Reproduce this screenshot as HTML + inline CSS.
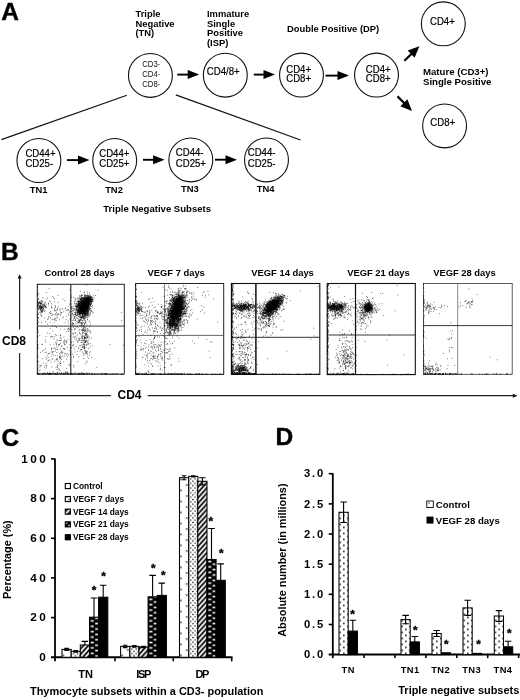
<!DOCTYPE html><html><head><meta charset="utf-8"><title>Figure</title><style>
html,body{margin:0;padding:0;background:#fff}svg{display:block}
text{font-family:"Liberation Sans", Arial, Helvetica, sans-serif;fill:#000}.b{font-weight:bold}.t{font-size:9.4px;font-weight:bold}.c{font-size:10.4px;fill:#000;stroke:#000;stroke-width:.2px}.c2{font-size:8.4px;fill:#111}
.pl{font-size:24.5px;font-weight:bold;stroke:#000;stroke-width:.4px}.ax{font-size:10.7px;font-weight:bold;letter-spacing:2.2px}.lg{font-size:8.4px;font-weight:bold}
</style></head><body>
<svg width="520" height="700" viewBox="0 0 520 700">
<rect width="520" height="700" fill="#fff"/>
<defs>
</defs>
<text x="1.3" y="19.6" class="pl">A</text>
<text x="135.5" y="17" class="t">Triple</text>
<text x="135.5" y="27" class="t">Negative</text>
<text x="135.5" y="36.3" class="t">(TN)</text>
<text x="207" y="17" class="t">Immature</text>
<text x="207" y="27" class="t">Single</text>
<text x="207" y="36.3" class="t">Positive</text>
<text x="207" y="46.3" class="t">(ISP)</text>
<text x="287" y="32" class="t">Double Positive (DP)</text>
<text x="423" y="75" class="t" style="font-size:9.65px">Mature (CD3+)</text>
<text x="423" y="84.6" class="t" style="font-size:9.65px">Single Positive</text>
<circle cx="150.4" cy="75.4" r="21.95" fill="#fff" stroke="#111" stroke-width="1.1"/>
<circle cx="225.3" cy="75.2" r="21.95" fill="#fff" stroke="#111" stroke-width="1.1"/>
<circle cx="301.5" cy="75.1" r="21.95" fill="#fff" stroke="#111" stroke-width="1.1"/>
<circle cx="376.5" cy="75.1" r="21.95" fill="#fff" stroke="#111" stroke-width="1.1"/>
<circle cx="443.3" cy="23.8" r="21.95" fill="#fff" stroke="#111" stroke-width="1.1"/>
<circle cx="444.6" cy="125.9" r="21.95" fill="#fff" stroke="#111" stroke-width="1.1"/>
<circle cx="38.9" cy="160.5" r="21.95" fill="#fff" stroke="#111" stroke-width="1.1"/>
<circle cx="114.7" cy="160.5" r="21.95" fill="#fff" stroke="#111" stroke-width="1.1"/>
<circle cx="190.8" cy="159.9" r="21.95" fill="#fff" stroke="#111" stroke-width="1.1"/>
<circle cx="266.5" cy="159.9" r="21.95" fill="#fff" stroke="#111" stroke-width="1.1"/>
<text class="c2" transform="translate(142.2 67.3) scale(0.925 1)">CD3-</text>
<text class="c2" transform="translate(142.2 77) scale(0.925 1)">CD4-</text>
<text class="c2" transform="translate(142.2 86.7) scale(0.925 1)">CD8-</text>
<text class="c" transform="translate(206.8 75.3) scale(0.925 1)">CD4/8+</text>
<text class="c" transform="translate(286.2 72.6) scale(0.925 1)">CD4+</text>
<text class="c" transform="translate(286.2 82.4) scale(0.925 1)">CD8+</text>
<text class="c" transform="translate(365.8 72.6) scale(0.925 1)">CD4+</text>
<text class="c" transform="translate(365.8 82.4) scale(0.925 1)">CD8+</text>
<text class="c" transform="translate(430 24.9) scale(0.925 1)">CD4+</text>
<text class="c" transform="translate(430.3 125.9) scale(0.925 1)">CD8+</text>
<text class="c" transform="translate(25.4 156.6) scale(0.925 1)">CD44+</text>
<text class="c" transform="translate(25.4 167.2) scale(0.925 1)">CD25-</text>
<text class="c" transform="translate(99.2 156.6) scale(0.925 1)">CD44+</text>
<text class="c" transform="translate(99.2 167.2) scale(0.925 1)">CD25+</text>
<text class="c" transform="translate(175.8 156.4) scale(0.925 1)">CD44-</text>
<text class="c" transform="translate(175.8 166.7) scale(0.925 1)">CD25+</text>
<text class="c" transform="translate(247.7 156.4) scale(0.925 1)">CD44-</text>
<text class="c" transform="translate(247.7 166.7) scale(0.925 1)">CD25-</text>
<line x1="177.3" y1="74.6" x2="188.7" y2="74.6" stroke="#000" stroke-width="1.9"/>
<polygon points="199.2,74.6 187.7,79.1 187.7,70.1" fill="#000"/>
<line x1="253.8" y1="74.6" x2="264.5" y2="74.6" stroke="#000" stroke-width="1.9"/>
<polygon points="275.0,74.6 263.5,79.1 263.5,70.1" fill="#000"/>
<line x1="325.5" y1="75.6" x2="338.5" y2="75.6" stroke="#000" stroke-width="1.9"/>
<polygon points="349.0,75.6 337.5,80.1 337.5,71.1" fill="#000"/>
<line x1="404.4" y1="60.7" x2="411.9" y2="53.5" stroke="#000" stroke-width="2.2"/>
<polygon points="419.4,46.2 414.6,57.8 407.7,50.6" fill="#000"/>
<line x1="397.5" y1="96.4" x2="404.6" y2="103.5" stroke="#000" stroke-width="2.2"/>
<polygon points="412.0,110.9 400.3,106.3 407.4,99.2" fill="#000"/>
<line x1="66.9" y1="160.1" x2="79.0" y2="160.1" stroke="#000" stroke-width="1.9"/>
<polygon points="89.5,160.1 78.0,164.6 78.0,155.6" fill="#000"/>
<line x1="143.0" y1="159.8" x2="154.1" y2="159.8" stroke="#000" stroke-width="1.9"/>
<polygon points="164.6,159.8 153.1,164.3 153.1,155.3" fill="#000"/>
<line x1="215.0" y1="159.7" x2="226.5" y2="159.7" stroke="#000" stroke-width="1.9"/>
<polygon points="237.0,159.7 225.5,164.2 225.5,155.2" fill="#000"/>
<line x1="1.4" y1="139.6" x2="126.9" y2="95.2" stroke="#111" stroke-width="1.2"/>
<line x1="175.8" y1="94.9" x2="300.5" y2="140" stroke="#111" stroke-width="1.2"/>
<text x="38.7" y="193" class="t" text-anchor="middle">TN1</text>
<text x="114" y="193" class="t" text-anchor="middle">TN2</text>
<text x="189.8" y="192.1" class="t" text-anchor="middle">TN3</text>
<text x="265.7" y="192.1" class="t" text-anchor="middle">TN4</text>
<text x="103.3" y="211.8" class="t" style="font-size:9.55px">Triple Negative Subsets</text>
<text x="1.1" y="259.8" class="pl">B</text>
<text x="44.5" y="276.3" class="t">Control 28 days</text>
<text x="147.5" y="276.3" class="t">VEGF 7 days</text>
<text x="251.3" y="276.3" class="t">VEGF 14 days</text>
<text x="347.2" y="276.3" class="t">VEGF 21 days</text>
<text x="433.2" y="276.3" class="t">VEGF 28 days</text>
<text x="2" y="344.7" class="b" font-size="12px">CD8</text>
<text x="117.5" y="398.9" class="b" font-size="12px">CD4</text>
<path d="M19.6 278V329.5M19.6 353V395.7H110.8M147.7 395.7H514" fill="none" stroke="#222" stroke-width="1.2"/>
<polygon points="19.6,274.3 17.6,278.4 21.6,278.4" fill="#111"/><polygon points="517.5,395.7 512.8,393.7 512.8,397.7" fill="#111"/>
<rect x="37.3" y="284.3" width="87.0" height="89.9" fill="#fff" stroke="#222" stroke-width="1.0"/>
<line x1="70.8" y1="284.3" x2="70.8" y2="374.2" stroke="#222" stroke-width="1.1"/>
<line x1="37.3" y1="326.1" x2="124.3" y2="326.1" stroke="#222" stroke-width="0.9"/>
<path d="M82.1 308.8h.8M82.7 305.4h.8M80.7 305.5h.8M85.9 309.0h.8M85.8 308.3h.8M84.1 307.7h.8M78.0 309.7h.8M84.2 309.1h.8M79.5 298.9h.8M80.9 304.5h.8M84.0 306.7h.8M84.9 304.4h.8M83.7 308.6h.8M80.2 313.7h.8M83.9 312.0h.8M81.8 303.5h.8M82.2 306.2h.8M84.7 308.1h.8M82.5 302.6h.8M80.9 311.7h.8M80.7 307.5h.8M85.2 300.8h.8M82.4 312.2h.8M77.7 304.6h.8M83.3 303.4h.8M84.5 306.7h.8M78.5 309.6h.8M84.4 311.0h.8M86.9 308.9h.8M84.2 301.5h.8M85.2 304.5h.8M82.6 301.4h.8M80.8 304.2h.8M87.9 298.9h.8M78.9 307.2h.8M86.7 309.8h.8M79.4 295.5h.8M84.6 303.9h.8M79.4 310.4h.8M86.1 307.9h.8M83.5 308.7h.8M87.1 310.0h.8M84.2 309.3h.8M78.0 311.5h.8M85.4 309.4h.8M78.0 303.3h.8M86.6 299.6h.8M82.0 311.0h.8M78.5 312.9h.8M84.7 306.4h.8M83.6 309.6h.8M82.7 311.6h.8M81.5 304.8h.8M86.0 307.3h.8M80.1 310.4h.8M87.4 305.6h.8M79.4 305.7h.8M82.9 305.5h.8M87.6 303.1h.8M87.4 302.1h.8M80.5 309.1h.8M85.7 310.8h.8M84.0 307.5h.8M83.2 309.3h.8M82.4 307.9h.8M84.7 307.0h.8M84.9 309.5h.8M88.5 309.0h.8M82.2 305.1h.8M82.5 310.6h.8M81.9 308.3h.8M89.8 296.9h.8M79.8 307.3h.8M84.1 308.0h.8M81.5 309.3h.8M84.2 304.8h.8M89.6 309.3h.8M81.6 306.2h.8M82.5 306.4h.8M75.9 303.6h.8M86.6 302.4h.8M82.3 310.7h.8M84.5 313.4h.8M78.6 304.6h.8M81.8 309.2h.8M87.8 296.1h.8M87.0 301.2h.8M85.9 300.9h.8M82.8 311.8h.8M82.6 307.5h.8M85.2 307.7h.8M81.9 313.1h.8M86.2 306.0h.8M91.4 303.2h.8M85.8 306.1h.8M83.0 309.8h.8M83.3 309.5h.8M79.8 299.9h.8M85.4 303.1h.8M81.2 300.3h.8M86.1 310.4h.8M87.8 303.5h.8M83.8 302.1h.8M84.2 313.7h.8M79.7 312.9h.8M85.9 306.5h.8M76.8 311.8h.8M83.2 304.3h.8M83.9 308.7h.8M87.9 303.2h.8M85.3 313.5h.8M87.2 306.7h.8M80.4 310.7h.8M83.3 307.4h.8M87.2 306.3h.8M77.0 304.2h.8M77.5 309.4h.8M84.4 304.4h.8M82.6 310.3h.8M82.5 312.3h.8M82.3 311.1h.8M86.2 314.1h.8M80.7 310.2h.8M78.6 301.5h.8M77.0 310.4h.8M79.7 306.2h.8M82.6 306.6h.8M81.3 307.5h.8M88.0 307.7h.8M83.9 311.2h.8M83.3 301.5h.8M80.9 311.0h.8M78.9 303.6h.8M85.4 310.5h.8M82.6 310.1h.8M84.3 302.0h.8M79.2 303.5h.8M86.0 304.8h.8M81.1 303.2h.8M78.9 305.7h.8M79.6 307.8h.8M76.4 307.2h.8M82.5 298.5h.8M85.3 306.0h.8M77.5 302.2h.8M84.2 305.0h.8M84.8 310.2h.8M84.7 308.4h.8M86.4 310.1h.8M85.7 298.3h.8M84.8 312.6h.8M82.6 304.7h.8M89.6 300.3h.8M82.9 317.1h.8M80.1 309.3h.8M88.4 307.1h.8M84.1 310.8h.8M80.6 306.1h.8M83.4 310.4h.8M83.1 306.0h.8M80.5 304.9h.8M85.5 307.6h.8M81.3 302.9h.8M89.8 312.6h.8M86.5 296.3h.8M84.5 309.1h.8M87.5 309.3h.8M82.6 308.9h.8M77.1 310.3h.8M84.4 304.0h.8M85.6 314.9h.8M79.6 303.4h.8M83.8 307.7h.8M82.6 302.6h.8M88.3 312.0h.8M80.6 300.7h.8M87.2 311.6h.8M87.6 310.9h.8M80.5 307.5h.8M77.6 302.8h.8M82.6 308.9h.8M81.2 306.0h.8M84.1 308.6h.8M84.7 307.9h.8M81.7 309.9h.8M83.8 303.4h.8M81.4 306.5h.8M82.7 307.4h.8M83.0 307.5h.8M83.5 301.5h.8M83.6 311.4h.8M84.4 306.2h.8M84.9 303.0h.8M77.8 306.3h.8M80.1 309.5h.8M81.7 295.4h.8M79.2 312.9h.8M82.9 301.0h.8M80.7 308.6h.8M84.4 307.7h.8M86.8 310.4h.8M82.7 309.3h.8M87.1 311.5h.8M86.6 302.7h.8M82.2 309.8h.8M81.6 311.1h.8M84.2 310.8h.8M80.9 317.3h.8M86.7 306.4h.8M81.7 317.6h.8M81.6 310.3h.8M85.8 307.2h.8M79.8 307.1h.8M83.4 311.6h.8M85.3 307.2h.8M85.1 309.4h.8M83.6 307.1h.8M82.0 309.5h.8M80.6 303.7h.8M84.0 300.7h.8M83.2 298.3h.8M80.9 308.9h.8M84.7 306.8h.8M83.3 300.8h.8M87.8 309.7h.8M86.7 303.6h.8M83.7 299.2h.8M84.7 311.0h.8M77.9 305.8h.8M86.0 299.7h.8M78.7 301.6h.8M82.2 300.7h.8M83.0 307.8h.8M84.4 310.0h.8M86.5 312.3h.8M79.8 304.2h.8M80.8 301.9h.8M82.9 306.8h.8M85.5 300.4h.8M79.7 306.2h.8M82.7 305.4h.8M83.4 303.6h.8M84.8 308.6h.8M83.3 304.0h.8M84.3 295.4h.8M80.4 306.5h.8M78.8 307.0h.8M84.4 301.1h.8M82.6 305.4h.8M84.0 309.5h.8M83.5 303.2h.8M82.7 306.5h.8M84.9 308.3h.8M81.9 300.9h.8M82.5 303.6h.8M80.1 305.9h.8M81.7 307.0h.8M84.8 305.3h.8M89.7 306.4h.8M86.1 307.8h.8M87.7 297.4h.8M80.9 307.5h.8M83.3 316.8h.8M83.2 312.2h.8M84.6 311.1h.8M84.6 306.4h.8M85.2 302.5h.8M87.0 303.1h.8M82.5 315.7h.8M82.5 306.8h.8M86.3 307.4h.8M80.7 307.5h.8M84.3 310.0h.8M79.9 313.8h.8M87.7 307.6h.8M84.1 305.1h.8M87.5 304.5h.8M85.3 305.1h.8M80.7 309.5h.8M86.8 307.3h.8M80.7 309.9h.8M82.8 308.1h.8M86.6 312.1h.8M80.2 316.1h.8M82.6 310.1h.8M81.3 306.3h.8M77.1 313.5h.8M87.6 302.3h.8M80.0 299.4h.8M86.6 305.4h.8M83.1 305.5h.8M83.4 302.2h.8M84.1 300.8h.8M82.7 308.1h.8M84.5 306.0h.8M80.5 307.1h.8M80.8 313.1h.8M85.3 306.6h.8M82.2 303.7h.8M80.7 304.9h.8M83.6 309.1h.8M83.4 315.8h.8M81.1 306.6h.8M92.0 300.2h.8M81.5 307.3h.8M83.3 308.6h.8M82.2 308.2h.8M82.8 310.0h.8M78.4 302.3h.8M83.7 302.5h.8M79.8 309.0h.8M80.9 309.2h.8M85.0 308.4h.8M84.6 306.6h.8M79.2 306.1h.8M84.7 304.8h.8M82.4 309.9h.8M80.3 309.1h.8M88.6 305.3h.8M83.6 306.2h.8M87.2 308.8h.8M86.0 304.3h.8M83.1 306.8h.8M77.3 312.0h.8M86.7 299.9h.8M85.2 306.6h.8M84.1 308.5h.8M79.1 305.3h.8M87.6 305.0h.8M81.1 300.7h.8M79.5 307.7h.8M87.5 309.3h.8M82.4 316.2h.8M82.1 303.8h.8M84.2 309.3h.8M81.0 301.5h.8M83.8 307.9h.8M79.6 305.4h.8M81.3 308.5h.8M82.8 306.4h.8M81.5 311.0h.8M87.2 305.9h.8M85.9 304.0h.8M82.8 309.9h.8M87.5 305.8h.8M82.8 307.6h.8M78.9 306.2h.8M81.0 308.1h.8M81.2 298.1h.8M83.0 307.9h.8M81.0 310.3h.8M82.7 304.2h.8M85.4 300.5h.8M81.2 306.4h.8M85.6 306.5h.8M84.4 304.2h.8M82.9 313.8h.8M79.7 316.3h.8M81.3 306.6h.8M82.9 311.1h.8M81.0 297.6h.8M84.3 310.4h.8M83.2 318.0h.8M83.5 307.9h.8M85.4 308.7h.8M88.5 302.4h.8M84.2 292.3h.8M85.6 305.6h.8M84.3 316.1h.8M83.2 305.7h.8M82.2 303.1h.8M81.0 309.2h.8M83.2 307.1h.8M82.0 310.5h.8M84.6 306.4h.8M85.0 306.4h.8M79.0 312.4h.8M85.0 303.0h.8M85.9 308.7h.8M77.8 312.8h.8M83.5 310.6h.8M83.7 306.3h.8M78.2 310.2h.8M83.4 305.6h.8M84.0 307.3h.8M85.2 305.5h.8M84.3 297.9h.8M81.5 309.4h.8M87.0 305.8h.8M81.8 313.3h.8M81.7 309.7h.8M87.7 307.7h.8M86.9 304.4h.8M83.7 306.6h.8M82.7 311.5h.8M90.1 305.0h.8M81.2 308.6h.8M79.9 308.4h.8M84.9 305.9h.8M85.5 300.6h.8M86.2 300.7h.8M81.5 304.2h.8M81.5 310.2h.8M83.6 305.2h.8M83.6 313.6h.8M82.9 308.3h.8M86.4 308.4h.8M78.0 316.6h.8M90.5 299.5h.8M82.7 308.5h.8M85.4 310.0h.8M83.0 302.3h.8M82.7 311.1h.8M80.7 302.1h.8M84.2 298.7h.8M82.7 304.9h.8M84.8 304.1h.8M80.9 304.8h.8M83.4 304.0h.8M82.7 309.9h.8M85.3 314.4h.8M81.2 304.7h.8M75.0 313.6h.8M81.1 306.4h.8M85.4 301.4h.8M84.4 306.9h.8M77.9 307.2h.8M87.6 299.5h.8M85.2 308.0h.8M84.1 308.8h.8M86.9 306.4h.8M85.8 305.5h.8M85.6 303.7h.8M81.7 313.9h.8M84.4 306.3h.8M80.4 303.0h.8M83.0 310.8h.8M84.0 309.2h.8M82.1 312.4h.8M82.4 304.4h.8M85.5 307.4h.8M82.7 304.3h.8M82.0 309.3h.8M84.8 301.9h.8M84.2 307.7h.8M79.8 309.6h.8M82.5 305.3h.8M84.5 312.6h.8M80.9 308.3h.8M79.2 316.0h.8M81.0 311.6h.8M80.8 309.9h.8M90.8 297.2h.8M81.6 308.7h.8M83.3 304.0h.8M89.0 308.0h.8M78.0 309.7h.8M77.6 310.9h.8M81.4 307.2h.8M86.5 307.8h.8M80.3 299.2h.8M85.9 310.4h.8M80.3 310.0h.8M84.1 309.7h.8M77.0 304.6h.8M85.1 310.2h.8M87.1 297.0h.8M83.3 308.9h.8M90.8 303.9h.8M82.2 306.8h.8M85.8 305.3h.8M86.8 304.0h.8M84.2 304.7h.8M84.0 304.0h.8M78.0 310.7h.8M84.3 304.6h.8M83.0 311.0h.8M80.5 305.9h.8M84.3 309.2h.8M83.5 297.9h.8M86.3 308.7h.8M83.3 305.6h.8M84.1 305.1h.8M80.7 303.3h.8M81.8 304.0h.8M79.5 309.0h.8M79.1 309.0h.8M80.1 307.8h.8M86.8 308.2h.8M81.0 306.7h.8M84.6 299.7h.8M81.3 307.2h.8M81.8 306.9h.8M84.7 310.3h.8M85.2 309.6h.8M82.3 306.6h.8M82.5 305.4h.8M83.7 299.6h.8M82.2 306.6h.8M80.4 306.3h.8M84.6 306.3h.8M90.5 296.8h.8M83.7 299.1h.8M84.1 318.2h.8M76.1 306.3h.8M84.7 305.8h.8M86.0 297.7h.8M85.2 308.7h.8M83.5 304.4h.8M85.2 305.1h.8M84.0 304.8h.8M76.9 305.7h.8M83.2 310.0h.8M80.7 306.3h.8M84.7 307.7h.8M85.3 315.6h.8M81.8 298.4h.8M84.5 313.5h.8M85.1 310.6h.8M81.8 303.6h.8M86.1 303.4h.8M78.7 301.9h.8M88.8 315.8h.8M81.7 303.5h.8M84.2 303.8h.8M86.8 307.0h.8M79.3 311.8h.8M81.3 307.5h.8M83.3 305.5h.8M84.4 304.1h.8M79.4 296.9h.8M80.1 303.1h.8M83.0 307.0h.8M84.6 307.5h.8M81.3 303.5h.8M77.3 305.2h.8M84.1 309.2h.8M82.9 306.0h.8M85.7 307.3h.8M84.8 309.5h.8M82.9 312.3h.8M81.7 305.1h.8M81.4 303.2h.8M86.3 314.8h.8M82.8 309.2h.8M85.8 310.6h.8M87.2 302.1h.8M81.0 308.4h.8M87.0 307.8h.8M80.9 305.0h.8M81.8 303.0h.8M87.6 304.8h.8M81.8 315.8h.8M86.2 308.7h.8M81.1 308.2h.8M87.2 310.1h.8M86.5 307.7h.8M84.7 306.2h.8M83.5 312.4h.8M79.2 305.9h.8M84.1 304.5h.8M81.8 309.9h.8M88.2 310.3h.8M85.0 300.5h.8M88.4 307.9h.8M83.7 302.1h.8M83.6 302.2h.8M83.0 308.8h.8M83.0 308.0h.8M79.8 312.4h.8M82.4 299.0h.8M83.1 303.5h.8M80.5 304.9h.8M84.6 302.0h.8M81.8 312.7h.8M85.1 306.5h.8M83.5 306.4h.8M82.5 309.8h.8M84.4 296.8h.8M83.6 303.1h.8M85.3 304.5h.8M82.1 315.9h.8M80.9 301.7h.8M80.7 296.3h.8M77.7 307.5h.8M82.5 298.8h.8M78.6 308.7h.8M81.2 305.0h.8M83.2 312.6h.8M87.8 311.9h.8M83.4 307.6h.8M87.2 313.5h.8M82.0 308.6h.8M83.9 307.1h.8M82.5 301.1h.8M82.6 300.2h.8M86.2 309.5h.8M78.9 312.1h.8M86.8 299.2h.8M87.7 310.9h.8M89.6 302.6h.8M84.3 308.8h.8M83.6 307.6h.8M87.0 301.0h.8M80.5 300.5h.8M81.9 304.1h.8M83.9 308.1h.8M83.6 304.0h.8M81.3 310.6h.8M85.2 307.5h.8M81.2 313.1h.8M81.0 309.2h.8M86.5 306.2h.8M86.1 302.5h.8M85.8 308.1h.8M78.3 308.9h.8M79.8 311.7h.8M81.3 305.8h.8M84.1 305.5h.8M84.2 304.6h.8M85.0 307.1h.8M85.4 295.5h.8M86.3 307.4h.8M78.1 306.5h.8M83.7 311.4h.8M79.1 312.8h.8M81.2 316.7h.8M82.3 309.6h.8M82.8 302.0h.8M85.6 311.0h.8M86.8 311.0h.8M82.6 299.7h.8M81.7 303.7h.8M80.5 308.9h.8M84.2 305.8h.8M83.7 306.3h.8M83.2 310.0h.8M86.2 304.4h.8M78.0 312.1h.8M82.7 311.4h.8M78.8 304.7h.8M84.1 300.8h.8M81.2 309.6h.8M85.1 313.9h.8M81.6 300.6h.8M84.0 310.9h.8M84.5 301.5h.8M84.8 310.4h.8M84.9 305.0h.8M83.4 310.2h.8M82.7 298.9h.8M83.7 308.9h.8M82.6 310.5h.8M81.5 306.2h.8M81.9 309.0h.8M87.7 306.4h.8M87.8 314.0h.8M84.9 309.6h.8M88.1 306.8h.8M83.5 302.3h.8M83.6 312.6h.8M84.3 308.8h.8M82.4 307.4h.8M78.5 310.6h.8M82.7 302.0h.8M81.5 303.1h.8M84.8 311.6h.8M78.8 310.1h.8M85.9 304.8h.8M79.5 303.1h.8M81.1 308.0h.8M83.4 298.2h.8M84.7 300.5h.8M86.4 302.2h.8M81.7 303.0h.8M80.8 312.0h.8M85.1 309.7h.8M85.0 300.5h.8M82.0 304.3h.8M80.1 308.5h.8M81.5 303.5h.8M81.5 297.8h.8M83.9 312.6h.8M84.2 302.8h.8M75.5 306.4h.8M86.3 308.5h.8M84.7 313.3h.8M86.5 305.4h.8M85.5 310.5h.8M79.1 304.5h.8M79.2 305.8h.8M85.4 302.6h.8M76.6 311.3h.8M83.2 313.1h.8M78.8 310.7h.8M87.6 316.0h.8M82.3 307.8h.8M82.0 310.9h.8M85.9 307.6h.8M78.9 309.3h.8M81.4 309.2h.8M82.8 313.7h.8M86.5 305.4h.8M83.0 314.3h.8M81.3 308.4h.8M85.6 312.5h.8M85.4 301.5h.8M79.5 307.3h.8M82.6 317.5h.8M80.0 311.2h.8M86.3 300.2h.8M80.7 307.1h.8M81.8 306.0h.8M84.9 303.6h.8M84.8 304.4h.8M81.3 308.8h.8M81.3 307.8h.8M87.5 307.6h.8M82.2 309.8h.8M81.4 311.1h.8M79.2 308.8h.8M82.2 303.3h.8M88.5 304.0h.8M87.6 310.3h.8M87.7 303.4h.8M85.5 313.4h.8M82.9 306.2h.8M89.8 308.6h.8M82.3 304.0h.8M84.1 308.4h.8M82.5 314.0h.8M81.9 308.6h.8M87.8 303.2h.8M84.8 314.8h.8M80.0 301.7h.8M81.4 298.7h.8M85.5 299.3h.8M83.6 313.0h.8M78.8 304.8h.8M77.3 309.2h.8M81.2 305.4h.8M82.9 309.1h.8M82.1 306.7h.8M81.5 307.0h.8M79.8 306.6h.8M78.1 304.0h.8M88.4 307.9h.8M79.5 307.3h.8M81.4 299.5h.8M80.6 309.6h.8M84.2 306.6h.8M81.2 301.9h.8M86.7 308.4h.8M81.8 297.6h.8M77.8 316.5h.8M80.0 306.0h.8M83.8 306.2h.8M83.2 301.0h.8M79.1 313.4h.8M80.5 310.0h.8M78.6 305.0h.8M83.2 311.2h.8M79.6 308.8h.8M84.6 303.9h.8M85.0 303.3h.8M80.9 306.4h.8M75.7 305.2h.8M81.2 300.3h.8M81.4 309.8h.8M81.2 311.9h.8M80.7 300.9h.8M87.1 309.1h.8M86.2 303.8h.8M85.2 308.2h.8M84.9 307.2h.8M86.8 304.6h.8M81.4 300.3h.8M86.8 304.2h.8M80.8 302.5h.8M82.7 301.3h.8M82.7 304.1h.8M82.2 302.6h.8M83.5 304.9h.8M83.3 307.9h.8M85.4 297.9h.8M82.1 303.3h.8M86.2 300.6h.8M81.3 305.3h.8M81.5 310.8h.8M81.3 310.6h.8M80.2 298.7h.8M86.2 309.1h.8M84.4 307.5h.8M85.2 302.0h.8M86.1 305.0h.8M85.8 307.6h.8M78.4 300.6h.8M86.3 306.7h.8M81.9 307.6h.8M82.3 304.4h.8M83.3 307.4h.8M87.3 307.6h.8M87.2 315.1h.8M87.2 311.9h.8M83.4 307.4h.8M83.2 303.7h.8M83.3 304.1h.8M87.3 309.7h.8M83.1 298.7h.8M83.2 305.0h.8M80.8 301.6h.8M76.5 308.2h.8M81.3 317.5h.8M83.1 306.2h.8M87.0 308.0h.8M83.8 305.3h.8M80.5 312.8h.8M84.8 314.3h.8M82.1 306.8h.8M80.1 310.4h.8M78.9 308.6h.8M85.2 313.1h.8M79.8 310.9h.8M81.6 303.4h.8M78.7 311.0h.8M88.0 305.0h.8M81.2 305.1h.8M89.4 312.0h.8M82.7 299.1h.8M80.5 311.4h.8M88.4 306.5h.8M81.5 304.4h.8M77.3 309.8h.8M79.4 310.8h.8M79.2 300.8h.8M84.4 303.7h.8M85.3 307.2h.8M79.5 308.9h.8M86.6 299.2h.8M87.8 309.6h.8M86.4 299.4h.8M81.3 305.0h.8M87.0 301.2h.8M81.9 298.0h.8M82.2 308.1h.8M78.8 303.6h.8M83.5 313.6h.8M85.1 305.8h.8M80.4 302.4h.8M81.2 307.1h.8M81.9 313.7h.8M84.6 302.5h.8M86.8 311.4h.8M83.8 303.8h.8M78.6 301.8h.8M86.1 303.8h.8M79.3 307.1h.8M83.4 309.4h.8M84.0 312.9h.8M80.2 310.5h.8M79.9 309.3h.8M83.4 307.9h.8M85.8 307.1h.8M85.6 310.9h.8M83.8 304.5h.8M81.3 304.3h.8M82.6 306.6h.8M91.0 310.7h.8M85.8 303.5h.8M81.3 305.2h.8M84.3 302.6h.8M87.9 305.1h.8M87.6 297.6h.8M82.9 308.0h.8M83.3 309.4h.8M83.8 307.6h.8M78.3 303.0h.8M76.2 308.4h.8M84.1 306.1h.8M81.2 304.0h.8M87.1 314.8h.8M82.1 312.1h.8M79.9 298.1h.8M82.3 303.0h.8M81.4 307.3h.8M91.9 305.3h.8M83.1 308.0h.8M82.4 310.7h.8M88.8 302.4h.8M83.7 305.8h.8M85.0 300.6h.8M79.7 296.4h.8M84.4 307.8h.8M84.8 297.0h.8M82.5 303.5h.8M79.8 302.4h.8M84.7 309.4h.8M82.7 308.9h.8M81.4 306.8h.8M82.9 309.1h.8M83.0 306.2h.8M83.1 304.1h.8M89.0 309.9h.8M82.8 316.5h.8M88.0 300.9h.8M84.5 310.6h.8M87.5 313.1h.8M86.0 302.2h.8M80.5 307.6h.8M85.1 302.8h.8M82.3 305.0h.8M83.1 308.2h.8M83.1 301.5h.8M85.5 313.9h.8M82.2 311.0h.8M83.9 309.7h.8M84.9 303.8h.8M84.1 311.2h.8M79.4 314.6h.8M87.7 315.2h.8M88.1 310.7h.8M82.5 304.2h.8M80.8 306.9h.8M82.6 309.6h.8M76.1 315.6h.8M89.4 307.6h.8M84.7 309.1h.8M84.0 306.0h.8M83.3 303.3h.8M83.6 306.8h.8M84.5 303.4h.8M83.2 307.0h.8M85.4 302.6h.8M83.6 311.1h.8M85.0 305.5h.8M81.9 305.6h.8M84.1 313.6h.8M83.1 304.1h.8M84.0 307.8h.8M81.0 303.4h.8M82.4 309.5h.8M80.4 302.1h.8M85.3 301.9h.8M83.2 308.3h.8M83.4 302.5h.8M83.1 305.4h.8M84.6 303.5h.8M87.2 300.3h.8M82.6 306.8h.8M86.1 304.7h.8M85.0 304.7h.8M84.1 314.3h.8M81.7 308.5h.8M79.9 310.5h.8M86.4 307.5h.8M79.7 308.0h.8M85.6 311.8h.8M86.5 299.5h.8M80.3 312.4h.8M79.0 311.0h.8M87.8 310.8h.8M86.4 305.9h.8M79.8 305.9h.8M82.6 306.5h.8M85.1 306.5h.8M83.4 308.6h.8M81.9 314.5h.8M84.3 307.3h.8M82.9 304.1h.8M86.7 308.0h.8M80.5 304.0h.8M83.0 304.9h.8M86.8 302.4h.8M84.4 307.6h.8M79.8 306.5h.8M82.5 308.8h.8M81.7 307.9h.8M79.2 301.6h.8M84.6 311.5h.8M83.4 304.3h.8M87.4 298.6h.8M80.5 309.3h.8M85.6 302.8h.8M77.0 312.0h.8M84.1 303.1h.8M82.7 310.6h.8M75.2 310.3h.8M86.5 298.5h.8M86.4 299.7h.8M86.0 308.9h.8M89.7 305.2h.8M82.5 311.2h.8M81.8 303.6h.8M82.1 306.3h.8M79.8 308.4h.8M84.6 307.3h.8M88.0 306.2h.8M87.1 305.1h.8M86.4 299.1h.8M83.8 306.2h.8M87.1 298.6h.8M87.6 298.5h.8M83.4 297.0h.8M86.9 298.7h.8M85.4 299.2h.8M89.6 300.6h.8M85.1 303.3h.8M88.8 303.6h.8M90.5 300.8h.8M86.2 303.0h.8M86.5 299.7h.8M88.1 301.7h.8M86.0 302.6h.8M86.5 302.1h.8M89.3 303.1h.8M90.4 298.4h.8M85.3 297.8h.8M87.1 304.5h.8M84.6 300.1h.8M86.5 297.9h.8M86.3 301.9h.8M86.9 303.5h.8M84.5 301.7h.8M89.6 301.5h.8M89.2 299.6h.8M85.6 298.5h.8M83.3 306.8h.8M84.9 304.0h.8M87.7 301.4h.8M90.0 299.3h.8M89.2 302.3h.8M83.6 300.5h.8M88.4 302.1h.8M91.5 301.0h.8M88.0 302.8h.8M84.4 302.5h.8M85.7 296.0h.8M89.9 298.4h.8M89.0 296.5h.8M88.9 297.9h.8M89.9 297.1h.8M88.9 300.3h.8M87.8 300.4h.8M89.2 297.5h.8M81.9 298.2h.8M86.0 298.5h.8M90.6 296.1h.8M86.5 298.3h.8M84.9 300.3h.8M88.1 298.4h.8M84.6 301.5h.8M85.5 301.3h.8M90.5 296.4h.8M85.2 299.5h.8M87.6 302.7h.8M88.3 303.7h.8M87.0 299.6h.8M89.7 300.2h.8M91.5 297.7h.8M89.2 300.7h.8M82.3 301.0h.8M88.3 300.8h.8M85.7 298.4h.8M91.8 299.9h.8M80.8 295.2h.8M85.1 299.1h.8M87.7 297.9h.8M84.7 302.2h.8M82.4 303.8h.8M87.5 297.4h.8M88.8 302.6h.8M84.5 301.3h.8M84.5 296.6h.8M90.3 300.9h.8M84.2 300.5h.8M89.6 301.3h.8M84.0 298.0h.8M87.7 302.7h.8M92.0 301.6h.8M86.6 300.0h.8M91.2 299.4h.8M93.3 295.1h.8M90.0 299.6h.8M87.9 302.6h.8M85.1 299.2h.8M87.5 302.1h.8M86.5 297.3h.8M80.8 304.8h.8M87.4 299.8h.8M83.4 301.3h.8M85.0 303.4h.8M89.5 301.3h.8M90.3 298.5h.8M87.5 298.8h.8M84.8 299.4h.8M85.8 303.8h.8M80.9 295.8h.8M86.0 298.5h.8M88.1 301.9h.8M88.1 299.4h.8M88.3 301.8h.8M83.8 298.1h.8M85.8 296.4h.8M87.9 300.8h.8M88.7 298.5h.8M88.1 298.1h.8M87.7 302.5h.8M90.2 305.2h.8M86.3 298.7h.8M85.2 300.4h.8M91.3 304.0h.8M84.0 295.4h.8M84.2 300.5h.8M87.3 301.2h.8M92.4 300.2h.8M83.7 304.4h.8M89.1 299.0h.8M84.7 295.0h.8M82.1 298.4h.8M86.7 302.9h.8M88.0 298.7h.8M84.0 304.4h.8M83.5 299.3h.8M87.0 302.0h.8M86.2 301.3h.8M89.6 300.9h.8M86.8 299.6h.8M85.7 299.1h.8M86.7 300.7h.8M89.2 304.9h.8M86.0 301.5h.8M87.5 302.6h.8M87.4 301.2h.8M87.4 298.2h.8M88.2 304.4h.8M88.6 302.2h.8M88.6 299.7h.8M83.0 300.4h.8M88.6 299.4h.8M84.2 302.7h.8M81.8 303.0h.8M86.6 306.8h.8M86.0 299.8h.8M86.3 300.4h.8M87.9 298.5h.8M90.8 299.6h.8M85.9 301.4h.8M86.9 299.0h.8M88.8 300.0h.8M84.9 299.1h.8M85.4 304.4h.8M84.2 301.8h.8M86.2 298.9h.8M86.6 300.8h.8M87.7 305.5h.8M84.8 303.1h.8M89.0 303.4h.8M85.0 301.9h.8M87.0 301.2h.8M86.3 301.8h.8M88.9 304.3h.8M86.1 302.7h.8M91.8 299.6h.8M92.2 298.7h.8M88.2 302.4h.8M90.6 302.6h.8M87.3 298.1h.8M84.1 301.2h.8M87.8 298.6h.8M89.6 299.2h.8M87.1 299.0h.8M89.8 305.5h.8M88.8 296.6h.8M88.1 300.9h.8M87.8 302.2h.8M86.0 302.4h.8M89.2 301.8h.8M87.2 299.0h.8M90.2 298.5h.8M88.0 298.6h.8M83.9 300.6h.8M87.5 300.6h.8M91.0 297.7h.8M87.2 301.1h.8M90.5 298.7h.8M89.0 301.7h.8M89.4 304.5h.8M86.6 306.2h.8M88.0 299.5h.8M87.8 297.9h.8M89.4 296.0h.8M87.0 301.4h.8M90.1 300.6h.8M91.3 300.2h.8M89.2 295.9h.8M86.7 297.9h.8M90.3 303.1h.8M84.7 300.7h.8M88.9 300.4h.8M88.0 299.8h.8M88.2 295.9h.8M86.1 303.4h.8M91.0 301.2h.8M86.2 299.3h.8M89.2 302.1h.8M86.0 300.8h.8M86.6 301.5h.8M88.2 296.7h.8M87.0 302.3h.8M85.3 299.2h.8M89.9 300.4h.8M84.2 304.6h.8M88.4 303.7h.8M84.0 303.4h.8M84.5 297.8h.8M87.9 304.3h.8M86.3 298.1h.8M89.9 296.2h.8M88.4 302.4h.8M86.1 301.3h.8M89.0 301.9h.8M87.2 304.5h.8M86.4 300.4h.8M85.5 302.4h.8M86.3 301.2h.8M87.8 300.8h.8M91.4 301.9h.8M89.8 303.7h.8M90.6 301.3h.8M88.8 303.1h.8M86.0 300.6h.8M87.4 300.3h.8M91.1 300.0h.8M85.7 295.0h.8M87.3 298.6h.8M87.1 301.8h.8M91.1 302.8h.8M89.3 299.2h.8M87.5 304.2h.8M92.4 297.2h.8M88.0 305.0h.8M90.8 297.8h.8M86.4 301.6h.8M89.3 299.0h.8M84.8 301.9h.8M83.4 302.6h.8M87.3 301.2h.8M85.3 297.9h.8M90.5 297.7h.8M93.4 299.1h.8M85.0 299.5h.8M87.9 302.6h.8M87.0 299.7h.8M87.7 299.0h.8M81.2 300.4h.8M88.0 301.1h.8M86.0 300.5h.8M87.6 300.3h.8M91.6 297.5h.8M89.2 298.3h.8M85.5 303.7h.8M85.4 299.3h.8M85.4 302.2h.8M87.2 295.7h.8M89.0 300.1h.8M85.9 302.7h.8M86.1 298.8h.8M87.5 301.6h.8M85.5 302.4h.8M92.8 301.6h.8M93.6 297.3h.8M90.9 301.0h.8M88.2 299.8h.8M87.5 297.0h.8M85.5 303.1h.8M90.4 300.7h.8M87.2 298.4h.8M83.3 303.6h.8M88.9 301.4h.8M87.6 297.7h.8M89.6 303.5h.8M84.6 301.9h.8M84.6 301.0h.8M86.0 298.7h.8M88.2 301.9h.8M90.6 299.5h.8M89.6 305.0h.8M87.1 301.6h.8M86.1 299.5h.8M84.7 299.5h.8M86.7 303.8h.8M88.8 303.2h.8M87.1 299.7h.8M86.7 300.7h.8M82.8 300.5h.8M84.8 297.9h.8M88.1 299.3h.8M91.2 301.8h.8M89.8 304.6h.8M86.2 301.0h.8M90.7 300.9h.8M88.3 299.3h.8M88.1 299.7h.8M86.8 302.9h.8M90.4 302.1h.8M87.2 302.6h.8M88.0 297.8h.8M90.9 299.3h.8M90.5 299.1h.8M92.5 299.7h.8M87.9 304.7h.8M84.1 303.1h.8M87.6 295.7h.8M88.5 302.8h.8M89.6 294.5h.8M87.8 299.7h.8M87.1 299.5h.8M84.4 297.6h.8M89.9 305.7h.8M87.5 298.5h.8M87.4 303.3h.8M90.3 298.5h.8M87.8 301.0h.8M89.5 304.5h.8M87.5 303.8h.8M85.3 303.7h.8M86.3 301.0h.8M90.4 299.2h.8M87.8 295.8h.8M88.0 300.5h.8M86.4 301.4h.8M83.1 298.5h.8M88.0 300.0h.8M87.6 305.2h.8M87.6 297.9h.8M86.2 300.2h.8M89.7 299.0h.8M90.7 299.0h.8M88.9 302.2h.8M86.5 305.9h.8M87.2 299.9h.8M87.8 302.9h.8M84.5 299.9h.8M85.4 301.3h.8M90.5 301.8h.8M87.2 300.8h.8M80.6 299.6h.8M88.6 301.4h.8M87.5 298.5h.8M86.0 303.1h.8M79.4 317.1h.8M70.1 303.7h.8M82.9 309.2h.8M74.6 303.4h.8M89.1 302.3h.8M78.3 301.3h.8M78.2 312.4h.8M86.9 297.2h.8M89.2 306.8h.8M76.8 318.6h.8M82.8 301.3h.8M79.5 303.9h.8M77.3 306.0h.8M85.3 312.0h.8M71.6 324.7h.8M76.8 308.8h.8M80.8 313.7h.8M79.5 311.5h.8M91.4 311.6h.8M76.1 310.0h.8M78.3 306.0h.8M82.1 311.2h.8M79.2 313.9h.8M82.3 300.8h.8M86.2 307.6h.8M88.1 306.2h.8M83.9 311.5h.8M70.8 297.3h.8M74.6 316.5h.8M71.6 312.8h.8M86.1 313.1h.8M85.4 306.6h.8M81.3 310.4h.8M82.7 313.7h.8M81.5 304.5h.8M78.4 311.0h.8M75.3 299.7h.8M80.3 305.2h.8M83.6 292.5h.8M80.3 307.1h.8M87.7 297.6h.8M79.6 311.6h.8M82.4 316.8h.8M87.9 303.6h.8M85.0 307.6h.8M75.9 317.6h.8M79.7 303.2h.8M80.7 303.4h.8M85.9 312.3h.8M87.7 312.9h.8M77.4 314.8h.8M79.1 305.5h.8M80.8 309.1h.8M88.0 306.4h.8M83.3 309.2h.8M77.0 301.1h.8M80.1 311.3h.8M82.5 312.2h.8M82.4 306.3h.8M84.9 303.3h.8M75.7 305.7h.8M75.5 304.5h.8M78.8 304.9h.8M82.4 304.0h.8M81.7 298.1h.8M83.4 303.7h.8M87.0 292.0h.8M77.5 309.7h.8M70.5 304.4h.8M81.9 309.7h.8M74.2 309.0h.8M83.5 303.2h.8M85.2 309.4h.8M82.2 306.3h.8M84.1 310.1h.8M86.4 312.9h.8M79.0 307.0h.8M86.4 307.6h.8M82.8 312.6h.8M83.7 294.5h.8M82.0 310.4h.8M83.2 304.5h.8M87.5 309.3h.8M79.5 304.0h.8M84.7 302.6h.8M74.4 320.4h.8M86.5 316.8h.8M87.3 314.0h.8M72.1 314.7h.8M86.9 313.2h.8M70.8 314.8h.8M88.7 307.3h.8M81.2 313.9h.8M79.8 315.7h.8M81.1 313.3h.8M83.9 300.0h.8M72.9 327.6h.8M81.3 317.4h.8M84.9 320.7h.8M85.0 305.9h.8M84.1 297.2h.8M79.6 314.4h.8M71.1 308.1h.8M83.9 318.0h.8M78.0 304.1h.8M74.0 300.9h.8M81.5 322.3h.8M74.4 316.4h.8M84.3 306.4h.8M95.2 295.5h.8M81.0 310.3h.8M89.5 322.2h.8M92.2 312.0h.8M84.6 318.4h.8M83.6 311.7h.8M81.2 306.3h.8M73.3 319.9h.8M82.1 295.7h.8M82.9 309.0h.8M80.2 320.4h.8M81.4 307.3h.8M78.1 308.1h.8M79.3 309.8h.8M75.1 320.1h.8M84.7 314.9h.8M84.0 314.8h.8M83.0 318.4h.8M84.7 318.3h.8M79.2 308.5h.8M76.9 314.2h.8M86.1 306.9h.8M81.1 325.8h.8M88.9 303.3h.8M80.4 312.8h.8M80.9 311.4h.8M86.8 312.2h.8M75.5 312.4h.8M81.0 309.6h.8M80.6 299.9h.8M76.1 305.6h.8M79.9 291.1h.8M88.5 302.9h.8M77.5 311.6h.8M68.4 315.0h.8M77.1 312.4h.8M78.9 310.4h.8M82.1 309.1h.8M74.7 298.1h.8M79.6 317.7h.8M78.3 311.8h.8M81.8 312.2h.8M88.2 300.7h.8M83.1 308.2h.8M81.2 303.4h.8M79.1 301.8h.8M73.2 323.5h.8M89.7 310.7h.8M86.4 303.7h.8M70.6 295.0h.8M80.5 318.1h.8M82.7 302.7h.8M81.7 302.6h.8M75.2 306.2h.8M80.7 303.6h.8M78.5 302.4h.8M81.0 317.9h.8M77.8 322.7h.8M73.5 309.1h.8M76.3 306.9h.8M81.4 312.6h.8M87.7 306.6h.8M75.9 306.6h.8M83.9 304.9h.8M83.7 320.3h.8M74.4 309.9h.8M88.9 298.1h.8M82.9 307.8h.8M73.1 315.8h.8M83.2 306.2h.8M82.9 313.4h.8M84.5 313.3h.8M85.0 302.1h.8M79.4 309.4h.8M65.7 319.6h.8M81.1 302.1h.8M72.6 308.8h.8M82.5 305.4h.8M80.7 303.1h.8M78.1 307.7h.8M77.7 312.6h.8M80.8 309.7h.8M81.9 317.3h.8M84.2 311.0h.8M81.8 303.8h.8M79.1 312.9h.8M83.2 306.8h.8M77.2 298.2h.8M81.8 315.7h.8M85.1 300.8h.8M80.3 310.2h.8M76.8 310.3h.8M81.7 303.6h.8M74.6 312.8h.8M84.4 303.8h.8M75.6 313.5h.8M84.8 307.7h.8M89.6 308.7h.8M75.2 314.8h.8M80.3 311.0h.8M83.0 302.8h.8M76.2 306.6h.8M89.6 304.1h.8M87.8 311.7h.8M76.0 309.6h.8M85.4 304.0h.8M71.0 309.2h.8M75.8 310.7h.8M72.7 306.3h.8M79.6 299.0h.8M80.2 309.8h.8M80.4 301.1h.8M84.8 298.4h.8M83.5 312.6h.8M88.5 316.1h.8M83.0 311.0h.8M83.4 300.8h.8M87.9 313.7h.8M81.7 301.6h.8M88.0 313.7h.8M75.1 312.0h.8M90.7 310.7h.8M84.0 306.8h.8M77.3 315.0h.8M80.0 313.8h.8M79.2 313.2h.8M86.8 303.5h.8M76.6 307.5h.8M85.2 311.5h.8M89.2 301.7h.8M84.7 305.6h.8M81.7 311.1h.8M77.3 306.7h.8M75.7 309.5h.8M78.2 305.1h.8M83.5 305.2h.8M87.9 306.2h.8M85.3 311.6h.8M77.0 306.7h.8M78.1 306.0h.8M78.0 320.0h.8M77.6 318.3h.8M85.4 301.4h.8M69.8 311.0h.8M71.2 311.5h.8M86.0 312.4h.8M80.9 307.2h.8M83.2 307.4h.8M79.5 306.2h.8M87.9 306.3h.8M84.8 302.3h.8M79.9 299.8h.8M79.8 313.0h.8M83.7 306.3h.8M84.9 307.4h.8M83.0 311.0h.8M87.3 294.2h.8M74.5 312.5h.8M78.3 322.7h.8M81.2 305.4h.8M88.0 313.9h.8M90.0 314.0h.8M79.7 313.3h.8M78.4 305.5h.8M79.2 307.1h.8M85.9 306.8h.8M83.7 306.2h.8M89.2 292.9h.8M80.4 309.8h.8M75.2 314.2h.8M81.0 317.1h.8M85.4 313.9h.8M82.2 302.2h.8M81.1 306.0h.8M83.4 306.4h.8M87.7 307.2h.8M79.3 314.5h.8M83.1 301.5h.8M83.8 308.2h.8M71.6 308.2h.8M77.5 303.4h.8M83.5 311.3h.8M77.5 322.1h.8M84.4 305.6h.8M82.9 308.5h.8M73.1 297.2h.8M72.4 320.4h.8M81.1 307.1h.8M77.7 314.5h.8M79.6 319.5h.8M83.3 319.9h.8M80.6 311.2h.8M79.8 307.5h.8M74.1 303.8h.8M77.9 304.1h.8M87.0 311.8h.8M86.3 315.4h.8M84.7 316.1h.8M77.7 313.3h.8M80.7 305.4h.8M84.6 323.4h.8M74.8 318.7h.8M86.6 304.6h.8M82.4 311.5h.8M83.8 307.2h.8M75.5 308.0h.8M84.7 314.6h.8M83.3 316.4h.8M77.0 307.8h.8M82.0 315.5h.8M81.7 312.3h.8M79.6 322.0h.8M71.3 306.8h.8M93.0 312.8h.8M72.8 308.1h.8M75.7 303.5h.8M80.5 319.7h.8M83.0 313.5h.8M86.2 311.2h.8M77.7 307.6h.8M83.5 307.6h.8M78.9 306.2h.8M75.8 301.3h.8M81.6 306.7h.8M80.0 317.6h.8M83.1 309.1h.8M77.4 301.3h.8M84.5 304.0h.8M85.0 302.8h.8M82.3 308.7h.8M86.8 307.5h.8M79.5 310.2h.8M79.8 319.4h.8M81.1 305.5h.8M79.5 311.6h.8M81.8 313.5h.8M72.0 322.9h.8M90.3 310.6h.8M75.7 308.8h.8M86.3 295.7h.8M83.5 300.0h.8M82.0 317.9h.8M88.3 300.8h.8M87.0 315.9h.8M79.3 311.7h.8M89.2 308.4h.8M82.2 305.6h.8M89.7 296.9h.8M89.5 304.4h.8M88.0 299.9h.8M77.9 304.4h.8M87.5 299.9h.8M85.2 305.7h.8M87.8 308.3h.8M84.1 308.4h.8M90.5 308.5h.8M79.0 321.1h.8M81.1 313.3h.8M77.9 309.5h.8M70.8 307.5h.8M80.4 299.2h.8M73.5 314.6h.8M85.5 300.1h.8M91.0 306.5h.8M79.6 310.2h.8M78.2 298.0h.8M76.6 315.5h.8M88.1 300.2h.8M87.2 310.4h.8M83.9 309.8h.8M84.8 303.3h.8M78.2 303.8h.8M79.1 312.4h.8M73.9 317.6h.8M79.3 304.8h.8M84.4 312.3h.8M81.3 302.1h.8M78.9 298.2h.8M85.6 316.7h.8M89.8 313.8h.8M82.2 314.0h.8M86.4 308.3h.8M80.6 322.5h.8M75.4 298.8h.8M76.1 312.7h.8M87.6 308.1h.8M84.8 309.3h.8M83.7 306.0h.8M81.5 308.9h.8M84.2 323.8h.8M72.4 310.5h.8M80.4 314.9h.8M85.6 314.8h.8M86.6 303.9h.8M71.5 317.6h.8M88.5 304.3h.8M86.9 314.3h.8M68.9 312.2h.8M75.5 315.2h.8M79.3 303.8h.8M74.6 306.2h.8M87.2 305.9h.8M70.2 320.4h.8M89.5 315.0h.8M80.6 301.1h.8M73.2 310.9h.8M89.1 303.7h.8M81.9 307.3h.8M79.8 311.8h.8M92.3 307.1h.8M84.3 316.5h.8M80.4 307.8h.8M73.9 314.3h.8M79.9 304.5h.8M83.0 303.8h.8M77.0 306.2h.8M88.9 309.2h.8M85.9 300.5h.8M70.1 318.3h.8M81.6 299.2h.8M80.3 312.6h.8M74.5 301.9h.8M84.0 303.6h.8M84.2 315.7h.8M84.2 306.8h.8M82.2 305.1h.8M80.6 310.8h.8M79.0 314.7h.8M82.2 314.4h.8M84.9 308.2h.8M78.1 314.7h.8M83.9 312.7h.8M77.0 312.1h.8M85.6 308.6h.8M81.9 323.0h.8M72.0 310.9h.8M77.8 299.5h.8M39.3 308.1h.8M40.0 303.1h.8M39.9 304.1h.8M37.6 306.0h.8M38.4 304.8h.8M40.0 305.6h.8M41.6 303.1h.8M39.7 308.7h.8M43.1 308.1h.8M40.0 302.0h.8M41.7 308.2h.8M37.0 303.1h.8M40.3 303.5h.8M44.2 304.7h.8M38.4 309.0h.8M40.8 303.9h.8M42.1 312.1h.8M37.0 300.9h.8M41.6 308.5h.8M42.5 307.7h.8M38.1 303.1h.8M39.1 312.2h.8M41.2 300.9h.8M42.3 310.1h.8M40.0 303.0h.8M44.7 302.7h.8M39.7 300.9h.8M42.9 309.9h.8M38.8 302.5h.8M39.7 307.6h.8M39.6 308.6h.8M40.1 307.8h.8M40.8 303.8h.8M39.6 305.4h.8M41.2 304.2h.8M43.8 306.6h.8M41.3 308.3h.8M42.7 307.7h.8M45.0 307.9h.8M41.4 307.9h.8M38.1 304.5h.8M38.1 309.9h.8M40.9 311.7h.8M41.3 312.0h.8M41.2 303.0h.8M44.7 307.5h.8M43.2 307.1h.8M39.0 307.0h.8M37.5 305.0h.8M40.7 312.5h.8M45.0 306.4h.8M42.3 305.9h.8M41.0 306.4h.8M38.4 306.7h.8M39.1 303.3h.8M38.9 308.1h.8M38.0 307.9h.8M41.5 311.1h.8M36.9 306.2h.8M41.3 310.9h.8M40.6 308.7h.8M44.5 305.7h.8M45.9 304.3h.8M39.1 301.8h.8M41.7 307.3h.8M45.5 307.0h.8M39.2 302.3h.8M39.7 309.3h.8M41.9 310.1h.8M42.3 306.4h.8M41.6 307.0h.8M40.9 303.4h.8M41.0 307.4h.8M42.7 310.8h.8M44.1 303.7h.8M40.8 307.5h.8M40.4 308.7h.8M46.0 307.4h.8M38.2 299.5h.8M42.9 306.1h.8M39.6 303.6h.8M41.9 301.2h.8M40.2 306.9h.8M40.7 310.4h.8M39.6 306.8h.8M42.3 301.9h.8M39.1 306.7h.8M42.6 304.1h.8M42.1 307.6h.8M40.5 308.7h.8M42.2 304.9h.8M42.9 308.9h.8M41.2 307.9h.8M37.0 302.9h.8M38.9 306.9h.8M39.8 305.5h.8M37.1 307.1h.8M37.8 302.3h.8M40.2 310.8h.8M38.8 303.3h.8M43.8 311.6h.8M39.1 305.9h.8M40.5 315.3h.8M40.3 309.5h.8M41.1 301.1h.8M41.1 306.8h.8M44.9 305.7h.8M40.8 306.7h.8M40.3 313.4h.8M40.7 310.9h.8M43.5 304.7h.8M41.8 305.4h.8M40.2 307.0h.8M40.0 305.1h.8M44.2 305.7h.8M41.9 311.5h.8M41.6 309.6h.8M43.8 309.8h.8M44.7 302.2h.8M45.4 306.6h.8M40.7 307.0h.8M37.7 305.8h.8M39.6 306.7h.8M54.5 310.2h.8M62.5 299.2h.8M50.2 313.1h.8M51.0 307.6h.8M50.7 313.7h.8M65.8 310.5h.8M52.2 314.8h.8M52.4 296.5h.8M57.0 309.0h.8M49.5 317.0h.8M55.0 307.5h.8M54.7 311.1h.8M58.5 313.8h.8M50.3 301.9h.8M44.8 310.9h.8M44.3 318.0h.8M42.7 297.7h.8M52.9 297.8h.8M69.2 304.1h.8M54.1 310.0h.8M47.2 297.9h.8M37.9 318.9h.8M63.8 329.3h.8M41.4 316.5h.8M54.5 318.8h.8M50.0 317.8h.8M62.7 316.9h.8M67.6 310.6h.8M68.5 306.4h.8M69.6 290.0h.8M54.7 305.6h.8M54.6 320.2h.8M61.1 312.8h.8M69.9 300.2h.8M47.3 324.1h.8M57.6 295.4h.8M57.7 302.5h.8M67.9 321.2h.8M49.7 322.3h.8M47.1 319.4h.8M59.8 311.0h.8M41.8 309.8h.8M37.9 321.7h.8M45.9 292.5h.8M59.9 315.0h.8M50.0 328.9h.8M61.6 312.5h.8M48.8 288.4h.8M58.9 319.7h.8M49.3 300.7h.8M54.2 298.6h.8M54.7 318.2h.8M68.2 314.1h.8M56.4 318.0h.8M67.2 309.4h.8M43.5 305.7h.8M43.3 304.9h.8M53.5 314.7h.8M56.0 312.6h.8M51.4 315.4h.8M62.6 318.1h.8M68.1 309.7h.8M52.3 325.6h.8M56.4 315.3h.8M51.6 319.8h.8M51.0 303.9h.8M54.1 308.5h.8M62.1 309.0h.8M55.7 310.3h.8M57.7 307.0h.8M64.5 300.6h.8M51.1 306.3h.8M60.4 312.3h.8M59.0 309.4h.8M48.1 303.0h.8M51.6 307.7h.8M57.1 314.8h.8M63.4 311.1h.8M47.9 303.5h.8M55.2 314.9h.8M72.1 313.5h.8M70.4 327.0h.8M45.2 321.7h.8M64.8 322.8h.8M54.5 319.6h.8M50.3 311.4h.8M54.8 326.3h.8M52.7 319.6h.8M55.2 306.3h.8M56.8 317.3h.8M48.2 317.1h.8M48.2 305.0h.8M56.6 310.1h.8M45.8 299.0h.8M54.8 313.9h.8M50.5 313.5h.8M40.9 315.1h.8M58.3 314.2h.8M49.1 312.6h.8M55.8 320.6h.8M57.1 314.0h.8M48.1 318.9h.8M65.2 308.1h.8M60.3 314.5h.8M54.2 301.7h.8M70.4 297.1h.8M57.3 309.0h.8M64.9 308.6h.8M83.9 342.7h.8M85.2 330.3h.8M85.8 340.3h.8M86.8 330.4h.8M83.7 331.7h.8M81.3 338.8h.8M85.0 351.6h.8M82.8 340.3h.8M87.2 334.7h.8M84.0 337.5h.8M81.7 325.2h.8M87.1 337.9h.8M83.6 322.4h.8M84.2 348.9h.8M80.4 326.2h.8M87.1 351.7h.8M88.4 329.9h.8M85.6 327.8h.8M85.4 332.0h.8M84.4 350.7h.8M84.8 333.4h.8M84.0 338.9h.8M82.3 338.3h.8M85.6 353.1h.8M77.6 323.0h.8M80.1 345.6h.8M91.1 338.1h.8M84.2 348.5h.8M76.5 334.0h.8M74.5 337.7h.8M82.3 330.7h.8M84.8 329.6h.8M87.1 336.0h.8M84.9 363.7h.8M82.5 346.1h.8M81.3 349.6h.8M86.7 337.5h.8M86.8 353.6h.8M87.9 336.0h.8M83.6 348.1h.8M79.4 329.4h.8M85.2 342.2h.8M89.3 355.2h.8M84.8 340.8h.8M79.9 334.0h.8M84.6 333.5h.8M84.0 342.6h.8M81.0 329.8h.8M78.5 348.5h.8M80.7 317.5h.8M86.1 333.7h.8M86.7 332.0h.8M90.1 343.8h.8M84.2 337.3h.8M83.2 344.8h.8M89.7 331.4h.8M80.6 342.5h.8M87.0 319.8h.8M81.7 325.2h.8M85.5 341.5h.8M81.6 323.8h.8M85.8 313.7h.8M85.7 334.3h.8M89.5 346.8h.8M82.1 333.0h.8M83.0 328.1h.8M84.0 346.5h.8M79.3 333.5h.8M88.2 344.1h.8M81.4 327.3h.8M81.3 318.6h.8M87.2 336.8h.8M81.7 320.5h.8M82.7 330.5h.8M88.9 331.0h.8M84.1 347.6h.8M85.8 334.0h.8M77.4 351.2h.8M85.6 331.3h.8M83.5 325.7h.8M81.1 319.9h.8M85.3 341.6h.8M84.3 344.4h.8M85.4 337.3h.8M81.2 342.4h.8M87.3 342.8h.8M87.5 330.9h.8M80.9 349.5h.8M82.1 338.6h.8M83.2 336.2h.8M83.0 330.2h.8M78.5 356.6h.8M84.4 315.2h.8M81.1 323.8h.8M81.6 308.5h.8M85.5 353.7h.8M83.1 344.0h.8M85.6 322.6h.8M87.4 317.8h.8M82.1 332.1h.8M87.5 337.3h.8M83.4 327.3h.8M84.1 336.5h.8M85.9 351.0h.8M86.0 336.2h.8M83.4 353.3h.8M84.4 335.8h.8M89.1 352.9h.8M85.5 334.8h.8M81.9 347.5h.8M82.5 346.3h.8M81.5 337.1h.8M85.0 337.6h.8M84.5 340.1h.8M80.5 324.1h.8M83.4 355.4h.8M83.4 326.0h.8M81.9 336.4h.8M87.3 329.9h.8M85.4 338.0h.8M82.8 325.8h.8M83.4 328.2h.8M85.4 317.1h.8M87.1 344.2h.8M85.5 352.1h.8M85.6 317.6h.8M84.0 340.8h.8M81.8 323.9h.8M85.1 341.5h.8M82.6 333.4h.8M82.3 329.9h.8M83.6 347.5h.8M79.1 332.3h.8M88.5 339.4h.8M84.3 345.0h.8M80.9 323.0h.8M78.9 320.4h.8M84.5 345.1h.8M82.6 328.7h.8M85.0 342.6h.8M84.6 315.6h.8M82.2 308.8h.8M84.5 326.9h.8M81.9 352.1h.8M87.7 341.2h.8M84.6 337.9h.8M82.1 335.5h.8M89.4 326.6h.8M81.9 337.7h.8M86.4 344.9h.8M81.0 334.6h.8M83.0 322.8h.8M84.0 330.9h.8M86.5 340.6h.8M81.5 336.9h.8M82.8 329.2h.8M82.4 347.4h.8M82.6 317.7h.8M81.5 344.6h.8M90.1 324.7h.8M82.8 332.5h.8M79.7 340.3h.8M83.7 339.0h.8M90.3 333.2h.8M86.1 344.9h.8M81.9 329.7h.8M88.3 343.7h.8M84.2 324.3h.8M86.4 341.6h.8M90.2 351.8h.8M86.1 338.9h.8M84.0 330.1h.8M84.7 338.6h.8M85.7 347.6h.8M84.7 330.2h.8M86.2 352.6h.8M81.4 340.5h.8M85.4 341.7h.8M85.3 335.0h.8M83.5 354.0h.8M88.9 321.0h.8M76.4 340.7h.8M81.8 330.5h.8M79.2 339.8h.8M83.6 330.2h.8M86.4 362.0h.8M88.1 348.6h.8M82.6 343.0h.8M83.7 348.4h.8M85.5 335.6h.8M85.4 328.3h.8M86.1 352.1h.8M82.7 341.9h.8M78.9 346.0h.8M86.4 325.1h.8M88.9 337.2h.8M78.8 321.4h.8M86.3 333.1h.8M87.0 319.4h.8M83.5 346.4h.8M74.3 329.0h.8M75.9 327.0h.8M79.2 338.0h.8M71.6 329.5h.8M84.0 318.4h.8M78.0 338.5h.8M82.7 307.7h.8M76.4 315.0h.8M79.1 320.8h.8M74.9 320.1h.8M79.0 322.3h.8M73.2 323.7h.8M79.6 320.0h.8M83.0 315.3h.8M79.6 322.7h.8M85.2 321.3h.8M74.4 317.2h.8M87.2 328.6h.8M72.3 323.0h.8M72.9 333.9h.8M79.6 313.1h.8M78.6 330.3h.8M77.6 327.8h.8M77.1 326.2h.8M78.6 320.9h.8M79.3 326.0h.8M77.4 321.0h.8M72.7 326.4h.8M81.6 310.9h.8M75.0 332.9h.8M82.0 320.8h.8M84.2 319.2h.8M73.8 336.3h.8M75.5 323.7h.8M69.6 319.1h.8M71.9 324.2h.8M68.7 331.2h.8M75.9 321.5h.8M74.5 329.3h.8M85.1 322.6h.8M85.4 334.4h.8M84.1 326.7h.8M70.4 328.9h.8M75.6 326.1h.8M68.4 323.4h.8M67.8 339.3h.8M52.7 371.5h.8M66.3 342.4h.8M90.1 331.7h.8M51.7 351.9h.8M70.0 319.9h.8M57.5 361.1h.8M46.3 365.3h.8M57.0 366.3h.8M49.9 344.8h.8M69.8 354.5h.8M65.6 342.9h.8M72.4 345.2h.8M73.7 325.1h.8M39.5 366.8h.8M59.7 352.8h.8M45.4 342.1h.8M84.0 338.6h.8M44.9 340.0h.8M58.1 345.6h.8M59.8 329.1h.8M48.1 353.7h.8M55.4 360.0h.8M49.5 353.6h.8M57.0 349.6h.8M67.0 353.6h.8M68.0 328.3h.8M56.4 359.9h.8M56.5 347.0h.8M56.1 327.5h.8M55.7 367.3h.8M68.4 328.3h.8M67.2 329.4h.8M47.1 372.9h.8M63.6 349.1h.8M70.2 348.8h.8M61.7 353.6h.8M72.5 333.4h.8M60.4 363.3h.8M60.7 308.7h.8M45.4 365.4h.8M56.7 358.5h.8M59.2 362.9h.8M59.6 340.6h.8M59.6 358.8h.8M62.6 356.2h.8M50.6 362.0h.8M57.6 364.8h.8M42.1 344.3h.8M55.2 349.2h.8M59.1 344.5h.8M59.9 355.0h.8M70.1 315.9h.8M51.8 354.1h.8M52.0 352.4h.8M63.6 337.0h.8M60.2 349.0h.8M75.4 336.8h.8M47.6 361.1h.8M70.0 347.0h.8M53.0 351.7h.8M53.6 339.0h.8M73.8 318.6h.8M60.2 361.6h.8M76.8 335.8h.8M56.4 335.4h.8M38.9 371.1h.8M55.5 342.7h.8M59.3 356.4h.8M77.5 341.4h.8M66.0 354.9h.8M51.3 347.8h.8M40.8 365.4h.8M49.3 360.1h.8M73.6 346.8h.8M53.4 348.5h.8M47.7 357.6h.8M66.5 341.1h.8M51.3 356.7h.8M40.0 366.1h.8M56.2 344.8h.8M44.2 367.1h.8M58.6 369.2h.8M64.7 353.4h.8M68.7 364.2h.8M60.2 358.7h.8M64.2 356.0h.8M69.1 329.4h.8M83.2 340.8h.8M49.5 333.6h.8M67.1 372.0h.8M54.7 351.2h.8M72.5 325.0h.8M56.4 352.5h.8M76.3 339.0h.8M54.0 322.4h.8M62.5 352.2h.8M60.8 352.4h.8M66.3 331.6h.8M61.5 356.4h.8M57.2 367.7h.8M65.9 316.3h.8M51.6 351.8h.8M56.1 359.1h.8M86.8 354.7h.8M63.0 341.9h.8M59.2 357.4h.8M45.6 363.2h.8M66.1 359.6h.8M61.2 346.6h.8M44.8 352.5h.8M56.6 340.3h.8M73.4 341.9h.8M51.6 359.0h.8M78.2 347.8h.8M72.5 345.6h.8M60.4 357.5h.8M46.2 359.0h.8M73.2 356.9h.8M69.7 336.2h.8M73.1 357.0h.8M46.8 355.2h.8M54.3 336.3h.8M80.4 349.7h.8M59.4 340.4h.8M53.2 355.0h.8M77.2 342.4h.8M74.7 328.8h.8M72.1 354.2h.8M46.2 366.9h.8M51.5 366.9h.8M54.5 347.9h.8M64.4 348.8h.8M75.9 346.3h.8M59.5 370.7h.8M52.4 331.0h.8M57.4 340.0h.8M64.5 349.2h.8M64.0 344.5h.8M57.1 355.8h.8M70.7 342.7h.8M64.4 340.0h.8M68.1 331.3h.8M63.4 361.8h.8M63.9 341.0h.8M61.4 340.0h.8M39.5 365.2h.8M91.8 345.9h.8M48.7 353.2h.8M74.5 332.3h.8M43.5 350.2h.8M37.6 361.0h.8M56.5 349.4h.8M64.0 342.9h.8M61.4 345.7h.8M70.1 353.2h.8M63.6 343.2h.8M60.5 338.5h.8M49.5 373.2h.8M67.2 356.9h.8M66.4 368.6h.8M63.1 348.6h.8M51.2 349.3h.8M68.0 328.9h.8M39.6 369.9h.8M59.1 357.0h.8M64.9 344.8h.8M57.3 365.3h.8M55.3 355.4h.8M70.9 347.5h.8M66.3 341.3h.8M67.2 347.4h.8M73.5 344.4h.8M74.7 352.0h.8M60.1 335.7h.8M70.6 341.5h.8M65.8 372.4h.8M73.0 333.9h.8M64.8 340.8h.8M45.0 349.1h.8M79.7 350.9h.8M58.6 369.0h.8M55.7 342.4h.8M59.7 356.9h.8M51.0 348.7h.8M54.0 361.6h.8M52.5 337.3h.8M58.9 344.3h.8M69.6 344.6h.8M84.6 350.6h.8M60.4 365.8h.8M68.8 350.8h.8M56.2 343.9h.8M64.7 353.8h.8M61.3 359.3h.8M59.9 335.1h.8M73.9 348.9h.8M37.9 367.9h.8M60.3 335.3h.8M74.5 339.1h.8M47.9 360.2h.8M61.2 351.1h.8M85.0 302.8h.8M81.0 294.9h.8M109.7 344.4h.8M96.4 367.6h.8M123.2 345.3h.8M98.9 284.5h.8M41.2 322.6h.8M121.2 312.4h.8M86.4 285.1h.8M73.1 365.4h.8M88.2 358.4h.8M38.0 302.5h.8M52.5 359.1h.8M45.7 368.1h.8M60.2 363.5h.8M81.8 313.4h.8M121.0 320.7h.8M97.6 290.3h.8M82.3 373.4h.8M42.9 363.0h.8M51.7 336.5h.8M56.8 359.3h.8M89.1 373.9h.8M91.2 357.5h.8M72.6 337.1h.8M76.6 354.4h.8M56.5 369.8h.8M50.9 336.3h.8M45.6 336.6h.8M69.1 365.4h.8M45.7 352.2h.8M68.3 354.8h.8M59.5 354.0h.8M37.7 332.6h.8M60.0 340.5h.8M78.3 340.7h.8M82.0 340.7h.8M42.0 351.1h.8M58.1 344.8h.8M78.8 339.8h.8M73.5 366.9h.8M61.7 352.2h.8M87.4 356.7h.8M46.8 333.1h.8M41.4 344.7h.8M41.8 358.7h.8M60.1 343.6h.8M64.9 371.4h.8M50.3 336.8h.8M53.6 344.3h.8M86.7 361.2h.8M60.4 337.3h.8M39.4 335.4h.8M83.3 358.6h.8M45.5 357.6h.8M40.1 352.4h.8M55.2 334.5h.8M77.5 361.7h.8M37.2 344.5h.8M36.9 323.3h.8M37.0 365.4h.8M37.1 284.6h.8M37.0 302.1h.8M37.4 292.2h.8M37.5 314.4h.8M38.4 308.2h.8M37.1 320.3h.8M37.2 346.2h.8M37.2 290.6h.8M37.0 333.1h.8M38.0 293.3h.8M37.0 329.5h.8M37.2 344.5h.8M36.9 328.9h.8M37.0 368.3h.8M37.3 357.5h.8M37.2 327.8h.8M36.9 295.7h.8M37.2 336.3h.8M37.6 372.1h.8M37.7 356.3h.8M37.1 294.4h.8M37.0 336.7h.8M37.0 349.3h.8M37.3 317.3h.8M37.5 348.3h.8M37.1 323.7h.8M38.3 284.6h.8M37.6 362.0h.8M37.3 341.5h.8M37.5 348.7h.8M37.7 294.7h.8M37.4 284.6h.8M37.4 288.1h.8M37.5 373.9h.8M37.7 312.9h.8M37.6 362.1h.8M37.4 337.2h.8M37.6 369.5h.8M37.0 335.2h.8M37.1 327.7h.8M37.5 314.6h.8M37.3 337.2h.8M37.3 304.3h.8M37.0 329.6h.8M37.5 321.9h.8M37.1 332.1h.8M37.2 309.1h.8M37.0 354.5h.8M37.7 330.8h.8M36.9 330.2h.8M38.0 318.0h.8M37.0 348.0h.8M37.4 357.9h.8M37.7 303.4h.8M37.0 324.9h.8M37.2 316.6h.8M37.2 352.1h.8M36.9 305.3h.8M37.2 354.8h.8M37.3 341.4h.8M37.5 346.6h.8M36.9 316.7h.8M37.1 287.2h.8M37.5 344.6h.8M37.0 371.2h.8M37.0 314.6h.8M37.2 294.1h.8M37.1 328.1h.8M37.7 317.5h.8M37.0 348.3h.8M37.5 364.8h.8M37.5 323.8h.8M37.7 322.2h.8M37.4 300.8h.8M38.1 298.5h.8M37.1 361.0h.8M38.0 314.1h.8M83.5 373.6h.8M47.4 373.7h.8M79.2 374.0h.8M86.3 373.9h.8M60.9 373.4h.8M50.9 373.6h.8M38.0 373.7h.8M37.5 373.8h.8M57.2 374.2h.8M74.1 373.6h.8M71.1 374.1h.8M73.8 374.1h.8M70.3 374.1h.8M83.7 373.7h.8M86.6 374.1h.8M68.3 373.3h.8M54.5 373.6h.8M72.1 374.1h.8M69.8 373.8h.8M48.5 374.2h.8M53.9 373.6h.8M86.3 373.9h.8M43.2 373.7h.8M83.8 374.2h.8M50.2 373.6h.8M39.0 373.8h.8M80.5 374.0h.8M79.4 373.7h.8M63.1 374.0h.8M57.7 374.2h.8M49.4 373.3h.8M83.0 373.3h.8M66.9 373.2h.8M42.6 373.4h.8M51.1 374.2h.8M91.2 373.4h.8M41.9 373.7h.8M37.0 374.1h.8M42.0 373.6h.8M60.6 373.8h.8M64.7 373.9h.8M65.1 373.1h.8M90.6 373.8h.8M63.9 373.5h.8M57.2 373.9h.8M84.9 373.8h.8M56.5 373.7h.8M67.7 373.4h.8M52.4 372.7h.8M57.1 373.3h.8M43.2 373.7h.8M54.8 373.5h.8M54.9 373.8h.8M59.7 373.7h.8M89.2 373.7h.8M45.8 373.7h.8M73.1 373.8h.8M59.1 373.5h.8M49.6 374.0h.8M82.4 373.5h.8M57.4 374.2h.8M48.9 374.0h.8M89.4 373.8h.8M64.1 373.2h.8M62.7 374.1h.8M72.2 373.8h.8M74.9 374.1h.8M44.3 373.2h.8M70.4 373.8h.8M54.1 373.5h.8M67.0 373.7h.8M70.6 373.6h.8M44.3 373.8h.8M66.8 373.2h.8M70.6 374.0h.8M49.1 373.3h.8M61.1 373.8h.8M78.1 373.4h.8M56.8 372.4h.8M81.9 373.6h.8M72.6 373.4h.8M38.7 373.6h.8M88.0 373.1h.8M51.5 374.0h.8M83.2 373.6h.8M65.4 373.0h.8M37.8 373.6h.8M82.3 373.7h.8M74.6 372.8h.8M48.0 373.9h.8M86.1 374.1h.8M55.3 374.1h.8M40.5 373.3h.8M43.5 373.8h.8M45.6 374.1h.8M87.2 373.7h.8M86.4 372.7h.8M61.0 372.7h.8M80.4 373.9h.8M81.2 372.6h.8M76.9 374.2h.8M87.5 373.9h.8M67.1 373.1h.8M44.7 373.3h.8M75.2 373.0h.8M61.8 373.9h.8M47.7 373.7h.8M77.6 374.0h.8M82.4 374.2h.8M58.6 373.1h.8M49.2 373.8h.8M57.0 372.5h.8M64.8 374.0h.8M78.1 374.2h.8M77.7 373.7h.8M48.4 373.7h.8M55.9 374.1h.8M59.1 373.2h.8M65.6 373.3h.8M62.7 372.9h.8M64.6 374.1h.8M76.4 373.7h.8M56.2 374.1h.8M52.0 373.9h.8M71.7 373.5h.8M68.6 374.1h.8M48.8 374.2h.8M80.6 374.2h.8M50.8 373.8h.8M69.8 373.4h.8M71.1 373.3h.8M52.9 373.3h.8M84.1 374.0h.8M81.5 373.2h.8M60.8 373.4h.8M47.2 372.7h.8M42.4 373.5h.8M45.1 373.8h.8M49.0 373.7h.8M45.0 373.7h.8M46.9 373.8h.8M62.9 374.0h.8M66.3 373.4h.8M82.7 373.9h.8M37.8 373.8h.8M39.0 374.0h.8M78.9 373.4h.8M48.8 373.8h.8M79.6 373.8h.8M49.4 373.1h.8M68.2 373.8h.8M63.2 373.7h.8M40.5 373.5h.8M45.3 373.4h.8M67.0 374.2h.8M82.8 373.9h.8M84.5 373.7h.8M41.5 374.0h.8M50.7 373.5h.8M50.6 373.8h.8M53.3 373.5h.8M80.0 374.0h.8M76.4 373.8h.8M37.4 373.9h.8M54.9 373.4h.8M79.6 373.5h.8M91.4 374.2h.8M78.3 374.0h.8M59.4 373.6h.8M54.0 373.9h.8M93.9 373.9h.8M105.8 374.1h.8M105.7 374.1h.8M107.0 373.6h.8M97.4 373.7h.8M104.8 373.8h.8M112.9 373.9h.8M110.2 374.1h.8M99.5 373.6h.8M94.2 374.0h.8M103.5 373.6h.8M92.0 373.6h.8M111.9 373.8h.8M106.8 373.8h.8M95.8 374.1h.8M115.1 373.7h.8M98.2 373.9h.8M112.8 373.9h.8M92.3 374.0h.8M110.9 374.1h.8M102.5 373.9h.8M100.9 373.9h.8M117.1 374.1h.8M117.7 373.8h.8M95.3 374.2h.8M121.8 374.1h.8M92.4 374.2h.8M97.4 373.9h.8M104.4 373.9h.8M95.6 374.2h.8M108.5 374.0h.8M104.0 373.5h.8M105.7 374.1h.8M102.0 373.4h.8M112.5 374.1h.8M116.0 373.9h.8M100.6 374.1h.8M106.1 374.1h.8M119.8 374.1h.8M116.2 373.9h.8M100.5 374.0h.8M105.3 373.9h.8M121.9 374.0h.8M109.7 374.1h.8M105.0 373.9h.8M121.2 374.1h.8M101.4 373.8h.8M93.6 374.0h.8M121.4 374.0h.8M114.7 374.0h.8" stroke="#000" stroke-width="0.8" fill="none" opacity="0.78"/>
<rect x="135.6" y="283.5" width="88.1" height="90.9" fill="#fff" stroke="#222" stroke-width="1.0"/>
<line x1="164.5" y1="283.5" x2="164.5" y2="374.4" stroke="#666" stroke-width="0.8"/>
<line x1="135.6" y1="335.4" x2="223.7" y2="335.4" stroke="#555" stroke-width="0.9"/>
<path d="M180.1 307.4h.8M178.5 311.5h.8M179.0 306.8h.8M177.0 308.5h.8M178.5 308.6h.8M175.9 305.2h.8M180.2 300.7h.8M176.2 310.5h.8M178.3 304.6h.8M178.0 303.3h.8M180.8 304.6h.8M174.3 297.8h.8M178.0 307.5h.8M177.9 298.1h.8M178.2 301.1h.8M175.5 305.6h.8M174.7 307.3h.8M175.9 302.8h.8M174.6 314.3h.8M180.6 312.7h.8M175.2 305.6h.8M178.9 311.4h.8M172.7 304.5h.8M174.1 309.9h.8M180.0 303.5h.8M184.1 306.1h.8M184.8 306.9h.8M174.3 316.9h.8M176.5 303.0h.8M181.8 307.0h.8M180.6 299.2h.8M181.2 313.1h.8M177.4 310.4h.8M176.6 303.0h.8M172.2 307.0h.8M179.8 311.9h.8M179.0 310.9h.8M176.6 297.9h.8M179.0 307.5h.8M180.7 305.3h.8M174.1 308.0h.8M178.1 296.3h.8M176.9 300.6h.8M174.9 302.1h.8M176.7 320.3h.8M183.1 305.0h.8M180.8 306.5h.8M179.5 302.5h.8M179.6 296.4h.8M183.8 303.1h.8M180.0 303.2h.8M179.9 299.6h.8M174.9 311.0h.8M182.0 295.4h.8M181.8 299.2h.8M177.5 309.3h.8M176.0 303.8h.8M176.1 308.2h.8M178.1 314.6h.8M175.4 317.7h.8M172.0 315.6h.8M175.5 310.3h.8M176.9 306.5h.8M174.1 307.6h.8M183.1 308.5h.8M177.3 306.1h.8M179.8 305.5h.8M177.0 307.3h.8M179.8 312.5h.8M175.2 301.7h.8M176.2 311.0h.8M180.5 305.6h.8M183.9 306.8h.8M179.4 315.3h.8M181.8 308.4h.8M181.3 297.8h.8M173.0 301.3h.8M177.9 312.7h.8M175.6 312.0h.8M176.9 315.2h.8M173.9 300.2h.8M176.1 299.4h.8M183.6 302.1h.8M175.5 303.2h.8M180.6 304.1h.8M178.7 309.8h.8M178.9 292.1h.8M176.5 298.3h.8M183.2 303.2h.8M173.7 307.4h.8M178.9 300.8h.8M179.3 312.1h.8M179.3 302.0h.8M177.8 293.7h.8M177.9 308.6h.8M174.6 305.5h.8M188.7 302.1h.8M171.5 308.3h.8M176.8 302.9h.8M179.4 305.8h.8M179.6 309.8h.8M180.6 307.6h.8M169.0 312.2h.8M170.8 310.8h.8M180.1 298.3h.8M176.3 311.2h.8M174.3 305.6h.8M176.7 299.8h.8M173.7 312.9h.8M179.4 306.4h.8M177.0 306.7h.8M178.0 307.3h.8M171.0 310.0h.8M178.7 290.6h.8M181.2 299.7h.8M177.1 305.4h.8M174.9 308.7h.8M177.0 304.3h.8M175.0 303.8h.8M174.3 305.5h.8M179.8 312.8h.8M180.6 298.6h.8M179.1 312.2h.8M186.7 294.8h.8M177.9 304.2h.8M182.2 300.7h.8M172.9 319.0h.8M183.2 295.4h.8M175.4 313.9h.8M174.7 309.0h.8M179.8 297.8h.8M173.9 312.1h.8M181.8 303.5h.8M181.7 302.8h.8M178.1 306.1h.8M173.2 307.0h.8M180.2 290.1h.8M176.2 300.6h.8M176.3 299.8h.8M178.9 291.5h.8M179.9 307.1h.8M178.5 304.7h.8M178.0 304.6h.8M176.4 296.5h.8M176.1 311.9h.8M175.7 315.5h.8M173.7 303.5h.8M173.8 312.6h.8M183.2 304.3h.8M179.9 305.2h.8M174.6 304.7h.8M172.0 314.1h.8M177.4 313.3h.8M182.0 292.4h.8M179.6 307.2h.8M170.2 304.8h.8M177.9 316.6h.8M173.2 309.8h.8M178.6 305.3h.8M175.8 308.9h.8M178.1 310.2h.8M178.1 298.2h.8M179.4 314.5h.8M175.8 305.4h.8M182.4 296.5h.8M175.3 320.3h.8M179.2 302.2h.8M183.4 307.6h.8M178.6 303.7h.8M180.6 295.8h.8M175.8 296.6h.8M180.2 306.2h.8M183.8 295.2h.8M173.5 313.9h.8M177.8 294.7h.8M175.7 303.5h.8M175.4 313.5h.8M179.0 315.9h.8M179.8 303.6h.8M178.1 297.1h.8M179.3 314.2h.8M179.0 301.0h.8M178.7 309.3h.8M179.6 299.4h.8M178.9 302.9h.8M178.7 310.0h.8M179.3 303.9h.8M180.8 311.6h.8M179.9 311.8h.8M178.8 308.8h.8M176.9 294.7h.8M173.7 308.8h.8M179.8 307.8h.8M175.0 316.6h.8M178.8 295.4h.8M173.3 303.0h.8M178.4 310.8h.8M175.5 310.5h.8M178.3 301.8h.8M175.2 310.1h.8M181.9 300.3h.8M174.3 306.0h.8M185.4 300.9h.8M173.1 307.5h.8M179.8 302.9h.8M176.6 308.8h.8M172.3 304.6h.8M177.8 311.8h.8M180.9 306.5h.8M171.2 312.7h.8M180.6 302.9h.8M178.9 312.8h.8M180.5 292.3h.8M177.1 301.3h.8M175.1 304.9h.8M173.6 307.4h.8M184.7 300.6h.8M181.2 303.7h.8M179.2 305.7h.8M182.2 302.9h.8M180.7 302.1h.8M178.1 306.1h.8M182.9 297.7h.8M171.4 313.0h.8M176.0 316.1h.8M174.1 306.4h.8M176.6 316.6h.8M177.9 303.4h.8M179.7 306.0h.8M174.1 309.8h.8M173.3 298.7h.8M182.1 304.1h.8M175.9 307.9h.8M179.9 309.9h.8M175.4 302.0h.8M180.7 306.1h.8M174.3 310.6h.8M177.6 319.4h.8M175.3 301.1h.8M174.8 307.5h.8M174.4 312.1h.8M168.1 309.5h.8M175.9 303.9h.8M178.8 307.6h.8M172.2 313.9h.8M179.8 303.6h.8M179.6 299.8h.8M174.2 303.3h.8M178.3 306.9h.8M177.2 297.4h.8M170.1 313.9h.8M179.7 301.7h.8M180.1 310.0h.8M177.1 302.2h.8M180.3 308.7h.8M181.7 309.3h.8M176.6 302.1h.8M175.0 306.9h.8M177.3 309.7h.8M180.3 300.3h.8M178.2 300.4h.8M180.7 298.8h.8M177.0 300.6h.8M176.0 304.1h.8M182.2 305.7h.8M173.6 303.2h.8M178.8 309.8h.8M175.2 317.7h.8M180.5 307.4h.8M182.9 299.2h.8M178.2 300.9h.8M175.5 315.5h.8M173.6 314.8h.8M172.3 313.5h.8M173.7 299.8h.8M180.5 306.2h.8M177.8 306.0h.8M178.2 305.1h.8M175.0 303.6h.8M179.0 300.9h.8M176.2 316.5h.8M173.4 301.6h.8M176.6 305.9h.8M178.7 301.9h.8M177.3 306.0h.8M174.9 314.8h.8M180.0 297.6h.8M172.0 308.2h.8M177.3 302.2h.8M173.9 303.2h.8M178.1 302.0h.8M175.1 310.8h.8M178.9 309.7h.8M178.9 298.0h.8M177.5 315.2h.8M179.4 313.7h.8M177.7 308.4h.8M175.5 313.2h.8M173.5 318.2h.8M180.1 304.7h.8M179.8 296.7h.8M175.7 303.7h.8M185.7 303.1h.8M180.0 307.1h.8M175.6 309.4h.8M170.2 310.0h.8M182.6 309.1h.8M177.0 306.9h.8M180.1 303.7h.8M177.0 309.0h.8M175.8 308.0h.8M177.3 310.4h.8M175.3 302.2h.8M174.4 312.6h.8M180.6 296.7h.8M170.8 316.2h.8M180.3 298.8h.8M174.5 306.1h.8M179.2 316.4h.8M176.8 304.0h.8M184.4 301.8h.8M181.5 309.1h.8M175.8 313.5h.8M180.0 301.5h.8M172.9 305.0h.8M176.9 314.3h.8M167.8 311.8h.8M177.0 315.2h.8M179.4 307.8h.8M178.1 308.6h.8M175.7 304.9h.8M178.4 303.5h.8M175.3 296.6h.8M178.1 309.4h.8M179.4 299.3h.8M180.5 304.4h.8M169.0 313.5h.8M169.7 317.9h.8M179.6 303.9h.8M171.6 300.2h.8M179.7 315.0h.8M180.7 296.3h.8M176.7 304.1h.8M178.9 305.6h.8M180.8 296.8h.8M173.4 313.8h.8M171.8 310.3h.8M183.2 311.5h.8M171.5 312.2h.8M171.5 306.6h.8M174.4 312.8h.8M180.6 308.0h.8M181.2 313.0h.8M177.5 300.0h.8M185.2 305.5h.8M178.8 305.6h.8M178.4 296.4h.8M177.1 305.2h.8M181.0 303.8h.8M174.4 298.6h.8M176.9 307.4h.8M180.1 304.3h.8M178.8 307.2h.8M182.4 306.9h.8M177.0 309.4h.8M182.3 301.6h.8M176.4 304.1h.8M169.3 311.9h.8M180.5 306.9h.8M185.3 315.9h.8M181.0 316.6h.8M182.1 298.5h.8M181.2 309.6h.8M173.8 305.4h.8M178.1 312.3h.8M178.7 303.1h.8M180.8 302.2h.8M176.0 310.4h.8M172.6 307.1h.8M173.1 299.2h.8M173.9 304.6h.8M179.6 306.2h.8M179.9 307.2h.8M176.1 308.7h.8M176.5 306.6h.8M181.3 303.5h.8M182.4 300.4h.8M179.3 295.8h.8M173.5 314.8h.8M176.6 313.6h.8M174.6 299.1h.8M177.5 311.1h.8M182.3 296.9h.8M179.0 306.0h.8M177.0 308.9h.8M179.1 296.0h.8M176.4 296.8h.8M173.8 304.2h.8M182.3 302.8h.8M176.9 298.8h.8M172.3 305.1h.8M176.3 304.2h.8M173.9 308.1h.8M173.1 308.3h.8M174.3 310.1h.8M174.2 307.9h.8M178.8 305.9h.8M181.9 308.2h.8M173.8 309.4h.8M175.8 302.3h.8M177.2 307.1h.8M185.0 297.2h.8M175.0 312.4h.8M176.5 307.7h.8M183.7 300.0h.8M176.4 310.6h.8M178.3 295.4h.8M174.2 306.4h.8M175.2 316.8h.8M183.6 298.0h.8M179.1 312.1h.8M182.4 306.3h.8M175.6 306.4h.8M181.0 310.8h.8M181.2 311.8h.8M177.2 299.7h.8M185.1 298.6h.8M176.8 303.9h.8M175.6 302.0h.8M173.9 319.8h.8M178.0 302.9h.8M176.4 311.5h.8M175.6 303.0h.8M171.2 308.8h.8M177.2 315.2h.8M170.7 317.7h.8M180.4 305.1h.8M176.7 303.9h.8M172.7 309.6h.8M176.7 301.3h.8M178.7 307.0h.8M176.0 304.2h.8M174.0 313.5h.8M181.4 302.5h.8M175.2 313.9h.8M173.9 316.1h.8M177.7 310.2h.8M170.1 309.4h.8M177.5 309.6h.8M178.0 309.4h.8M174.6 310.9h.8M179.1 299.9h.8M174.2 306.2h.8M181.7 293.4h.8M169.8 310.6h.8M173.1 322.6h.8M173.3 303.4h.8M174.8 308.8h.8M179.1 316.4h.8M172.6 312.4h.8M173.4 306.9h.8M177.0 309.7h.8M173.1 313.2h.8M177.2 305.8h.8M178.2 299.6h.8M179.0 308.5h.8M176.0 317.2h.8M175.3 303.7h.8M176.1 311.0h.8M175.5 311.3h.8M181.4 296.1h.8M178.4 293.7h.8M177.2 303.4h.8M178.9 307.4h.8M175.3 313.3h.8M181.0 299.3h.8M174.9 307.4h.8M182.7 306.1h.8M176.5 307.4h.8M179.8 306.1h.8M178.9 303.8h.8M177.0 301.0h.8M180.2 303.3h.8M178.4 308.8h.8M184.3 291.1h.8M176.4 298.2h.8M175.7 310.6h.8M182.5 316.9h.8M180.8 309.2h.8M175.5 308.8h.8M169.6 309.8h.8M176.5 309.6h.8M176.0 298.8h.8M175.6 305.3h.8M179.0 304.2h.8M177.4 310.2h.8M174.1 304.5h.8M173.6 301.6h.8M181.1 302.5h.8M182.1 310.3h.8M179.9 307.3h.8M178.3 313.0h.8M178.5 303.0h.8M172.9 316.9h.8M177.5 303.2h.8M177.8 295.6h.8M175.5 307.5h.8M177.1 301.2h.8M177.9 309.0h.8M175.7 307.5h.8M173.3 310.3h.8M175.0 303.3h.8M178.4 303.7h.8M170.9 317.4h.8M184.5 296.9h.8M179.6 298.7h.8M180.3 298.6h.8M178.3 309.5h.8M180.6 314.3h.8M174.6 311.2h.8M176.2 305.0h.8M178.6 295.3h.8M182.2 294.6h.8M175.9 308.9h.8M180.1 296.9h.8M174.5 309.5h.8M178.2 316.2h.8M171.4 307.3h.8M174.8 310.1h.8M172.7 303.9h.8M180.4 302.8h.8M177.8 300.0h.8M182.7 299.1h.8M175.2 303.4h.8M173.3 318.1h.8M179.4 301.3h.8M178.6 308.4h.8M178.3 305.8h.8M180.5 299.5h.8M174.5 302.6h.8M173.1 309.3h.8M181.3 314.7h.8M178.2 308.3h.8M177.3 297.9h.8M181.2 297.8h.8M178.5 305.4h.8M179.5 306.9h.8M178.6 302.7h.8M172.9 302.7h.8M177.9 312.6h.8M182.9 301.2h.8M173.6 309.4h.8M172.2 320.7h.8M180.6 297.4h.8M173.4 314.8h.8M171.8 305.5h.8M170.9 314.3h.8M177.6 299.6h.8M173.5 300.5h.8M170.6 301.3h.8M183.7 308.2h.8M178.4 299.0h.8M179.1 303.5h.8M172.8 313.5h.8M180.0 301.1h.8M181.8 306.8h.8M178.7 307.2h.8M179.9 310.5h.8M175.3 309.9h.8M176.1 306.5h.8M183.8 301.0h.8M175.0 302.9h.8M174.0 313.2h.8M169.3 318.2h.8M182.7 304.6h.8M178.5 304.0h.8M178.4 310.4h.8M178.5 311.0h.8M183.3 306.5h.8M179.7 305.4h.8M177.2 307.3h.8M176.7 308.0h.8M175.1 304.5h.8M177.4 298.7h.8M176.1 302.6h.8M179.3 296.7h.8M178.3 299.2h.8M174.7 306.5h.8M180.2 308.5h.8M176.6 303.1h.8M183.8 297.5h.8M183.0 298.1h.8M175.5 305.8h.8M174.3 315.6h.8M178.9 306.1h.8M180.1 306.9h.8M173.4 312.0h.8M179.9 314.6h.8M171.1 316.3h.8M175.0 310.2h.8M177.3 320.8h.8M174.2 298.8h.8M180.1 309.8h.8M180.9 288.6h.8M179.0 305.2h.8M165.7 319.7h.8M170.9 300.8h.8M177.0 307.4h.8M180.0 305.0h.8M175.3 303.2h.8M172.9 297.9h.8M184.2 303.5h.8M174.3 317.1h.8M180.3 307.5h.8M180.0 305.0h.8M173.2 311.2h.8M175.4 315.5h.8M177.2 303.6h.8M178.7 305.1h.8M177.8 300.5h.8M177.7 308.1h.8M182.8 307.2h.8M171.5 307.4h.8M184.8 305.1h.8M175.3 304.4h.8M169.5 301.9h.8M179.1 297.0h.8M180.4 301.3h.8M173.0 300.4h.8M176.4 317.8h.8M180.8 308.1h.8M176.3 304.1h.8M181.0 303.7h.8M177.2 312.0h.8M175.6 301.9h.8M178.7 306.4h.8M177.8 302.8h.8M174.4 316.9h.8M183.8 297.5h.8M177.4 306.6h.8M179.6 297.9h.8M176.8 306.8h.8M174.9 307.3h.8M172.5 295.3h.8M177.1 308.4h.8M177.6 303.2h.8M176.3 312.5h.8M180.2 306.2h.8M174.4 311.9h.8M177.7 311.6h.8M177.9 300.7h.8M178.9 302.5h.8M179.5 311.9h.8M170.0 308.3h.8M179.8 313.1h.8M177.3 300.6h.8M178.7 312.7h.8M179.3 299.3h.8M172.5 306.4h.8M176.0 301.4h.8M177.1 312.5h.8M172.3 300.5h.8M181.3 306.7h.8M175.4 309.5h.8M175.9 298.0h.8M175.1 315.2h.8M180.4 306.7h.8M181.0 304.3h.8M176.4 295.3h.8M176.8 311.5h.8M178.6 306.1h.8M174.6 312.1h.8M179.4 297.5h.8M182.4 303.2h.8M178.5 306.3h.8M180.1 308.2h.8M180.7 308.2h.8M176.8 302.7h.8M180.6 301.6h.8M180.5 305.3h.8M176.0 300.2h.8M174.3 316.3h.8M179.6 306.7h.8M171.9 316.5h.8M176.6 305.8h.8M174.1 313.5h.8M178.6 303.4h.8M179.4 300.3h.8M174.5 304.3h.8M167.1 310.8h.8M184.9 301.0h.8M179.4 296.6h.8M177.6 307.4h.8M181.6 298.7h.8M176.6 301.7h.8M173.2 319.3h.8M176.9 305.6h.8M174.7 310.3h.8M183.2 314.8h.8M183.5 300.8h.8M180.5 307.0h.8M179.5 313.2h.8M181.9 296.6h.8M178.5 303.2h.8M178.7 306.6h.8M182.9 297.3h.8M175.3 305.0h.8M179.0 303.9h.8M177.2 306.3h.8M180.7 306.1h.8M180.8 295.5h.8M171.9 295.4h.8M181.9 292.7h.8M178.8 305.7h.8M178.5 301.7h.8M174.9 310.6h.8M178.5 306.1h.8M175.6 306.9h.8M180.9 306.8h.8M178.1 298.8h.8M179.1 300.7h.8M171.8 310.1h.8M178.6 293.5h.8M172.5 316.3h.8M179.1 298.1h.8M173.1 309.4h.8M178.3 307.6h.8M176.1 308.7h.8M181.2 310.0h.8M179.0 297.6h.8M176.4 315.6h.8M181.2 299.1h.8M176.0 313.8h.8M174.8 308.4h.8M178.5 316.6h.8M175.3 294.5h.8M177.4 310.4h.8M176.4 305.6h.8M174.4 312.8h.8M170.5 305.8h.8M174.6 301.0h.8M174.2 299.5h.8M177.3 306.1h.8M183.0 306.0h.8M177.9 308.4h.8M175.9 314.9h.8M177.6 307.0h.8M177.1 305.9h.8M175.7 311.8h.8M177.4 306.4h.8M176.1 310.4h.8M174.6 311.2h.8M174.7 309.7h.8M182.7 308.8h.8M178.9 299.0h.8M179.6 306.6h.8M181.1 302.8h.8M176.2 317.1h.8M179.1 304.4h.8M173.6 305.0h.8M178.4 310.0h.8M175.6 299.1h.8M176.1 299.2h.8M176.2 307.4h.8M182.8 308.6h.8M184.2 297.3h.8M180.8 311.9h.8M177.5 311.2h.8M176.3 317.8h.8M182.4 296.3h.8M169.8 314.2h.8M175.2 313.8h.8M177.4 301.9h.8M175.9 307.6h.8M178.9 302.5h.8M178.1 310.1h.8M176.4 298.7h.8M172.0 302.7h.8M178.5 301.9h.8M175.8 304.8h.8M176.6 309.4h.8M179.2 309.2h.8M182.2 301.1h.8M178.6 308.7h.8M175.3 301.2h.8M178.6 306.8h.8M174.5 301.8h.8M180.6 312.2h.8M175.6 314.1h.8M175.0 304.3h.8M180.8 304.7h.8M173.2 308.6h.8M186.0 292.2h.8M179.8 298.7h.8M178.7 297.4h.8M186.1 303.9h.8M178.6 301.8h.8M175.2 302.6h.8M175.4 316.6h.8M175.9 315.5h.8M174.1 305.6h.8M178.5 296.4h.8M188.8 307.4h.8M179.3 301.7h.8M177.3 299.4h.8M181.1 304.4h.8M176.7 307.0h.8M173.4 306.5h.8M176.2 308.5h.8M176.2 305.9h.8M177.5 312.1h.8M173.9 311.2h.8M174.8 304.1h.8M177.6 307.0h.8M171.5 298.3h.8M175.5 311.3h.8M173.0 314.4h.8M171.9 305.1h.8M179.0 306.5h.8M176.8 311.7h.8M174.1 308.9h.8M180.9 305.4h.8M172.3 297.2h.8M176.5 299.1h.8M179.9 301.5h.8M183.9 311.3h.8M174.0 303.3h.8M180.9 311.2h.8M172.8 311.4h.8M172.6 318.8h.8M174.9 309.1h.8M179.7 303.8h.8M175.2 312.8h.8M179.0 306.0h.8M176.1 316.7h.8M179.4 309.5h.8M180.7 297.0h.8M178.5 303.2h.8M180.5 303.0h.8M180.3 300.1h.8M181.2 302.4h.8M176.4 309.4h.8M176.4 305.8h.8M177.9 317.3h.8M173.4 299.3h.8M178.0 312.1h.8M175.8 306.2h.8M173.4 319.4h.8M178.6 298.8h.8M174.7 297.2h.8M181.9 304.7h.8M182.2 311.3h.8M177.6 310.1h.8M178.4 312.1h.8M175.3 302.0h.8M175.6 306.2h.8M178.5 298.5h.8M172.6 316.1h.8M185.0 302.5h.8M178.6 306.1h.8M173.8 309.6h.8M174.7 315.9h.8M179.2 304.5h.8M169.7 303.4h.8M181.0 302.4h.8M179.0 310.7h.8M172.5 303.5h.8M177.2 310.7h.8M177.9 306.0h.8M176.8 304.0h.8M179.0 299.7h.8M179.8 304.6h.8M179.7 303.4h.8M178.4 307.1h.8M179.3 309.4h.8M180.4 305.7h.8M177.6 304.4h.8M173.9 304.3h.8M179.5 311.4h.8M174.4 307.1h.8M181.7 298.5h.8M177.9 308.2h.8M179.2 308.1h.8M175.3 292.7h.8M183.9 305.2h.8M179.3 314.5h.8M179.4 299.3h.8M181.5 306.8h.8M178.2 309.2h.8M178.7 312.7h.8M175.3 296.6h.8M177.8 306.2h.8M179.9 305.8h.8M173.8 317.9h.8M179.7 313.9h.8M181.7 302.1h.8M177.3 305.5h.8M175.5 300.0h.8M179.7 298.9h.8M178.3 309.2h.8M177.2 303.8h.8M178.5 309.3h.8M180.3 299.0h.8M169.5 316.9h.8M176.0 303.3h.8M173.2 299.9h.8M174.0 310.2h.8M171.7 295.7h.8M176.9 302.8h.8M175.8 302.8h.8M172.3 306.4h.8M180.7 307.8h.8M173.9 313.1h.8M180.4 300.3h.8M176.6 302.0h.8M175.4 313.1h.8M175.5 304.6h.8M179.5 299.0h.8M175.1 309.3h.8M183.6 295.8h.8M179.9 304.8h.8M180.3 310.6h.8M182.8 309.3h.8M177.5 300.8h.8M172.3 308.2h.8M177.7 311.2h.8M180.7 297.4h.8M176.6 304.3h.8M176.7 310.6h.8M181.2 308.8h.8M172.8 298.4h.8M172.2 299.9h.8M173.5 306.5h.8M175.1 312.4h.8M181.3 304.1h.8M180.2 306.8h.8M176.7 314.3h.8M174.1 304.7h.8M183.1 302.7h.8M177.8 306.9h.8M178.1 298.0h.8M176.8 299.7h.8M180.2 308.3h.8M181.3 299.5h.8M178.7 307.2h.8M181.6 302.5h.8M177.7 314.7h.8M184.2 301.9h.8M176.3 296.5h.8M179.4 310.2h.8M179.7 301.2h.8M178.7 316.4h.8M177.5 305.3h.8M180.2 309.9h.8M182.0 304.6h.8M178.9 304.3h.8M176.2 303.8h.8M175.8 308.8h.8M176.4 306.2h.8M176.8 298.2h.8M183.1 301.3h.8M181.4 312.9h.8M171.6 300.5h.8M176.1 305.8h.8M177.8 302.3h.8M181.3 306.2h.8M181.3 302.7h.8M173.4 313.3h.8M178.2 299.3h.8M175.3 312.1h.8M178.0 301.7h.8M177.8 312.3h.8M177.3 304.0h.8M172.3 321.6h.8M174.2 316.1h.8M176.4 308.3h.8M171.1 305.5h.8M178.0 304.2h.8M178.2 297.7h.8M172.7 305.9h.8M175.6 305.0h.8M177.6 302.9h.8M172.5 316.4h.8M174.9 302.2h.8M178.3 299.0h.8M173.3 310.3h.8M180.0 307.5h.8M185.8 313.3h.8M182.3 302.1h.8M178.1 316.7h.8M173.6 316.3h.8M176.7 298.7h.8M178.5 301.2h.8M181.0 300.0h.8M180.6 294.6h.8M175.7 312.2h.8M176.2 307.6h.8M182.3 300.4h.8M173.5 305.5h.8M178.6 304.6h.8M172.7 312.4h.8M174.3 303.6h.8M176.2 310.2h.8M177.3 300.9h.8M184.6 302.6h.8M180.0 305.7h.8M176.1 305.4h.8M176.2 307.6h.8M169.9 303.9h.8M179.1 300.4h.8M172.8 319.4h.8M181.9 311.2h.8M178.6 304.4h.8M182.2 304.4h.8M173.9 309.4h.8M175.7 300.6h.8M184.1 297.7h.8M177.0 306.7h.8M180.4 297.7h.8M177.2 303.9h.8M181.6 313.4h.8M173.9 310.6h.8M179.5 305.8h.8M177.1 304.2h.8M173.8 301.1h.8M178.0 315.2h.8M183.5 305.2h.8M182.8 292.4h.8M178.5 298.4h.8M182.3 296.9h.8M176.0 298.7h.8M177.3 311.2h.8M172.0 315.9h.8M179.1 301.2h.8M178.5 306.2h.8M179.4 308.7h.8M182.2 314.5h.8M174.3 310.1h.8M181.2 300.7h.8M176.4 300.7h.8M169.1 307.9h.8M174.9 313.1h.8M175.6 306.0h.8M178.1 312.2h.8M179.9 300.2h.8M182.6 312.8h.8M179.0 316.5h.8M181.0 309.5h.8M177.9 310.1h.8M171.7 309.6h.8M173.9 307.7h.8M173.4 309.4h.8M172.3 320.2h.8M177.2 309.1h.8M175.2 303.6h.8M177.7 304.3h.8M177.4 300.6h.8M180.2 304.3h.8M174.5 307.5h.8M175.3 304.4h.8M177.3 300.2h.8M178.0 301.0h.8M173.2 307.1h.8M178.7 297.2h.8M176.0 306.8h.8M178.1 308.5h.8M177.3 309.7h.8M177.2 301.0h.8M179.8 304.1h.8M176.5 309.8h.8M178.4 313.9h.8M175.9 303.3h.8M181.2 298.1h.8M172.8 308.6h.8M177.0 300.1h.8M179.0 309.7h.8M180.6 304.8h.8M177.1 303.8h.8M181.3 294.4h.8M174.3 309.6h.8M175.2 305.0h.8M177.0 309.2h.8M177.7 299.0h.8M185.9 303.7h.8M185.1 297.0h.8M178.0 305.0h.8M180.0 319.4h.8M181.8 300.8h.8M176.2 301.0h.8M175.5 307.2h.8M175.5 304.0h.8M179.6 315.5h.8M173.3 299.0h.8M174.4 313.3h.8M173.6 316.9h.8M176.4 314.7h.8M175.4 303.6h.8M179.6 310.1h.8M172.3 303.0h.8M177.0 309.8h.8M173.0 315.7h.8M175.7 314.6h.8M178.5 306.8h.8M178.2 299.0h.8M178.9 311.1h.8M180.7 304.5h.8M175.0 303.0h.8M176.5 305.7h.8M181.7 301.4h.8M175.0 309.7h.8M176.8 319.6h.8M180.2 301.5h.8M175.5 300.6h.8M177.3 307.5h.8M178.1 302.4h.8M177.0 305.4h.8M179.1 306.9h.8M176.8 298.6h.8M181.9 306.6h.8M177.0 305.7h.8M181.2 305.0h.8M178.3 304.8h.8M180.6 300.6h.8M176.5 312.2h.8M180.0 310.5h.8M176.0 315.4h.8M177.4 314.7h.8M175.5 298.7h.8M180.2 305.1h.8M177.6 300.2h.8M183.6 300.2h.8M179.8 298.0h.8M173.6 319.0h.8M185.3 305.0h.8M172.0 314.7h.8M177.6 295.0h.8M180.1 300.0h.8M171.5 311.5h.8M176.9 299.3h.8M178.2 305.0h.8M180.6 307.4h.8M180.4 313.8h.8M181.0 313.9h.8M176.8 309.2h.8M179.8 297.0h.8M172.9 309.4h.8M171.7 299.4h.8M173.8 304.7h.8M174.0 306.7h.8M177.6 303.1h.8M178.2 292.5h.8M179.6 298.6h.8M176.0 308.0h.8M179.5 310.9h.8M183.9 298.9h.8M177.1 315.6h.8M180.2 299.9h.8M179.4 303.3h.8M174.0 311.7h.8M178.6 299.4h.8M172.5 316.9h.8M174.0 309.3h.8M176.2 313.0h.8M178.0 300.3h.8M177.1 299.6h.8M184.8 309.1h.8M174.6 313.1h.8M179.6 305.5h.8M178.9 308.1h.8M178.3 316.5h.8M176.6 305.6h.8M175.1 313.0h.8M177.4 310.9h.8M181.0 303.0h.8M175.8 314.2h.8M179.0 311.4h.8M177.2 303.7h.8M175.3 303.8h.8M179.4 297.7h.8M182.0 302.5h.8M177.3 309.7h.8M178.5 295.1h.8M179.7 309.1h.8M175.0 312.4h.8M181.5 301.2h.8M179.8 295.7h.8M174.6 314.0h.8M173.8 310.2h.8M173.5 303.2h.8M177.7 316.7h.8M177.7 310.8h.8M186.1 293.1h.8M169.6 315.7h.8M183.8 311.3h.8M177.3 307.6h.8M178.4 302.5h.8M177.6 305.3h.8M178.4 310.5h.8M179.4 310.2h.8M172.5 313.4h.8M169.4 304.7h.8M179.2 303.2h.8M184.5 301.1h.8M174.8 302.2h.8M177.5 311.0h.8M176.8 310.0h.8M176.3 302.0h.8M179.8 298.3h.8M178.6 303.9h.8M180.9 300.7h.8M176.7 302.3h.8M177.9 300.0h.8M178.7 298.0h.8M178.0 310.3h.8M177.7 304.9h.8M176.3 299.8h.8M178.1 300.6h.8M173.8 306.1h.8M178.0 303.7h.8M175.2 305.1h.8M176.1 303.0h.8M176.9 310.3h.8M180.5 303.1h.8M182.7 300.2h.8M175.0 313.5h.8M184.2 308.5h.8M177.0 303.6h.8M174.1 304.3h.8M177.3 301.3h.8M182.1 302.4h.8M181.1 312.2h.8M180.2 303.1h.8M178.9 294.1h.8M178.6 304.7h.8M179.6 302.4h.8M181.1 297.7h.8M170.4 307.2h.8M185.2 288.6h.8M181.7 305.0h.8M179.3 297.0h.8M173.5 309.4h.8M175.4 305.3h.8M174.0 317.5h.8M182.0 299.0h.8M177.7 299.0h.8M174.4 301.0h.8M180.6 307.1h.8M179.6 305.7h.8M176.1 306.2h.8M174.4 317.1h.8M182.1 309.5h.8M182.1 294.9h.8M173.5 319.8h.8M173.9 310.2h.8M181.6 304.6h.8M177.5 303.2h.8M179.7 306.7h.8M180.0 314.0h.8M173.6 321.1h.8M177.4 302.3h.8M178.1 300.7h.8M176.3 305.3h.8M182.4 297.5h.8M174.5 300.5h.8M175.9 308.4h.8M172.9 314.2h.8M176.2 304.4h.8M175.9 312.9h.8M178.3 306.4h.8M175.6 306.6h.8M179.1 304.3h.8M180.1 295.3h.8M174.1 312.5h.8M181.7 306.6h.8M168.5 315.1h.8M173.1 320.8h.8M174.8 311.5h.8M173.6 313.5h.8M182.4 300.7h.8M176.9 323.6h.8M178.6 298.8h.8M178.8 303.9h.8M174.7 298.8h.8M180.4 297.3h.8M179.9 309.4h.8M174.8 314.0h.8M173.7 309.3h.8M174.0 303.1h.8M180.1 303.4h.8M176.1 309.7h.8M179.9 314.7h.8M179.1 304.8h.8M170.7 315.0h.8M186.1 294.8h.8M180.0 306.4h.8M179.0 308.4h.8M176.9 305.8h.8M175.6 312.8h.8M177.5 302.6h.8M178.4 310.3h.8M175.5 319.4h.8M177.9 326.4h.8M175.5 315.5h.8M179.3 303.1h.8M173.6 311.3h.8M175.6 314.2h.8M181.8 324.2h.8M172.7 334.5h.8M174.9 314.6h.8M177.5 324.1h.8M175.9 326.8h.8M174.1 311.7h.8M171.8 317.4h.8M179.3 309.6h.8M174.5 306.4h.8M180.1 324.4h.8M176.9 307.8h.8M171.8 311.4h.8M176.3 307.3h.8M172.0 326.2h.8M174.3 317.8h.8M167.7 313.6h.8M174.9 311.6h.8M169.8 315.6h.8M171.7 312.2h.8M169.1 315.3h.8M178.7 311.1h.8M177.7 305.6h.8M175.6 321.5h.8M171.9 323.5h.8M171.4 316.8h.8M180.2 317.9h.8M169.0 325.2h.8M176.6 315.2h.8M170.9 301.5h.8M167.2 327.4h.8M176.6 310.7h.8M176.3 329.0h.8M170.9 320.2h.8M168.3 318.9h.8M182.6 307.3h.8M175.5 312.2h.8M174.0 317.6h.8M174.1 324.0h.8M174.7 325.4h.8M176.3 326.1h.8M171.6 319.7h.8M174.3 310.3h.8M180.7 320.5h.8M177.5 300.9h.8M172.6 322.8h.8M174.5 312.7h.8M179.9 315.5h.8M173.4 316.0h.8M172.2 324.9h.8M176.5 316.8h.8M173.5 315.1h.8M180.6 315.7h.8M178.9 305.3h.8M174.6 322.5h.8M178.3 320.2h.8M175.9 319.8h.8M175.2 333.4h.8M176.3 310.9h.8M176.6 316.5h.8M175.5 323.4h.8M175.6 313.7h.8M177.2 307.6h.8M176.6 310.4h.8M175.8 318.2h.8M175.4 307.6h.8M175.6 311.8h.8M173.0 322.3h.8M179.5 307.7h.8M175.7 328.0h.8M177.9 319.8h.8M171.7 330.3h.8M175.5 305.1h.8M174.3 319.3h.8M172.6 307.0h.8M181.0 319.1h.8M177.9 313.0h.8M169.5 314.7h.8M179.9 312.7h.8M168.6 314.6h.8M173.5 317.0h.8M171.3 314.0h.8M171.4 323.4h.8M173.7 323.8h.8M177.2 300.6h.8M167.1 319.9h.8M176.2 324.3h.8M176.7 303.2h.8M172.2 319.8h.8M179.6 315.2h.8M173.6 310.7h.8M176.7 324.3h.8M166.6 325.2h.8M173.4 305.1h.8M170.1 310.4h.8M178.7 338.1h.8M171.2 311.1h.8M174.4 320.3h.8M175.0 304.5h.8M174.0 311.5h.8M168.2 317.0h.8M171.9 302.8h.8M178.3 325.2h.8M179.2 318.8h.8M173.2 316.1h.8M168.8 321.9h.8M175.8 314.8h.8M168.3 315.0h.8M177.9 329.1h.8M177.9 314.8h.8M174.1 321.4h.8M173.6 325.2h.8M175.4 298.8h.8M167.5 308.5h.8M168.8 321.3h.8M178.1 317.7h.8M176.2 317.9h.8M175.7 313.5h.8M171.4 325.9h.8M173.6 316.5h.8M177.1 325.3h.8M172.8 318.7h.8M170.8 317.4h.8M175.5 317.2h.8M174.5 319.9h.8M167.0 309.1h.8M175.4 313.3h.8M171.5 314.6h.8M180.2 316.2h.8M172.9 312.9h.8M169.7 320.0h.8M169.8 323.4h.8M176.7 322.0h.8M178.1 317.0h.8M168.6 315.4h.8M178.8 305.5h.8M168.8 324.7h.8M174.0 327.6h.8M176.6 317.9h.8M174.7 323.8h.8M174.6 315.4h.8M175.9 314.8h.8M183.7 312.6h.8M171.1 306.1h.8M178.6 314.5h.8M175.3 315.5h.8M177.4 306.0h.8M175.5 312.6h.8M177.3 322.5h.8M171.5 308.8h.8M174.7 326.6h.8M177.3 316.3h.8M181.5 299.6h.8M174.0 309.2h.8M170.1 320.7h.8M175.0 319.4h.8M173.1 321.7h.8M177.9 313.1h.8M178.9 310.4h.8M182.3 308.1h.8M175.0 308.5h.8M172.7 327.2h.8M169.4 330.2h.8M178.7 320.9h.8M171.2 323.6h.8M165.8 309.3h.8M177.8 317.3h.8M183.9 313.3h.8M170.2 314.5h.8M174.0 330.5h.8M168.2 317.1h.8M179.7 312.6h.8M174.6 307.4h.8M175.9 323.9h.8M176.1 319.3h.8M178.0 316.7h.8M175.8 323.8h.8M178.2 321.8h.8M173.7 322.5h.8M171.6 302.4h.8M179.8 319.1h.8M171.7 311.9h.8M173.8 317.5h.8M170.4 324.2h.8M164.7 337.6h.8M168.4 329.2h.8M179.1 304.4h.8M170.2 316.7h.8M176.0 313.9h.8M174.3 318.3h.8M170.4 316.8h.8M183.2 313.4h.8M170.0 321.5h.8M177.6 325.9h.8M172.4 316.0h.8M175.4 315.5h.8M174.3 325.6h.8M176.3 317.3h.8M171.2 330.7h.8M167.4 331.8h.8M176.9 318.2h.8M169.3 330.8h.8M177.4 324.8h.8M184.2 304.4h.8M175.2 314.7h.8M171.8 317.1h.8M175.6 321.4h.8M175.8 306.7h.8M175.5 322.1h.8M180.5 325.6h.8M176.1 308.1h.8M184.9 313.5h.8M174.1 322.9h.8M174.3 327.7h.8M171.8 311.0h.8M176.8 307.6h.8M170.4 327.4h.8M175.6 316.4h.8M172.4 317.0h.8M175.9 308.6h.8M179.0 307.6h.8M179.4 315.2h.8M168.7 303.5h.8M176.7 310.4h.8M178.8 328.9h.8M180.5 325.3h.8M180.0 313.2h.8M179.6 314.4h.8M176.2 306.4h.8M174.1 320.2h.8M175.8 308.4h.8M176.3 324.7h.8M173.0 323.1h.8M179.3 310.0h.8M177.0 302.5h.8M170.2 319.7h.8M170.8 319.5h.8M178.6 301.2h.8M170.6 328.5h.8M174.3 318.0h.8M174.2 304.1h.8M164.8 338.4h.8M175.0 310.1h.8M177.6 301.9h.8M176.9 331.3h.8M171.3 319.1h.8M170.1 323.1h.8M171.7 315.4h.8M178.3 321.9h.8M175.5 304.9h.8M167.1 325.4h.8M176.2 317.8h.8M178.7 319.0h.8M172.0 315.7h.8M174.1 316.8h.8M182.4 323.2h.8M175.8 315.2h.8M173.5 308.8h.8M168.5 312.2h.8M171.7 301.5h.8M174.0 300.5h.8M177.5 327.7h.8M168.1 332.4h.8M180.4 297.6h.8M175.9 309.2h.8M168.7 313.8h.8M177.9 321.2h.8M170.2 310.9h.8M170.1 325.5h.8M175.5 309.3h.8M174.0 300.9h.8M170.2 323.5h.8M167.4 317.3h.8M172.9 323.3h.8M169.1 323.4h.8M176.7 336.0h.8M168.7 315.7h.8M173.5 317.8h.8M169.7 323.1h.8M180.6 330.4h.8M171.9 311.9h.8M176.8 318.5h.8M170.0 326.2h.8M174.8 325.4h.8M172.0 327.0h.8M174.4 307.9h.8M176.4 306.0h.8M177.8 323.6h.8M168.2 317.3h.8M178.0 314.7h.8M176.7 312.7h.8M174.3 316.3h.8M177.5 309.7h.8M169.9 318.9h.8M171.9 320.8h.8M174.5 306.3h.8M176.7 319.6h.8M177.5 314.8h.8M171.3 326.7h.8M165.9 329.6h.8M176.3 316.9h.8M173.9 321.8h.8M171.3 318.7h.8M173.7 301.8h.8M175.0 317.9h.8M175.9 321.8h.8M175.8 323.7h.8M168.9 325.9h.8M184.8 314.3h.8M169.0 321.6h.8M176.2 325.6h.8M181.9 307.1h.8M175.1 320.9h.8M180.1 310.8h.8M175.0 314.1h.8M174.0 315.8h.8M176.4 302.9h.8M174.2 317.5h.8M178.1 288.7h.8M172.9 311.4h.8M169.0 329.1h.8M178.0 316.1h.8M171.8 343.4h.8M170.3 320.1h.8M170.1 328.3h.8M178.5 316.7h.8M177.7 311.1h.8M167.6 322.6h.8M180.7 315.7h.8M175.1 302.5h.8M183.8 308.9h.8M171.2 314.8h.8M178.7 318.2h.8M174.3 317.2h.8M177.5 317.3h.8M175.1 316.5h.8M168.5 326.9h.8M173.8 306.1h.8M172.8 317.0h.8M179.4 305.9h.8M169.6 317.6h.8M177.4 308.6h.8M170.1 317.7h.8M176.2 304.1h.8M169.2 328.2h.8M169.1 324.6h.8M166.8 327.7h.8M181.0 313.0h.8M171.1 321.5h.8M169.2 320.6h.8M178.4 319.9h.8M175.8 316.0h.8M179.2 311.2h.8M180.1 317.8h.8M175.6 303.9h.8M172.5 318.6h.8M181.2 305.1h.8M174.9 311.5h.8M170.1 316.3h.8M170.5 323.4h.8M163.7 321.1h.8M170.4 300.4h.8M176.7 314.7h.8M176.3 309.4h.8M171.7 310.5h.8M175.4 310.3h.8M174.1 309.9h.8M176.9 308.2h.8M170.8 294.9h.8M174.2 317.7h.8M178.9 311.8h.8M172.5 304.5h.8M178.0 312.6h.8M178.0 317.0h.8M176.1 302.1h.8M170.9 322.8h.8M171.3 322.0h.8M167.1 324.0h.8M182.7 327.6h.8M177.3 307.5h.8M173.5 311.5h.8M178.0 301.2h.8M170.2 322.7h.8M173.9 323.0h.8M179.1 308.5h.8M168.9 319.8h.8M174.4 317.6h.8M170.0 324.5h.8M174.5 326.3h.8M172.1 322.2h.8M175.5 309.5h.8M176.5 303.9h.8M173.5 318.3h.8M178.4 309.1h.8M170.7 310.4h.8M168.0 310.5h.8M183.5 319.8h.8M172.7 311.1h.8M182.4 308.9h.8M174.1 316.3h.8M172.8 310.8h.8M169.6 309.3h.8M177.0 329.0h.8M172.4 322.4h.8M175.9 318.2h.8M172.2 326.5h.8M176.7 315.6h.8M172.2 324.2h.8M173.3 310.9h.8M174.1 312.9h.8M178.4 320.6h.8M174.8 312.8h.8M178.8 321.4h.8M180.5 325.5h.8M174.4 312.5h.8M173.1 318.3h.8M176.5 321.4h.8M182.2 306.0h.8M176.5 305.8h.8M171.6 311.6h.8M173.5 308.9h.8M167.4 325.0h.8M171.9 324.4h.8M173.8 298.0h.8M171.0 323.6h.8M171.8 319.8h.8M168.6 327.3h.8M174.4 325.6h.8M171.6 326.9h.8M175.4 313.2h.8M172.0 317.0h.8M172.9 307.0h.8M173.8 322.7h.8M172.2 323.4h.8M181.9 308.0h.8M176.7 309.6h.8M171.9 318.0h.8M165.1 320.2h.8M176.6 321.8h.8M174.1 331.7h.8M171.5 325.4h.8M178.8 321.8h.8M168.3 314.6h.8M175.7 304.0h.8M173.1 322.9h.8M173.7 315.4h.8M180.5 313.1h.8M171.0 316.7h.8M177.5 322.4h.8M175.4 313.2h.8M177.5 324.8h.8M167.8 318.5h.8M163.7 327.2h.8M177.5 312.4h.8M170.2 313.8h.8M167.4 320.3h.8M175.1 302.7h.8M172.6 326.3h.8M170.4 313.4h.8M180.6 319.6h.8M172.2 318.1h.8M178.6 309.6h.8M176.4 304.0h.8M171.0 303.8h.8M177.0 320.0h.8M175.3 327.1h.8M174.2 318.9h.8M175.2 320.9h.8M171.0 314.1h.8M173.8 317.2h.8M171.9 315.5h.8M175.1 318.6h.8M175.3 323.9h.8M175.0 325.0h.8M175.4 328.5h.8M177.5 312.5h.8M181.0 327.4h.8M177.8 323.6h.8M176.2 308.0h.8M176.5 314.5h.8M176.0 299.9h.8M181.6 308.8h.8M169.8 320.0h.8M177.6 311.1h.8M174.0 319.0h.8M174.2 321.3h.8M177.7 314.6h.8M165.5 333.0h.8M174.5 308.9h.8M176.2 322.1h.8M168.8 335.1h.8M164.2 325.6h.8M173.8 319.4h.8M175.9 315.4h.8M177.4 306.9h.8M170.3 331.3h.8M163.5 325.0h.8M167.7 308.8h.8M178.1 314.3h.8M174.5 304.8h.8M174.2 315.5h.8M174.4 304.3h.8M174.3 320.4h.8M177.7 321.8h.8M178.1 327.4h.8M162.0 328.3h.8M175.5 308.7h.8M174.6 324.8h.8M170.7 306.2h.8M177.6 313.1h.8M179.3 319.6h.8M174.4 306.1h.8M179.0 303.8h.8M171.7 305.8h.8M178.0 331.6h.8M174.2 313.8h.8M175.1 327.3h.8M168.4 333.9h.8M172.0 325.8h.8M166.1 315.0h.8M169.1 332.2h.8M175.5 306.8h.8M182.3 312.8h.8M176.2 307.1h.8M176.5 318.9h.8M173.9 313.6h.8M173.4 310.9h.8M167.7 325.6h.8M179.6 306.6h.8M169.7 319.5h.8M182.7 316.8h.8M173.6 314.8h.8M175.5 315.8h.8M176.8 325.5h.8M174.1 329.8h.8M174.4 312.5h.8M187.8 303.7h.8M172.2 297.4h.8M177.2 308.8h.8M181.2 301.1h.8M174.5 313.8h.8M168.9 325.1h.8M172.3 320.3h.8M172.3 317.8h.8M172.7 317.3h.8M175.0 311.5h.8M176.2 315.8h.8M172.5 308.1h.8M174.1 327.8h.8M170.3 312.8h.8M174.5 325.5h.8M178.6 308.1h.8M173.2 324.1h.8M175.6 315.4h.8M170.0 317.5h.8M174.1 317.2h.8M178.0 327.3h.8M171.2 318.3h.8M173.2 317.6h.8M178.9 325.3h.8M175.5 311.8h.8M173.3 319.8h.8M171.0 325.4h.8M176.2 307.7h.8M185.8 295.4h.8M173.6 315.9h.8M176.3 326.4h.8M177.3 330.3h.8M175.4 318.1h.8M178.1 317.4h.8M170.6 312.6h.8M175.9 322.3h.8M168.7 325.7h.8M177.7 305.3h.8M174.6 325.2h.8M176.7 314.9h.8M169.9 325.3h.8M175.2 317.1h.8M174.5 308.6h.8M168.2 313.1h.8M177.2 323.7h.8M169.8 328.6h.8M175.0 308.9h.8M175.9 328.6h.8M174.8 307.1h.8M177.7 297.8h.8M172.4 329.1h.8M176.4 311.4h.8M177.6 313.6h.8M179.4 315.0h.8M182.2 315.5h.8M176.4 309.7h.8M169.4 318.9h.8M177.0 309.5h.8M177.0 314.1h.8M172.5 316.1h.8M174.8 323.0h.8M178.2 320.8h.8M172.8 311.1h.8M177.4 307.8h.8M174.3 313.9h.8M173.8 318.4h.8M175.7 330.6h.8M176.1 325.5h.8M169.1 324.5h.8M181.0 307.1h.8M184.2 314.2h.8M163.4 329.4h.8M175.8 310.7h.8M170.8 325.1h.8M175.9 314.2h.8M179.8 310.3h.8M172.2 312.0h.8M170.8 322.0h.8M175.1 308.5h.8M175.6 301.0h.8M174.8 317.9h.8M176.9 315.5h.8M177.2 309.9h.8M174.3 318.2h.8M169.2 320.8h.8M174.8 317.5h.8M169.8 332.5h.8M175.5 310.9h.8M170.5 321.1h.8M174.8 310.6h.8M170.5 323.9h.8M173.2 325.4h.8M176.0 307.7h.8M177.0 320.1h.8M172.5 314.1h.8M169.8 322.9h.8M172.2 320.5h.8M175.7 315.1h.8M176.1 315.3h.8M170.8 313.0h.8M169.1 322.2h.8M177.5 312.8h.8M176.2 319.3h.8M179.2 310.3h.8M175.9 309.2h.8M170.0 327.3h.8M168.6 308.5h.8M175.0 323.4h.8M174.5 300.5h.8M167.8 318.8h.8M177.0 324.9h.8M169.9 327.2h.8M172.9 321.7h.8M171.4 329.4h.8M175.6 299.8h.8M173.0 318.3h.8M176.4 311.5h.8M175.2 307.9h.8M173.4 317.5h.8M172.9 330.1h.8M166.6 319.8h.8M177.6 308.2h.8M174.7 317.0h.8M169.8 322.0h.8M180.2 323.5h.8M175.6 325.9h.8M172.5 324.6h.8M171.3 317.9h.8M175.0 327.7h.8M173.8 314.5h.8M176.2 316.7h.8M173.7 323.4h.8M170.4 323.4h.8M176.1 315.2h.8M170.9 311.2h.8M172.9 324.3h.8M166.4 321.3h.8M176.7 308.3h.8M176.9 320.7h.8M177.3 309.6h.8M169.2 323.4h.8M178.8 320.8h.8M174.4 313.3h.8M166.9 323.6h.8M172.3 326.6h.8M170.4 324.8h.8M171.0 321.1h.8M180.2 312.4h.8M177.6 317.5h.8M170.8 318.0h.8M177.7 311.8h.8M174.3 312.4h.8M172.0 314.9h.8M178.0 313.6h.8M179.3 314.8h.8M170.4 324.9h.8M180.3 312.8h.8M178.1 308.3h.8M173.5 313.8h.8M178.7 307.7h.8M173.6 311.3h.8M176.5 307.5h.8M165.7 338.2h.8M177.3 305.4h.8M179.2 307.3h.8M165.4 328.8h.8M180.0 311.2h.8M169.9 320.0h.8M180.7 323.0h.8M178.4 308.2h.8M167.6 318.9h.8M177.8 318.7h.8M172.4 327.8h.8M169.9 325.0h.8M178.2 312.7h.8M174.7 317.9h.8M177.8 309.8h.8M173.5 317.5h.8M174.5 317.2h.8M175.5 315.7h.8M171.2 324.7h.8M172.6 314.1h.8M172.9 307.5h.8M176.0 317.0h.8M173.3 320.4h.8M172.8 322.2h.8M180.2 320.9h.8M171.1 329.7h.8M179.2 304.5h.8M178.8 319.5h.8M179.0 308.6h.8M172.4 311.4h.8M177.9 308.6h.8M170.6 323.9h.8M172.0 317.5h.8M173.7 303.2h.8M174.3 316.0h.8M168.0 323.6h.8M176.0 324.4h.8M174.2 307.8h.8M173.9 318.2h.8M174.6 312.3h.8M172.0 310.7h.8M174.8 313.2h.8M180.6 315.9h.8M176.6 313.7h.8M175.1 309.3h.8M174.8 305.1h.8M165.3 326.0h.8M170.1 319.7h.8M174.8 312.5h.8M177.7 313.2h.8M176.4 314.4h.8M176.4 325.0h.8M173.1 325.5h.8M174.0 329.3h.8M176.1 305.0h.8M174.8 319.0h.8M173.4 315.2h.8M175.2 307.1h.8M181.4 312.1h.8M172.9 304.1h.8M171.5 316.2h.8M178.7 322.5h.8M173.6 306.9h.8M170.6 315.6h.8M178.1 313.8h.8M177.2 332.9h.8M178.0 300.4h.8M178.3 316.9h.8M175.3 325.0h.8M170.8 316.8h.8M176.1 311.3h.8M177.0 316.4h.8M170.4 331.2h.8M172.7 329.7h.8M172.4 324.9h.8M171.6 317.6h.8M181.2 300.9h.8M176.6 315.2h.8M177.9 319.1h.8M175.9 307.1h.8M185.6 313.2h.8M174.3 311.2h.8M173.0 318.5h.8M168.3 324.3h.8M172.6 321.4h.8M167.8 311.6h.8M173.9 313.8h.8M171.6 318.9h.8M177.2 309.7h.8M166.6 321.4h.8M171.8 325.0h.8M177.6 316.7h.8M169.9 313.3h.8M170.1 326.1h.8M167.2 323.0h.8M169.9 311.6h.8M170.5 310.7h.8M172.3 319.6h.8M171.4 321.9h.8M180.2 319.3h.8M170.7 314.9h.8M174.5 314.1h.8M176.7 326.6h.8M180.6 322.3h.8M165.4 314.3h.8M177.8 311.2h.8M171.0 323.6h.8M176.5 308.4h.8M176.7 292.8h.8M176.1 307.5h.8M175.9 307.8h.8M171.9 312.4h.8M185.7 309.6h.8M171.0 312.1h.8M176.9 323.8h.8M177.2 314.9h.8M175.9 311.1h.8M174.9 310.6h.8M170.7 308.4h.8M180.5 321.2h.8M171.9 315.7h.8M171.1 326.1h.8M175.2 312.1h.8M176.3 319.9h.8M173.1 310.6h.8M177.2 304.4h.8M169.8 324.2h.8M175.8 326.1h.8M173.7 312.1h.8M174.1 313.1h.8M179.1 316.1h.8M180.0 312.3h.8M173.4 329.7h.8M172.7 311.5h.8M174.6 304.2h.8M174.2 311.8h.8M182.7 314.7h.8M165.7 322.9h.8M177.7 317.3h.8M174.4 322.7h.8M172.4 316.9h.8M172.5 329.8h.8M179.0 319.1h.8M168.5 322.9h.8M172.5 325.9h.8M174.3 318.4h.8M177.7 311.7h.8M168.9 334.2h.8M170.1 323.6h.8M175.6 323.7h.8M181.0 307.5h.8M180.5 301.7h.8M174.1 319.6h.8M176.4 326.0h.8M171.5 314.3h.8M174.8 311.5h.8M172.5 311.3h.8M176.4 328.2h.8M174.6 330.4h.8M176.2 308.6h.8M171.8 318.1h.8M176.2 327.0h.8M169.9 323.8h.8M171.7 321.2h.8M175.4 329.0h.8M172.2 318.5h.8M176.4 314.0h.8M173.8 321.6h.8M169.6 311.0h.8M181.7 321.9h.8M175.0 302.5h.8M170.3 320.4h.8M176.1 320.8h.8M177.2 312.7h.8M181.4 309.3h.8M176.5 315.2h.8M167.2 322.9h.8M172.4 322.3h.8M178.5 319.0h.8M172.4 314.9h.8M172.1 328.1h.8M175.1 329.8h.8M178.0 311.6h.8M176.2 325.0h.8M173.3 320.5h.8M175.0 307.0h.8M173.0 322.8h.8M176.3 299.5h.8M170.1 324.9h.8M173.5 325.8h.8M172.3 313.3h.8M172.0 310.3h.8M175.9 318.4h.8M172.3 319.0h.8M170.4 313.1h.8M171.3 304.5h.8M171.2 307.6h.8M177.9 328.6h.8M179.5 313.3h.8M178.1 308.6h.8M172.1 318.5h.8M168.6 317.5h.8M179.4 301.3h.8M166.3 313.3h.8M173.7 318.0h.8M169.6 320.7h.8M175.8 311.4h.8M179.6 320.0h.8M174.3 331.8h.8M173.0 315.0h.8M168.7 314.1h.8M172.3 336.7h.8M176.0 318.9h.8M171.2 309.6h.8M169.9 305.1h.8M174.3 319.4h.8M171.5 314.7h.8M170.7 321.3h.8M177.3 313.0h.8M174.5 307.2h.8M169.7 333.6h.8M173.1 323.6h.8M174.3 328.8h.8M174.5 309.8h.8M176.6 324.8h.8M170.5 325.1h.8M174.4 316.6h.8M179.9 322.3h.8M175.9 314.7h.8M173.5 325.3h.8M177.0 311.4h.8M176.1 316.3h.8M175.7 315.7h.8M169.1 303.1h.8M176.1 299.6h.8M166.3 331.8h.8M177.4 313.8h.8M178.6 299.8h.8M173.8 324.8h.8M176.8 306.9h.8M178.4 313.5h.8M172.1 318.2h.8M170.4 332.7h.8M170.8 333.6h.8M177.7 307.6h.8M174.3 317.4h.8M177.5 327.9h.8M184.1 313.4h.8M169.5 334.9h.8M170.7 319.2h.8M181.3 310.1h.8M174.2 310.9h.8M175.6 320.4h.8M173.3 322.1h.8M172.2 313.5h.8M173.1 333.0h.8M174.1 317.4h.8M178.8 318.4h.8M178.5 319.7h.8M178.1 319.1h.8M172.4 309.7h.8M173.2 332.0h.8M181.2 315.7h.8M184.6 309.9h.8M170.1 323.7h.8M167.8 323.2h.8M174.8 322.1h.8M169.6 319.2h.8M177.7 317.2h.8M177.9 317.8h.8M176.0 314.7h.8M169.9 314.9h.8M177.2 311.4h.8M169.8 303.6h.8M179.2 316.1h.8M169.9 326.2h.8M175.9 305.1h.8M174.1 309.8h.8M175.0 309.7h.8M173.9 320.6h.8M172.6 315.0h.8M172.6 323.4h.8M170.8 322.4h.8M179.0 316.3h.8M171.4 314.0h.8M169.0 311.6h.8M170.4 314.9h.8M172.3 320.8h.8M174.2 320.4h.8M173.8 319.2h.8M169.5 321.5h.8M177.3 326.5h.8M169.1 319.4h.8M167.6 321.9h.8M174.3 313.2h.8M172.1 314.7h.8M175.7 309.4h.8M174.1 315.6h.8M177.8 313.5h.8M167.6 335.0h.8M179.7 318.0h.8M164.2 316.3h.8M185.8 288.7h.8M172.4 316.3h.8M174.4 314.0h.8M169.5 325.9h.8M177.7 311.0h.8M167.0 332.5h.8M170.8 306.3h.8M176.1 315.0h.8M172.3 326.5h.8M180.2 319.1h.8M175.0 312.5h.8M170.1 322.1h.8M169.9 300.7h.8M174.6 302.9h.8M166.5 323.0h.8M159.1 314.2h.8M167.2 308.2h.8M173.9 302.4h.8M165.2 310.9h.8M162.7 287.1h.8M168.9 322.7h.8M186.7 313.7h.8M170.5 308.7h.8M174.6 322.8h.8M167.3 315.7h.8M171.0 323.8h.8M172.6 310.2h.8M173.2 298.7h.8M174.1 320.3h.8M180.6 317.7h.8M174.4 303.3h.8M169.6 303.9h.8M176.3 314.5h.8M160.8 307.7h.8M175.9 302.4h.8M172.8 318.0h.8M172.2 298.1h.8M171.8 314.9h.8M168.4 327.2h.8M178.4 303.7h.8M181.2 308.3h.8M178.5 315.2h.8M185.0 305.8h.8M177.7 318.4h.8M166.9 318.0h.8M187.4 320.7h.8M170.3 310.1h.8M181.8 317.9h.8M185.5 309.6h.8M187.2 300.4h.8M174.4 309.8h.8M167.9 323.7h.8M169.8 315.2h.8M183.5 324.4h.8M174.2 305.2h.8M161.1 312.8h.8M176.7 325.3h.8M169.7 334.0h.8M186.1 292.4h.8M166.8 318.9h.8M169.6 320.2h.8M188.4 316.4h.8M165.2 311.1h.8M181.8 309.2h.8M186.9 307.7h.8M170.6 321.4h.8M174.9 307.3h.8M172.5 319.2h.8M181.2 329.3h.8M186.2 316.3h.8M164.4 309.4h.8M175.0 302.7h.8M171.6 311.4h.8M172.2 321.8h.8M165.5 322.2h.8M172.7 320.1h.8M185.9 303.5h.8M186.5 309.2h.8M173.8 324.2h.8M184.9 299.8h.8M172.2 324.2h.8M174.0 312.0h.8M170.2 328.8h.8M174.0 302.9h.8M169.3 305.8h.8M172.1 315.9h.8M179.1 296.4h.8M162.8 316.5h.8M183.1 301.4h.8M187.6 291.5h.8M187.2 323.1h.8M162.8 314.7h.8M175.7 308.6h.8M173.0 310.2h.8M176.6 304.2h.8M169.4 317.2h.8M181.8 301.3h.8M166.9 327.0h.8M174.1 330.2h.8M169.3 300.5h.8M166.9 290.3h.8M175.4 302.2h.8M169.9 304.2h.8M171.0 320.6h.8M183.3 297.3h.8M184.8 312.7h.8M168.5 310.8h.8M176.2 298.9h.8M186.0 310.5h.8M169.3 317.0h.8M183.5 320.8h.8M167.7 315.5h.8M180.3 318.8h.8M180.0 309.7h.8M179.1 296.8h.8M173.5 300.7h.8M170.2 327.3h.8M164.5 296.0h.8M169.1 310.4h.8M184.1 307.8h.8M166.1 323.1h.8M175.3 318.8h.8M182.0 307.5h.8M177.9 307.1h.8M169.7 312.9h.8M181.1 301.6h.8M168.0 317.4h.8M173.7 319.7h.8M175.0 304.7h.8M177.7 320.3h.8M154.3 315.8h.8M167.9 317.9h.8M185.2 313.3h.8M167.8 313.6h.8M173.5 318.6h.8M165.1 312.7h.8M178.1 321.4h.8M175.0 325.7h.8M165.8 323.1h.8M178.8 303.9h.8M171.9 315.0h.8M172.7 326.6h.8M177.3 308.5h.8M189.2 314.0h.8M166.7 320.3h.8M174.3 304.7h.8M164.4 322.3h.8M167.7 311.9h.8M172.3 310.3h.8M169.0 312.9h.8M175.2 324.3h.8M175.8 301.2h.8M165.3 310.2h.8M155.2 321.0h.8M174.4 314.3h.8M167.8 304.2h.8M168.0 318.1h.8M170.2 318.2h.8M183.5 295.6h.8M169.4 324.7h.8M171.0 313.3h.8M177.4 301.0h.8M188.6 316.0h.8M179.9 310.0h.8M179.9 326.8h.8M179.1 324.4h.8M174.9 327.7h.8M176.7 315.1h.8M182.3 306.1h.8M156.4 315.9h.8M177.6 306.6h.8M175.7 303.4h.8M168.8 313.2h.8M172.9 321.3h.8M172.1 318.9h.8M180.9 307.7h.8M166.1 303.3h.8M174.6 307.5h.8M190.4 310.8h.8M179.8 306.7h.8M182.6 302.3h.8M180.0 316.6h.8M175.6 300.9h.8M186.7 310.8h.8M190.7 292.8h.8M161.7 328.1h.8M185.6 316.7h.8M179.0 320.8h.8M172.0 313.6h.8M171.4 298.1h.8M173.2 320.3h.8M179.2 301.7h.8M179.6 315.6h.8M180.1 311.8h.8M169.8 322.6h.8M186.7 304.3h.8M164.8 320.2h.8M176.7 314.3h.8M165.5 320.9h.8M175.1 315.5h.8M178.5 308.9h.8M176.7 315.1h.8M177.9 318.1h.8M168.7 303.9h.8M169.5 323.7h.8M167.2 322.7h.8M178.7 323.5h.8M188.6 317.4h.8M173.0 325.4h.8M174.2 323.4h.8M169.6 326.4h.8M182.4 295.6h.8M181.9 313.4h.8M169.9 308.6h.8M169.4 323.5h.8M176.8 313.1h.8M177.1 304.5h.8M171.9 307.4h.8M176.6 301.6h.8M169.1 321.9h.8M177.4 314.0h.8M177.4 311.5h.8M164.6 319.2h.8M187.0 322.3h.8M165.5 315.8h.8M173.2 309.8h.8M164.5 309.2h.8M181.8 298.7h.8M174.6 308.0h.8M166.5 317.2h.8M183.6 320.3h.8M178.7 322.4h.8M172.5 318.5h.8M184.1 311.7h.8M177.7 299.7h.8M165.4 301.8h.8M179.1 318.3h.8M172.3 326.1h.8M159.5 322.8h.8M172.8 320.7h.8M185.6 308.1h.8M168.0 315.3h.8M175.9 307.5h.8M175.9 306.0h.8M176.5 309.7h.8M188.2 306.5h.8M178.0 315.0h.8M187.3 307.0h.8M166.6 328.7h.8M171.6 308.3h.8M175.0 303.1h.8M177.7 329.9h.8M175.8 305.7h.8M164.2 316.8h.8M169.6 317.3h.8M160.8 304.5h.8M177.2 318.3h.8M155.8 310.4h.8M175.4 313.2h.8M173.7 308.3h.8M174.0 318.2h.8M154.9 306.9h.8M181.0 312.8h.8M184.9 306.6h.8M183.7 325.9h.8M178.9 330.9h.8M167.4 309.8h.8M174.4 324.0h.8M178.8 301.0h.8M182.7 313.9h.8M178.2 311.0h.8M177.9 299.9h.8M180.6 308.5h.8M162.3 313.6h.8M171.5 322.1h.8M183.2 303.2h.8M173.5 312.8h.8M178.2 303.3h.8M172.2 322.6h.8M178.0 329.3h.8M186.7 290.7h.8M174.5 307.4h.8M152.0 322.1h.8M180.3 314.8h.8M175.4 318.4h.8M169.2 325.7h.8M183.5 324.4h.8M170.4 314.4h.8M178.6 321.8h.8M167.5 320.8h.8M177.4 320.0h.8M172.0 312.1h.8M162.8 309.1h.8M172.7 309.5h.8M173.8 309.5h.8M174.8 314.2h.8M171.1 310.7h.8M172.6 317.6h.8M178.4 310.6h.8M174.2 296.0h.8M165.6 314.5h.8M164.1 326.5h.8M174.7 309.2h.8M175.2 307.7h.8M170.5 312.5h.8M165.2 311.6h.8M176.6 304.4h.8M179.9 318.5h.8M183.3 308.9h.8M170.3 299.5h.8M170.3 292.2h.8M185.7 311.6h.8M177.3 308.4h.8M169.1 327.7h.8M166.6 300.4h.8M178.1 304.8h.8M175.1 326.6h.8M177.9 321.9h.8M170.6 322.2h.8M173.1 300.3h.8M173.7 310.2h.8M185.1 306.1h.8M184.0 308.0h.8M171.7 294.6h.8M178.6 299.4h.8M175.8 313.9h.8M177.7 294.1h.8M170.0 316.3h.8M161.4 316.2h.8M176.3 308.0h.8M173.9 319.6h.8M176.7 305.7h.8M181.5 308.2h.8M174.0 323.0h.8M178.1 330.6h.8M180.5 316.4h.8M172.8 314.5h.8M181.1 306.5h.8M188.7 301.0h.8M184.6 302.9h.8M169.3 306.2h.8M176.8 299.8h.8M178.8 313.2h.8M185.9 306.0h.8M161.3 316.1h.8M170.3 321.8h.8M163.7 296.8h.8M169.4 331.7h.8M172.5 292.7h.8M167.6 325.5h.8M188.4 303.3h.8M176.2 294.5h.8M172.2 302.3h.8M173.9 324.6h.8M190.5 314.3h.8M179.0 316.7h.8M169.7 331.6h.8M174.4 329.2h.8M173.9 321.8h.8M178.0 313.1h.8M171.4 307.9h.8M175.8 309.5h.8M174.5 305.7h.8M180.6 312.4h.8M174.5 310.8h.8M184.3 310.5h.8M185.9 307.6h.8M182.3 321.8h.8M170.2 316.4h.8M184.5 306.2h.8M172.3 315.6h.8M174.1 309.9h.8M173.8 316.0h.8M175.1 328.5h.8M167.4 329.2h.8M178.0 299.1h.8M172.9 309.0h.8M187.2 296.0h.8M171.0 310.6h.8M177.5 318.0h.8M180.4 313.2h.8M169.6 324.0h.8M184.2 320.0h.8M178.1 305.3h.8M186.5 320.9h.8M183.1 299.1h.8M174.2 310.8h.8M184.7 314.2h.8M174.2 333.0h.8M169.8 303.0h.8M178.5 315.5h.8M175.3 311.5h.8M174.4 316.7h.8M172.5 309.5h.8M179.2 303.2h.8M183.8 293.2h.8M178.9 313.1h.8M163.4 323.5h.8M161.3 330.3h.8M166.6 323.1h.8M169.5 328.2h.8M170.2 322.4h.8M178.1 294.7h.8M175.6 318.3h.8M172.2 329.6h.8M174.2 298.1h.8M178.2 307.0h.8M174.0 312.8h.8M166.4 321.8h.8M168.6 329.7h.8M173.1 323.5h.8M174.7 306.3h.8M173.9 303.7h.8M177.0 315.2h.8M172.4 296.4h.8M174.6 294.1h.8M173.6 297.0h.8M182.4 303.4h.8M171.3 310.8h.8M173.6 317.1h.8M177.4 320.6h.8M168.8 324.2h.8M179.0 307.1h.8M187.3 304.7h.8M173.9 325.8h.8M174.3 316.5h.8M173.4 319.6h.8M176.0 313.5h.8M184.5 296.5h.8M177.1 310.7h.8M185.9 319.5h.8M168.6 318.0h.8M175.7 301.1h.8M171.4 317.3h.8M178.9 325.2h.8M176.5 312.0h.8M172.3 324.9h.8M170.5 323.8h.8M169.8 311.4h.8M177.3 321.2h.8M177.4 308.6h.8M164.9 305.5h.8M170.6 307.6h.8M186.6 308.8h.8M179.9 314.5h.8M167.5 312.0h.8M182.7 303.2h.8M168.6 307.2h.8M180.8 308.7h.8M175.9 318.2h.8M173.4 317.3h.8M183.0 313.6h.8M179.7 303.6h.8M170.5 310.7h.8M181.6 308.2h.8M163.4 319.1h.8M167.8 312.2h.8M180.4 305.0h.8M173.5 324.1h.8M170.8 319.4h.8M178.1 304.5h.8M172.7 306.1h.8M179.4 326.5h.8M180.7 298.7h.8M172.8 308.3h.8M162.9 309.2h.8M180.2 301.1h.8M173.3 307.9h.8M184.0 322.8h.8M179.1 315.3h.8M164.1 319.3h.8M176.1 293.6h.8M180.1 311.1h.8M173.1 317.9h.8M172.0 316.5h.8M183.4 312.4h.8M172.4 312.5h.8M179.7 310.5h.8M177.1 306.7h.8M172.6 318.0h.8M170.2 309.8h.8M167.8 303.7h.8M173.5 318.2h.8M168.6 310.1h.8M168.0 314.3h.8M174.9 317.7h.8M177.5 299.2h.8M175.1 299.4h.8M170.7 311.2h.8M183.0 309.0h.8M169.3 313.5h.8M156.3 327.9h.8M162.3 319.7h.8M177.7 323.9h.8M171.8 319.7h.8M169.7 321.4h.8M173.0 304.1h.8M178.2 309.5h.8M181.2 306.2h.8M179.1 304.3h.8M167.7 333.1h.8M171.7 299.4h.8M165.6 307.9h.8M185.7 311.8h.8M180.8 313.0h.8M164.9 330.7h.8M186.5 297.7h.8M167.5 315.1h.8M179.2 312.1h.8M174.9 318.7h.8M169.6 321.7h.8M167.3 318.5h.8M179.5 316.6h.8M172.6 312.2h.8M160.5 311.3h.8M171.9 291.4h.8M181.9 305.8h.8M176.6 314.1h.8M166.6 301.3h.8M171.6 316.9h.8M178.7 301.3h.8M171.1 313.0h.8M168.2 306.5h.8M177.5 292.0h.8M182.5 324.5h.8M169.1 321.1h.8M163.9 325.5h.8M172.0 313.6h.8M170.9 312.8h.8M176.5 313.9h.8M167.4 318.6h.8M178.0 314.1h.8M183.1 308.0h.8M182.8 313.9h.8M185.0 311.7h.8M172.5 314.5h.8M177.0 328.6h.8M174.0 305.3h.8M175.6 326.1h.8M179.8 311.2h.8M182.3 315.1h.8M173.8 319.2h.8M177.8 290.7h.8M173.8 320.2h.8M175.7 318.9h.8M172.6 323.1h.8M171.0 327.3h.8M172.6 320.6h.8M170.4 314.8h.8M176.8 315.1h.8M183.8 316.3h.8M180.3 318.4h.8M183.8 306.6h.8M169.6 321.4h.8M168.5 315.2h.8M177.4 315.9h.8M175.7 318.9h.8M172.0 316.5h.8M172.8 307.8h.8M165.4 309.1h.8M164.3 310.1h.8M179.0 303.2h.8M174.2 315.9h.8M175.2 303.8h.8M172.7 316.7h.8M174.5 332.9h.8M161.7 312.6h.8M179.1 307.8h.8M170.4 333.3h.8M171.3 326.1h.8M182.3 310.8h.8M157.3 319.6h.8M189.0 299.3h.8M175.4 306.1h.8M175.7 314.0h.8M183.2 309.6h.8M191.2 300.5h.8M172.2 318.8h.8M181.0 311.4h.8M162.5 311.5h.8M185.0 295.1h.8M170.0 317.4h.8M160.7 306.7h.8M169.0 297.4h.8M173.7 324.5h.8M183.5 309.0h.8M138.9 304.0h.8M137.1 305.9h.8M142.2 303.3h.8M135.9 311.4h.8M138.0 311.4h.8M137.8 313.2h.8M137.8 308.2h.8M138.8 309.4h.8M137.4 309.4h.8M135.5 306.7h.8M136.5 309.4h.8M137.1 310.1h.8M138.7 306.1h.8M137.3 305.3h.8M138.1 310.6h.8M136.0 303.9h.8M138.9 307.8h.8M137.8 309.7h.8M138.6 310.9h.8M137.0 302.8h.8M137.0 307.7h.8M137.1 309.5h.8M137.4 311.8h.8M136.7 308.5h.8M137.2 314.0h.8M136.0 305.9h.8M137.2 310.5h.8M137.9 308.0h.8M137.5 307.9h.8M141.3 309.5h.8M138.7 311.0h.8M136.2 305.3h.8M137.2 312.3h.8M139.8 307.0h.8M135.5 310.9h.8M140.0 305.7h.8M141.0 306.5h.8M139.4 308.0h.8M137.3 306.9h.8M139.3 310.1h.8M139.5 307.8h.8M136.2 314.0h.8M141.2 308.0h.8M135.7 312.4h.8M138.2 308.6h.8M139.6 309.4h.8M138.1 313.6h.8M136.0 308.7h.8M137.6 309.2h.8M142.5 307.4h.8M139.7 310.1h.8M138.5 307.2h.8M139.1 309.2h.8M140.7 310.7h.8M136.5 300.9h.8M140.9 309.8h.8M138.2 306.9h.8M142.8 312.0h.8M138.1 307.5h.8M139.0 312.0h.8M138.9 310.9h.8M138.4 309.4h.8M135.4 308.8h.8M138.0 308.3h.8M137.4 309.3h.8M136.8 308.0h.8M135.3 314.5h.8M136.1 305.4h.8M136.8 307.4h.8M135.8 302.2h.8M141.1 311.1h.8M137.2 309.9h.8M135.7 304.3h.8M138.6 310.0h.8M136.5 308.5h.8M140.0 308.9h.8M138.3 310.0h.8M135.4 309.1h.8M136.7 303.6h.8M139.7 308.0h.8M139.9 313.7h.8M138.5 304.0h.8M160.1 333.5h.8M154.7 322.0h.8M157.1 325.2h.8M141.5 326.2h.8M159.4 313.6h.8M144.4 312.6h.8M146.9 323.8h.8M157.7 318.3h.8M149.2 298.6h.8M148.2 307.1h.8M147.2 321.8h.8M152.9 356.4h.8M144.7 312.1h.8M142.5 315.2h.8M149.3 329.0h.8M136.1 328.0h.8M156.7 312.3h.8M146.2 320.2h.8M155.7 316.3h.8M150.4 318.2h.8M143.0 321.0h.8M156.2 318.6h.8M142.5 318.0h.8M150.7 321.5h.8M148.3 327.1h.8M160.2 327.0h.8M153.4 331.3h.8M151.3 316.2h.8M140.2 318.2h.8M161.2 307.6h.8M157.8 304.2h.8M154.0 337.9h.8M151.9 305.3h.8M153.9 316.4h.8M157.9 312.3h.8M137.8 312.8h.8M156.3 329.2h.8M153.8 318.3h.8M157.0 315.9h.8M148.0 320.5h.8M160.3 312.6h.8M155.5 311.1h.8M145.7 319.9h.8M141.0 308.8h.8M142.1 311.5h.8M144.3 343.2h.8M156.4 318.8h.8M140.9 292.3h.8M155.1 311.2h.8M159.9 313.8h.8M141.2 311.1h.8M139.4 302.8h.8M157.2 312.3h.8M157.0 312.0h.8M149.7 312.1h.8M147.2 310.9h.8M163.4 317.4h.8M136.1 336.3h.8M161.5 330.1h.8M150.7 316.4h.8M147.7 319.4h.8M155.3 318.0h.8M145.0 307.6h.8M164.8 336.2h.8M141.7 311.2h.8M151.2 324.3h.8M150.6 320.6h.8M154.4 330.3h.8M141.2 329.8h.8M155.0 323.8h.8M139.5 315.6h.8M149.5 324.9h.8M157.0 325.4h.8M141.2 331.5h.8M152.1 328.0h.8M151.4 310.5h.8M172.4 325.1h.8M157.6 313.1h.8M149.8 329.9h.8M155.1 336.7h.8M161.1 306.5h.8M139.2 330.4h.8M156.3 315.3h.8M149.2 312.1h.8M165.8 316.3h.8M140.5 327.7h.8M150.8 321.8h.8M148.4 317.6h.8M136.5 323.8h.8M146.0 314.0h.8M154.0 331.7h.8M155.8 328.9h.8M144.2 321.5h.8M154.7 328.0h.8M146.5 316.1h.8M147.4 330.2h.8M160.1 313.4h.8M150.4 320.4h.8M144.3 316.9h.8M158.4 326.3h.8M146.1 311.2h.8M150.5 302.5h.8M153.9 319.3h.8M140.8 315.6h.8M146.2 315.2h.8M144.5 332.5h.8M143.8 326.1h.8M153.1 333.3h.8M151.0 318.1h.8M152.0 298.2h.8M170.6 315.8h.8M148.9 306.2h.8M150.4 335.1h.8M145.4 322.7h.8M159.7 328.1h.8M148.2 299.7h.8M154.7 324.1h.8M148.9 313.6h.8M165.4 301.5h.8M147.4 311.7h.8M139.0 310.8h.8M145.1 331.2h.8M137.5 303.7h.8M153.5 301.9h.8M135.5 311.6h.8M141.8 307.9h.8M150.2 322.9h.8M146.3 315.2h.8M157.2 316.5h.8M157.3 312.0h.8M155.4 331.5h.8M140.4 349.5h.8M148.9 314.6h.8M150.2 323.0h.8M141.8 318.5h.8M146.8 333.1h.8M137.7 324.9h.8M148.9 310.3h.8M152.5 315.6h.8M151.8 320.6h.8M161.1 313.9h.8M164.8 289.9h.8M166.0 330.8h.8M163.9 320.2h.8M153.7 307.6h.8M162.1 306.0h.8M145.1 318.1h.8M153.3 321.7h.8M145.0 348.2h.8M159.8 365.6h.8M162.3 356.9h.8M153.1 346.0h.8M150.8 351.1h.8M160.2 346.4h.8M173.9 340.8h.8M162.8 349.9h.8M154.2 347.8h.8M169.2 348.8h.8M160.4 353.5h.8M162.2 358.8h.8M170.3 343.9h.8M148.1 371.4h.8M166.9 353.0h.8M152.9 355.0h.8M167.1 343.5h.8M168.5 351.5h.8M152.2 347.7h.8M136.6 355.8h.8M143.6 345.8h.8M147.4 354.8h.8M161.9 352.6h.8M157.1 356.8h.8M169.8 358.7h.8M169.5 351.5h.8M158.6 344.8h.8M160.8 342.5h.8M159.7 345.0h.8M152.3 366.0h.8M156.7 361.2h.8M153.3 331.0h.8M168.6 350.1h.8M149.6 362.9h.8M145.3 343.7h.8M165.7 344.3h.8M165.6 348.7h.8M153.5 353.0h.8M151.0 364.3h.8M165.3 352.9h.8M160.9 358.3h.8M170.5 334.2h.8M164.6 362.5h.8M152.6 352.3h.8M152.3 366.2h.8M145.2 359.0h.8M166.9 358.7h.8M151.1 347.0h.8M136.4 340.6h.8M165.3 341.5h.8M140.7 349.4h.8M142.1 357.4h.8M147.6 363.0h.8M154.4 336.2h.8M148.5 344.9h.8M147.9 366.2h.8M146.4 356.3h.8M150.2 358.9h.8M142.6 334.5h.8M160.0 368.3h.8M143.0 348.7h.8M150.9 341.6h.8M164.1 352.8h.8M143.0 349.8h.8M167.4 344.2h.8M150.8 342.9h.8M156.9 345.9h.8M163.4 342.8h.8M142.4 357.3h.8M158.0 355.0h.8M150.3 347.2h.8M148.2 350.2h.8M151.4 358.4h.8M155.5 358.5h.8M170.1 349.1h.8M152.9 356.4h.8M174.3 348.1h.8M170.6 365.6h.8M146.6 356.7h.8M167.4 352.8h.8M147.4 370.8h.8M150.9 324.8h.8M148.0 346.8h.8M155.1 360.8h.8M161.6 358.1h.8M148.7 372.4h.8M166.2 352.6h.8M150.3 351.7h.8M153.5 344.3h.8M155.4 344.7h.8M161.2 344.8h.8M159.9 355.8h.8M157.0 358.1h.8M149.2 360.5h.8M155.7 347.3h.8M171.1 364.7h.8M153.0 358.6h.8M161.6 370.1h.8M164.6 350.3h.8M153.2 339.0h.8M157.8 362.0h.8M152.0 359.7h.8M156.7 347.0h.8M144.5 364.8h.8M178.3 358.4h.8M145.8 340.5h.8M157.8 359.6h.8M169.1 324.8h.8M172.1 354.1h.8M156.7 356.6h.8M152.3 348.9h.8M165.0 332.5h.8M154.5 358.5h.8M140.7 350.4h.8M169.3 356.4h.8M161.9 360.2h.8M157.5 356.2h.8M148.2 349.8h.8M172.1 338.2h.8M154.0 337.8h.8M150.7 343.4h.8M144.5 354.9h.8M147.0 358.2h.8M171.8 323.1h.8M154.0 328.4h.8M154.4 356.4h.8M157.4 365.9h.8M156.9 332.6h.8M169.1 341.4h.8M154.7 355.9h.8M147.6 353.2h.8M169.0 333.0h.8M140.5 347.1h.8M154.0 337.6h.8M159.0 337.1h.8M160.7 351.4h.8M157.0 336.9h.8M153.6 357.6h.8M139.8 340.2h.8M161.5 351.4h.8M145.8 347.5h.8M153.3 357.2h.8M167.5 327.1h.8M145.0 352.1h.8M164.4 356.8h.8M167.7 358.9h.8M178.6 361.3h.8M159.7 369.6h.8M151.5 345.9h.8M146.4 355.0h.8M159.5 362.9h.8M168.6 359.3h.8M166.7 349.3h.8M146.9 360.5h.8M164.7 367.5h.8M154.1 346.8h.8M152.3 356.3h.8M155.1 350.0h.8M157.9 348.8h.8M158.6 345.3h.8M141.6 348.6h.8M172.6 342.8h.8M163.8 367.6h.8M150.7 355.1h.8M169.4 354.3h.8M137.6 345.5h.8M148.9 353.4h.8M158.2 347.4h.8M152.8 342.7h.8M160.7 354.4h.8M158.7 346.3h.8M160.0 348.7h.8M158.3 350.3h.8M149.6 339.5h.8M138.8 336.4h.8M140.8 342.7h.8M153.7 338.7h.8M166.8 338.7h.8M154.6 344.8h.8M162.5 335.3h.8M158.4 354.6h.8M160.7 357.0h.8M157.0 331.6h.8M152.7 341.2h.8M160.4 349.4h.8M155.3 323.6h.8M158.2 350.4h.8M208.7 351.1h.8M163.7 336.2h.8M163.0 333.4h.8M182.0 297.4h.8M209.7 357.4h.8M203.7 291.8h.8M155.8 351.6h.8M206.3 339.6h.8M217.4 322.2h.8M155.2 326.6h.8M161.8 318.1h.8M204.1 312.9h.8M198.0 337.4h.8M137.1 329.9h.8M211.6 342.4h.8M210.2 341.6h.8M172.7 301.5h.8M201.8 310.2h.8M193.8 343.1h.8M136.7 339.3h.8M164.2 306.5h.8M192.1 340.9h.8M172.4 295.7h.8M168.0 285.8h.8M194.0 298.9h.8M195.9 299.9h.8M189.3 293.5h.8M182.5 293.0h.8M195.8 299.5h.8M179.5 288.0h.8M182.8 291.3h.8M191.5 298.8h.8M185.4 286.2h.8M182.7 286.9h.8M182.8 297.3h.8M187.1 292.0h.8M170.7 299.0h.8M193.5 292.3h.8M167.3 295.1h.8M178.4 291.0h.8M177.7 289.1h.8M170.1 294.8h.8M182.2 291.5h.8M189.6 292.5h.8M170.8 289.0h.8M183.5 295.0h.8M185.9 296.2h.8M177.0 296.5h.8M184.3 288.8h.8M169.6 294.4h.8M192.7 299.3h.8M191.7 297.3h.8M184.5 288.7h.8M175.1 297.9h.8M174.3 292.3h.8M183.2 285.3h.8M169.2 288.0h.8M191.1 296.8h.8M168.4 287.4h.8M197.2 287.5h.8M191.2 293.8h.8M193.5 296.1h.8M192.0 313.1h.8M207.5 291.3h.8M213.2 298.8h.8M201.2 305.7h.8M203.5 307.1h.8M191.2 315.6h.8M202.7 293.0h.8M202.2 295.7h.8M200.4 311.6h.8M208.4 294.8h.8M196.8 319.1h.8M205.3 295.6h.8M204.8 297.4h.8M191.5 309.7h.8M192.4 294.2h.8M135.8 289.8h.8M136.4 351.6h.8M135.3 285.0h.8M135.3 285.3h.8M135.3 284.7h.8M136.3 297.2h.8M135.7 312.8h.8M135.3 301.0h.8M135.3 341.0h.8M135.4 296.6h.8M135.3 301.4h.8M135.4 373.4h.8M135.3 343.6h.8M135.7 374.3h.8M135.4 344.3h.8M135.3 345.6h.8M135.6 358.0h.8M135.4 289.2h.8M135.8 366.9h.8M135.4 354.3h.8M135.2 337.7h.8M135.7 318.1h.8M136.6 324.8h.8M135.8 296.2h.8M135.3 366.3h.8M135.3 296.2h.8M136.3 353.3h.8M135.7 337.2h.8M135.4 356.8h.8M135.9 302.3h.8M135.3 337.9h.8M135.7 364.4h.8M135.5 349.4h.8M135.4 297.2h.8M135.3 335.9h.8M135.2 336.1h.8M135.8 300.6h.8M135.3 302.6h.8M135.6 328.9h.8M135.5 366.6h.8M136.0 289.0h.8M135.4 328.1h.8M135.5 300.6h.8M135.3 318.4h.8M135.8 310.8h.8M136.2 311.2h.8M135.6 354.8h.8M135.4 333.2h.8M135.7 342.0h.8M135.6 322.3h.8M135.5 296.2h.8M135.7 303.9h.8M135.3 299.9h.8M135.4 340.5h.8M135.4 342.8h.8M135.7 321.7h.8M135.3 321.0h.8M135.3 372.0h.8M135.6 340.2h.8M135.4 372.2h.8M135.7 358.2h.8M135.3 360.8h.8M135.3 310.7h.8M135.9 315.6h.8M135.4 366.6h.8M135.6 327.7h.8M135.4 320.3h.8M135.4 286.6h.8M135.9 327.7h.8M136.0 325.8h.8M135.7 311.3h.8M135.3 296.0h.8M136.0 331.4h.8M135.6 349.8h.8M135.6 293.3h.8M135.8 342.5h.8M135.6 322.3h.8M135.6 342.1h.8M135.3 345.3h.8M135.5 373.8h.8M141.4 374.0h.8M137.2 373.8h.8M144.0 374.1h.8M142.4 373.5h.8M155.5 373.7h.8M189.4 373.7h.8M180.8 374.1h.8M168.2 373.7h.8M165.3 373.9h.8M148.1 374.1h.8M171.5 373.8h.8M171.0 373.8h.8M187.3 374.4h.8M180.2 373.6h.8M170.7 373.7h.8M179.6 374.4h.8M146.2 373.1h.8M159.9 373.3h.8M164.8 373.4h.8M160.0 373.7h.8M184.1 374.2h.8M168.7 373.8h.8M151.5 373.7h.8M137.7 374.2h.8M151.5 373.5h.8M146.0 373.1h.8M144.2 374.0h.8M142.9 373.9h.8M179.1 374.0h.8M150.0 373.8h.8M170.4 373.9h.8M181.3 373.9h.8M136.1 374.3h.8M180.7 374.2h.8M171.7 374.3h.8M144.6 373.1h.8M161.8 374.3h.8M138.8 373.6h.8M137.8 373.8h.8M184.1 373.1h.8M151.5 373.6h.8M146.0 374.1h.8M183.7 373.5h.8M177.5 373.9h.8M177.6 374.1h.8M174.5 373.9h.8M135.9 374.2h.8M188.7 373.8h.8M177.9 373.5h.8M167.0 374.1h.8M168.8 374.0h.8M149.2 374.4h.8M173.5 373.7h.8M176.4 374.0h.8M169.8 374.1h.8M166.8 374.0h.8M176.2 373.6h.8M153.4 374.0h.8M152.3 374.1h.8M166.7 373.9h.8M141.2 374.3h.8M175.0 374.4h.8M154.1 373.9h.8M136.6 374.2h.8M172.8 373.6h.8M171.5 373.6h.8M159.2 373.9h.8M153.1 373.6h.8M145.8 374.0h.8M137.8 373.8h.8M144.0 374.2h.8M163.7 374.3h.8M156.7 374.1h.8M175.3 373.4h.8M138.8 372.9h.8M168.2 373.3h.8M188.8 374.4h.8M153.0 374.0h.8M148.0 374.2h.8M162.5 374.0h.8M179.4 374.4h.8M176.9 374.2h.8M169.9 374.4h.8M182.0 374.3h.8M142.5 374.4h.8M178.5 373.9h.8M186.6 373.4h.8M181.2 373.8h.8M160.9 374.0h.8M142.8 374.2h.8M141.5 374.1h.8M137.9 374.0h.8M151.3 374.1h.8M162.9 374.0h.8M181.5 373.4h.8M164.7 374.3h.8M136.8 373.6h.8M140.7 373.7h.8M187.5 373.6h.8M146.8 374.0h.8M136.9 374.1h.8M145.1 373.5h.8M137.1 373.9h.8M153.9 374.2h.8M182.4 374.1h.8M173.2 374.3h.8M174.4 373.0h.8M161.1 373.8h.8M170.6 373.9h.8M151.5 374.2h.8M158.6 374.1h.8M172.8 374.4h.8M138.2 374.4h.8M136.5 373.6h.8M153.1 374.0h.8M155.6 373.5h.8M144.3 374.4h.8M139.6 373.2h.8M158.0 373.5h.8M146.2 374.1h.8M217.3 374.0h.8M221.6 374.1h.8M212.6 374.3h.8M198.8 374.2h.8M202.2 374.3h.8M199.0 374.0h.8M220.0 373.6h.8M211.6 374.3h.8M214.4 373.9h.8M205.8 373.6h.8M212.3 374.1h.8M195.6 374.2h.8M202.0 374.0h.8M194.9 374.1h.8M196.3 374.2h.8M219.3 374.1h.8M190.3 373.9h.8M215.0 374.2h.8M201.5 374.1h.8M189.8 374.4h.8M192.3 374.3h.8M196.1 373.8h.8M199.2 374.0h.8M211.4 374.2h.8M200.0 374.4h.8M216.4 374.4h.8M202.3 374.3h.8M206.2 374.2h.8M194.6 374.3h.8M196.0 374.3h.8M207.4 374.3h.8M219.0 374.3h.8M191.6 374.2h.8M191.5 374.3h.8M199.6 374.0h.8M198.3 374.2h.8M202.4 374.1h.8M204.6 374.2h.8M196.8 374.2h.8M197.7 373.7h.8" stroke="#000" stroke-width="0.8" fill="none" opacity="0.78"/>
<rect x="231.4" y="283.5" width="88.4" height="90.9" fill="#fff" stroke="#111" stroke-width="1.1"/>
<line x1="255.9" y1="283.5" x2="255.9" y2="374.4" stroke="#111" stroke-width="1.5"/>
<line x1="231.4" y1="337.3" x2="319.8" y2="337.3" stroke="#222" stroke-width="0.9"/>
<path d="M273.8 301.7h.8M271.6 306.5h.8M274.0 306.8h.8M278.1 306.8h.8M275.9 301.7h.8M272.5 302.9h.8M269.5 307.1h.8M276.1 300.2h.8M264.2 309.6h.8M267.1 309.7h.8M269.5 304.4h.8M268.6 307.7h.8M275.4 305.0h.8M278.1 299.8h.8M275.6 303.1h.8M266.9 308.4h.8M282.1 296.7h.8M281.3 300.6h.8M279.7 298.6h.8M276.3 301.2h.8M266.0 307.5h.8M272.1 300.7h.8M272.9 302.4h.8M272.1 301.5h.8M276.1 301.7h.8M263.7 308.6h.8M270.4 302.1h.8M275.0 305.0h.8M272.2 310.5h.8M279.6 300.4h.8M275.5 304.5h.8M273.7 308.8h.8M266.4 302.8h.8M273.6 306.1h.8M274.6 300.2h.8M277.5 298.5h.8M276.7 304.3h.8M275.4 306.8h.8M273.9 311.0h.8M274.2 302.7h.8M284.1 295.4h.8M268.0 314.2h.8M278.6 298.4h.8M270.3 311.2h.8M271.5 303.4h.8M270.8 307.3h.8M279.6 304.5h.8M272.6 310.6h.8M267.3 312.5h.8M272.9 306.7h.8M269.7 305.7h.8M275.9 306.3h.8M263.2 313.9h.8M269.3 304.9h.8M267.8 311.4h.8M276.3 304.4h.8M261.6 310.1h.8M269.4 306.9h.8M279.9 297.9h.8M275.0 306.7h.8M280.7 299.6h.8M277.4 307.6h.8M268.1 303.6h.8M269.0 307.6h.8M279.0 300.9h.8M278.2 300.9h.8M272.0 304.1h.8M268.2 311.0h.8M275.3 305.0h.8M269.8 306.6h.8M275.4 305.0h.8M280.1 296.1h.8M278.5 303.2h.8M271.9 306.6h.8M275.0 308.4h.8M284.4 296.2h.8M273.2 308.1h.8M274.7 303.1h.8M277.5 304.1h.8M272.5 308.4h.8M260.9 311.5h.8M271.7 306.8h.8M268.8 313.6h.8M271.4 307.1h.8M273.8 306.9h.8M271.5 308.9h.8M266.8 305.8h.8M275.3 303.7h.8M273.5 298.4h.8M272.2 303.7h.8M271.3 305.3h.8M270.1 305.5h.8M274.5 298.2h.8M266.1 312.4h.8M280.3 296.2h.8M267.0 306.6h.8M270.4 311.6h.8M277.2 304.4h.8M274.7 304.4h.8M268.7 305.8h.8M279.5 307.6h.8M273.3 309.1h.8M269.8 308.1h.8M280.1 298.7h.8M274.7 301.9h.8M279.0 295.9h.8M274.9 302.7h.8M274.2 305.3h.8M280.0 301.9h.8M278.0 302.0h.8M270.3 311.9h.8M280.3 300.3h.8M275.9 301.9h.8M268.1 312.7h.8M272.7 311.7h.8M275.8 302.7h.8M270.3 307.9h.8M267.8 308.5h.8M279.3 298.7h.8M280.7 298.1h.8M273.1 302.0h.8M270.7 305.7h.8M269.9 314.3h.8M275.2 302.9h.8M268.1 309.6h.8M266.6 307.6h.8M275.5 310.1h.8M266.1 313.0h.8M265.7 302.0h.8M266.4 310.5h.8M271.8 303.7h.8M281.4 299.5h.8M267.3 304.7h.8M272.4 303.4h.8M275.5 299.5h.8M277.3 299.9h.8M273.2 304.1h.8M277.4 305.1h.8M268.9 305.8h.8M282.6 299.9h.8M282.7 299.8h.8M276.0 307.9h.8M269.1 307.1h.8M272.1 308.2h.8M268.8 308.3h.8M268.7 308.2h.8M279.5 303.1h.8M276.0 311.0h.8M270.4 308.9h.8M267.1 303.1h.8M269.6 312.2h.8M270.3 317.2h.8M272.7 306.3h.8M278.3 300.6h.8M269.0 306.7h.8M269.5 310.0h.8M271.5 308.1h.8M265.5 310.3h.8M282.4 298.1h.8M274.2 308.0h.8M276.5 307.2h.8M268.9 311.3h.8M269.2 310.7h.8M286.0 298.8h.8M269.7 309.5h.8M273.6 302.3h.8M272.1 302.5h.8M278.5 303.4h.8M273.2 307.3h.8M282.9 295.9h.8M265.1 313.2h.8M269.5 305.7h.8M278.3 303.8h.8M278.0 306.1h.8M269.3 307.0h.8M270.1 298.7h.8M261.3 316.5h.8M271.9 306.3h.8M268.9 309.5h.8M276.3 300.1h.8M275.0 302.9h.8M272.2 306.2h.8M280.2 300.6h.8M276.0 303.0h.8M264.8 315.4h.8M272.8 305.7h.8M268.0 304.5h.8M282.3 303.1h.8M276.6 295.9h.8M273.2 301.1h.8M271.1 305.2h.8M268.7 306.4h.8M271.9 308.7h.8M281.3 300.9h.8M272.4 305.2h.8M271.6 306.3h.8M269.7 307.5h.8M276.1 301.7h.8M268.9 308.3h.8M273.0 304.9h.8M272.7 307.7h.8M270.8 303.7h.8M274.0 301.9h.8M277.4 304.0h.8M275.3 304.1h.8M266.4 310.3h.8M274.3 306.1h.8M267.5 309.5h.8M266.2 311.7h.8M273.2 305.3h.8M281.2 300.4h.8M270.9 305.1h.8M272.0 308.6h.8M275.9 301.0h.8M271.5 305.1h.8M276.0 303.1h.8M268.1 306.6h.8M276.1 297.8h.8M259.6 306.7h.8M280.8 296.6h.8M277.4 303.2h.8M278.3 304.3h.8M270.6 307.2h.8M277.9 302.7h.8M268.1 306.9h.8M266.7 311.5h.8M267.8 304.6h.8M270.8 308.2h.8M273.1 304.3h.8M274.5 306.0h.8M266.0 308.6h.8M278.2 303.0h.8M265.3 309.5h.8M280.3 301.2h.8M273.7 307.9h.8M281.1 302.8h.8M264.4 308.4h.8M270.4 307.3h.8M271.5 307.3h.8M281.1 301.7h.8M277.1 301.6h.8M280.8 299.9h.8M273.7 304.5h.8M268.1 316.6h.8M274.1 307.2h.8M282.4 296.3h.8M269.2 311.9h.8M272.2 302.7h.8M277.0 301.7h.8M264.3 304.4h.8M268.9 310.0h.8M269.7 311.3h.8M283.0 297.4h.8M273.6 304.4h.8M276.6 302.1h.8M279.6 304.0h.8M274.9 300.3h.8M275.2 302.3h.8M275.7 306.0h.8M270.1 308.4h.8M277.9 298.1h.8M273.0 307.5h.8M273.3 308.2h.8M265.7 306.6h.8M274.1 303.7h.8M275.7 306.0h.8M276.8 300.7h.8M267.8 303.3h.8M268.7 309.7h.8M271.2 301.8h.8M276.1 302.3h.8M277.0 300.5h.8M275.2 299.6h.8M263.1 311.2h.8M276.5 303.5h.8M264.5 313.1h.8M278.4 305.9h.8M277.0 303.3h.8M266.3 312.3h.8M263.4 312.6h.8M269.5 305.1h.8M267.9 309.1h.8M274.2 302.0h.8M275.2 305.6h.8M275.7 309.1h.8M270.1 305.3h.8M266.0 314.9h.8M275.4 302.4h.8M273.9 304.0h.8M276.6 302.0h.8M273.6 304.4h.8M265.1 304.8h.8M273.1 301.0h.8M275.5 305.1h.8M279.9 296.7h.8M274.9 306.6h.8M268.7 307.0h.8M278.0 307.5h.8M279.1 303.0h.8M269.5 310.4h.8M275.7 298.6h.8M272.4 305.0h.8M272.7 299.7h.8M275.8 302.7h.8M268.1 302.6h.8M262.6 312.5h.8M276.3 303.7h.8M273.3 299.4h.8M275.8 307.1h.8M266.8 312.7h.8M270.3 309.3h.8M270.5 302.0h.8M270.1 311.9h.8M274.2 308.2h.8M275.6 305.8h.8M271.3 307.4h.8M272.5 308.6h.8M271.9 309.7h.8M277.7 297.0h.8M272.8 307.1h.8M282.5 300.6h.8M270.3 301.9h.8M275.5 301.1h.8M274.2 305.4h.8M268.1 312.9h.8M277.7 302.9h.8M275.9 303.8h.8M265.6 310.0h.8M275.8 301.6h.8M273.4 306.0h.8M273.5 305.6h.8M274.8 303.6h.8M267.3 309.3h.8M275.8 300.5h.8M275.3 304.2h.8M264.2 303.7h.8M271.3 304.1h.8M271.4 309.6h.8M269.8 309.1h.8M273.5 305.4h.8M278.4 294.0h.8M276.7 301.4h.8M270.3 305.3h.8M272.9 305.4h.8M271.2 312.1h.8M269.1 308.1h.8M267.3 310.7h.8M276.0 306.1h.8M276.2 300.7h.8M279.6 299.0h.8M282.4 302.5h.8M269.1 305.0h.8M277.4 306.0h.8M276.2 305.9h.8M276.8 304.8h.8M278.1 299.7h.8M266.2 310.8h.8M267.2 306.3h.8M273.1 307.4h.8M262.0 309.9h.8M274.8 300.7h.8M273.1 309.5h.8M278.2 301.7h.8M270.7 298.3h.8M275.8 304.0h.8M266.8 311.2h.8M274.5 303.5h.8M277.6 304.0h.8M272.5 304.8h.8M269.3 312.2h.8M270.6 308.3h.8M280.7 300.9h.8M266.9 310.3h.8M266.8 305.2h.8M270.0 309.7h.8M273.8 303.7h.8M271.6 302.6h.8M269.0 308.1h.8M275.7 301.8h.8M272.5 306.7h.8M277.2 297.4h.8M275.3 303.7h.8M272.7 306.2h.8M263.9 313.2h.8M269.6 304.1h.8M276.2 301.9h.8M272.4 308.2h.8M267.4 307.7h.8M277.7 303.8h.8M280.9 296.7h.8M263.8 308.4h.8M267.5 310.3h.8M270.5 305.1h.8M267.0 308.1h.8M273.0 309.1h.8M277.6 305.5h.8M277.5 303.7h.8M278.6 301.7h.8M281.3 301.5h.8M281.1 298.8h.8M273.3 313.1h.8M272.2 307.5h.8M269.8 305.7h.8M272.8 301.7h.8M274.2 308.7h.8M274.5 306.5h.8M276.1 303.7h.8M274.1 306.2h.8M269.3 310.3h.8M266.7 308.3h.8M267.9 305.3h.8M264.5 313.8h.8M275.9 304.7h.8M282.8 297.2h.8M274.8 301.2h.8M273.9 300.6h.8M279.9 296.0h.8M272.0 308.4h.8M265.0 316.5h.8M268.7 309.5h.8M277.2 301.9h.8M276.0 300.9h.8M271.8 299.2h.8M278.3 298.3h.8M268.8 308.9h.8M279.1 297.5h.8M272.0 304.9h.8M266.4 306.7h.8M276.4 304.5h.8M269.7 308.8h.8M275.2 304.4h.8M272.0 306.2h.8M272.1 302.4h.8M273.3 307.5h.8M272.3 310.1h.8M269.8 304.4h.8M269.1 304.1h.8M272.8 300.2h.8M272.3 305.0h.8M272.0 307.4h.8M273.0 303.3h.8M275.5 301.5h.8M278.8 304.4h.8M275.8 305.7h.8M267.6 311.7h.8M265.7 311.0h.8M271.4 297.8h.8M267.9 307.1h.8M268.5 309.2h.8M273.6 300.9h.8M266.9 304.5h.8M266.1 304.4h.8M266.7 312.2h.8M275.2 300.6h.8M272.9 302.7h.8M280.2 304.5h.8M260.3 313.5h.8M269.0 307.1h.8M282.1 302.3h.8M273.6 306.7h.8M265.1 311.1h.8M271.1 306.3h.8M271.4 301.5h.8M271.4 313.5h.8M265.0 312.4h.8M276.6 303.6h.8M270.3 302.3h.8M268.0 304.5h.8M281.9 298.5h.8M276.2 303.0h.8M272.8 309.2h.8M277.6 303.2h.8M276.4 304.6h.8M272.1 307.4h.8M272.6 304.7h.8M278.9 306.9h.8M265.9 316.1h.8M272.6 309.4h.8M267.8 309.1h.8M277.1 301.4h.8M272.2 301.9h.8M270.2 313.0h.8M273.2 304.7h.8M264.8 309.0h.8M267.9 309.4h.8M271.1 304.8h.8M269.8 308.3h.8M275.5 298.3h.8M268.1 313.1h.8M265.6 310.3h.8M276.1 308.4h.8M258.8 308.1h.8M274.0 307.8h.8M271.9 303.5h.8M270.1 301.0h.8M278.7 305.0h.8M273.0 307.8h.8M270.3 312.3h.8M268.4 306.5h.8M266.4 305.2h.8M278.8 306.6h.8M265.9 310.7h.8M273.7 302.7h.8M266.2 312.2h.8M277.2 301.8h.8M267.4 309.1h.8M263.9 312.9h.8M279.8 302.8h.8M272.9 306.6h.8M270.5 307.8h.8M270.2 308.1h.8M270.6 307.9h.8M275.7 302.8h.8M267.6 311.5h.8M270.7 305.5h.8M273.8 301.8h.8M277.7 302.9h.8M268.4 306.9h.8M270.6 304.3h.8M273.2 297.6h.8M272.7 304.3h.8M268.8 310.9h.8M271.2 308.2h.8M270.2 306.7h.8M276.5 305.2h.8M277.0 301.6h.8M278.6 299.1h.8M263.5 307.4h.8M264.8 309.5h.8M265.2 313.0h.8M272.7 305.3h.8M273.5 304.4h.8M271.0 305.9h.8M271.0 303.3h.8M280.8 303.4h.8M276.4 309.6h.8M269.8 310.9h.8M266.4 312.9h.8M270.9 310.3h.8M274.7 306.8h.8M276.2 304.1h.8M274.0 309.5h.8M275.0 305.0h.8M278.6 299.4h.8M282.1 300.7h.8M270.6 302.5h.8M277.5 300.2h.8M273.2 305.3h.8M277.9 302.9h.8M263.5 311.4h.8M274.4 304.4h.8M277.1 303.4h.8M278.7 297.8h.8M279.0 301.1h.8M275.1 305.6h.8M272.3 308.1h.8M272.9 307.6h.8M271.1 310.6h.8M264.8 310.2h.8M272.8 306.1h.8M268.4 307.8h.8M275.5 306.4h.8M277.6 299.6h.8M271.8 305.2h.8M265.1 310.6h.8M275.5 298.6h.8M286.9 296.2h.8M280.6 299.1h.8M263.1 315.3h.8M278.7 298.2h.8M279.5 302.0h.8M277.3 303.8h.8M276.3 304.4h.8M278.6 301.6h.8M276.1 303.8h.8M271.8 303.3h.8M263.0 310.6h.8M264.7 307.6h.8M275.2 302.2h.8M283.3 306.3h.8M275.3 301.6h.8M274.0 303.6h.8M277.3 308.2h.8M281.8 301.6h.8M276.8 307.7h.8M277.8 303.9h.8M266.5 308.9h.8M273.0 304.4h.8M267.1 303.8h.8M269.2 308.2h.8M272.3 302.3h.8M275.0 309.3h.8M270.2 301.2h.8M271.8 306.2h.8M278.6 300.9h.8M279.3 300.8h.8M280.0 303.4h.8M279.8 299.9h.8M281.9 310.2h.8M267.6 310.6h.8M273.6 302.3h.8M276.1 302.0h.8M276.5 302.7h.8M270.2 311.0h.8M283.0 299.4h.8M271.1 301.2h.8M274.0 304.2h.8M266.0 305.0h.8M276.2 305.5h.8M279.5 306.9h.8M264.8 313.5h.8M274.8 308.2h.8M270.9 303.8h.8M273.1 306.5h.8M268.1 306.9h.8M275.3 306.1h.8M272.4 307.3h.8M269.9 306.8h.8M275.1 306.5h.8M279.5 299.1h.8M277.9 307.4h.8M275.8 301.6h.8M272.2 301.2h.8M262.1 312.2h.8M267.3 305.7h.8M276.5 300.6h.8M273.2 305.3h.8M269.8 304.1h.8M278.0 294.3h.8M273.7 306.9h.8M271.6 306.1h.8M274.4 304.7h.8M272.9 308.8h.8M277.4 306.3h.8M269.8 301.4h.8M264.5 310.9h.8M272.0 300.7h.8M272.2 310.0h.8M273.0 302.8h.8M272.4 306.1h.8M270.3 306.5h.8M270.2 308.3h.8M282.0 302.0h.8M271.0 314.6h.8M269.9 303.3h.8M266.3 311.5h.8M272.7 303.4h.8M268.8 308.1h.8M274.9 305.7h.8M271.3 298.9h.8M270.5 308.2h.8M275.6 305.5h.8M268.7 314.1h.8M267.1 309.7h.8M269.9 306.4h.8M270.6 310.0h.8M276.7 303.1h.8M266.1 309.2h.8M273.1 306.4h.8M269.8 307.1h.8M284.3 295.4h.8M267.4 302.0h.8M272.0 311.4h.8M274.5 300.0h.8M276.4 302.7h.8M270.5 310.0h.8M269.5 307.2h.8M273.1 305.8h.8M271.3 307.7h.8M273.0 305.8h.8M273.4 302.8h.8M266.6 310.6h.8M278.6 301.3h.8M272.5 303.2h.8M265.7 307.5h.8M268.1 308.3h.8M265.7 311.1h.8M266.9 312.7h.8M269.7 302.3h.8M270.7 308.0h.8M275.6 305.4h.8M270.9 306.5h.8M272.6 307.4h.8M269.4 307.8h.8M272.8 304.2h.8M270.2 312.1h.8M273.4 301.8h.8M280.0 296.5h.8M268.3 308.1h.8M277.5 306.2h.8M279.6 301.2h.8M274.1 306.4h.8M268.1 307.1h.8M275.3 303.8h.8M272.1 302.6h.8M271.4 301.8h.8M276.8 301.9h.8M269.1 307.0h.8M289.9 300.6h.8M271.9 310.7h.8M261.9 318.7h.8M273.2 305.8h.8M266.4 306.7h.8M273.0 303.7h.8M276.6 305.5h.8M273.1 306.9h.8M273.8 305.2h.8M270.8 307.9h.8M274.7 303.9h.8M268.3 304.5h.8M270.6 312.4h.8M277.6 302.1h.8M273.7 304.0h.8M277.2 304.6h.8M272.1 307.0h.8M274.3 298.8h.8M267.7 308.0h.8M266.9 309.1h.8M268.4 307.9h.8M272.9 301.4h.8M275.4 307.6h.8M271.5 302.4h.8M272.0 309.9h.8M270.5 305.3h.8M274.9 301.1h.8M268.9 310.8h.8M271.7 304.2h.8M276.5 305.7h.8M277.6 301.5h.8M275.5 304.6h.8M269.0 314.2h.8M268.9 306.9h.8M267.6 306.8h.8M277.5 301.3h.8M267.2 304.2h.8M273.3 304.7h.8M268.1 309.2h.8M265.8 313.6h.8M268.2 311.0h.8M269.7 301.1h.8M266.8 308.5h.8M277.1 303.5h.8M278.2 306.1h.8M270.6 305.6h.8M262.9 310.7h.8M273.8 301.7h.8M270.5 310.5h.8M264.3 317.4h.8M275.4 297.2h.8M274.7 303.6h.8M276.1 301.4h.8M274.5 308.5h.8M270.8 308.5h.8M275.3 302.8h.8M277.4 303.1h.8M273.5 299.1h.8M268.7 309.9h.8M280.1 303.7h.8M271.6 304.0h.8M264.8 306.0h.8M271.5 308.4h.8M270.0 303.0h.8M272.4 305.9h.8M271.8 311.0h.8M276.4 305.8h.8M271.6 303.2h.8M279.2 303.4h.8M268.0 305.2h.8M275.3 301.3h.8M267.5 309.7h.8M273.9 301.9h.8M274.5 307.2h.8M273.4 299.7h.8M278.7 306.0h.8M276.6 301.8h.8M271.7 301.1h.8M269.3 306.7h.8M281.7 297.6h.8M271.3 312.3h.8M275.3 297.7h.8M269.1 303.1h.8M273.5 297.3h.8M279.0 296.4h.8M271.7 313.3h.8M275.6 304.1h.8M274.8 300.3h.8M276.0 301.6h.8M275.3 303.9h.8M276.6 297.8h.8M267.8 311.9h.8M283.8 297.5h.8M273.1 307.3h.8M267.6 310.2h.8M265.6 312.0h.8M278.6 305.9h.8M272.1 309.1h.8M276.8 298.4h.8M268.5 303.0h.8M269.6 309.6h.8M263.5 312.6h.8M278.2 305.4h.8M262.5 315.6h.8M266.3 303.5h.8M269.3 310.4h.8M273.8 306.8h.8M272.5 307.8h.8M266.9 307.3h.8M269.1 302.8h.8M277.6 300.3h.8M267.1 307.5h.8M268.7 309.3h.8M272.5 308.4h.8M267.6 309.7h.8M265.4 310.3h.8M278.4 300.1h.8M276.4 302.0h.8M266.5 307.9h.8M268.4 310.3h.8M278.5 310.1h.8M281.3 300.7h.8M268.7 309.4h.8M272.6 313.3h.8M271.5 310.4h.8M268.1 312.0h.8M266.7 309.2h.8M273.7 305.1h.8M272.3 305.5h.8M268.8 308.5h.8M270.9 304.0h.8M275.4 303.6h.8M271.6 310.7h.8M267.1 304.0h.8M277.5 300.0h.8M279.7 300.7h.8M270.7 310.9h.8M276.2 305.4h.8M275.4 308.2h.8M276.1 301.3h.8M266.1 311.1h.8M271.4 303.3h.8M274.3 309.0h.8M272.5 309.3h.8M267.1 307.2h.8M276.5 301.6h.8M275.3 306.6h.8M277.7 297.0h.8M275.6 303.7h.8M276.3 308.3h.8M270.7 305.3h.8M271.5 299.7h.8M272.8 302.4h.8M272.9 302.8h.8M274.5 303.1h.8M270.5 309.2h.8M273.3 299.6h.8M266.7 309.8h.8M273.2 309.4h.8M280.3 300.4h.8M276.9 300.7h.8M267.3 311.2h.8M267.8 315.2h.8M275.7 306.7h.8M267.3 304.8h.8M272.6 307.1h.8M270.9 305.3h.8M272.7 304.8h.8M276.5 297.7h.8M263.0 313.6h.8M271.3 301.6h.8M273.2 306.4h.8M274.6 304.8h.8M267.0 305.6h.8M276.2 301.2h.8M269.3 313.6h.8M271.2 297.4h.8M284.1 296.0h.8M267.3 313.4h.8M276.1 306.6h.8M270.0 302.3h.8M271.2 305.3h.8M273.6 304.0h.8M273.1 301.0h.8M269.5 306.6h.8M271.6 300.7h.8M276.6 310.0h.8M266.6 314.2h.8M274.7 307.0h.8M273.3 305.8h.8M275.0 304.9h.8M267.2 309.8h.8M282.9 301.2h.8M267.4 306.9h.8M273.7 308.1h.8M275.6 300.9h.8M262.3 314.4h.8M267.5 314.0h.8M280.2 301.1h.8M276.2 304.3h.8M282.4 300.5h.8M277.0 297.8h.8M270.4 307.4h.8M262.6 313.4h.8M272.5 305.4h.8M283.2 295.5h.8M271.6 306.0h.8M268.8 304.1h.8M277.5 301.3h.8M274.3 304.2h.8M266.6 305.4h.8M272.3 307.6h.8M273.3 307.3h.8M268.7 307.9h.8M273.1 304.7h.8M275.8 307.5h.8M271.1 307.3h.8M270.7 309.0h.8M272.4 303.2h.8M266.3 307.0h.8M271.7 306.8h.8M270.3 307.1h.8M277.1 309.4h.8M281.6 305.4h.8M273.6 305.4h.8M281.7 298.8h.8M274.6 302.0h.8M271.6 309.0h.8M268.9 306.5h.8M266.7 311.7h.8M273.1 306.9h.8M266.8 306.4h.8M277.4 301.3h.8M274.1 300.3h.8M262.8 305.6h.8M275.6 306.2h.8M281.3 303.8h.8M262.9 310.3h.8M269.0 306.0h.8M270.4 304.8h.8M266.2 311.0h.8M271.9 303.6h.8M270.6 302.9h.8M270.6 306.1h.8M270.5 307.1h.8M264.9 307.8h.8M270.2 310.0h.8M267.0 307.3h.8M280.8 297.5h.8M269.5 305.3h.8M279.9 300.9h.8M276.4 307.5h.8M264.7 306.8h.8M278.1 302.1h.8M271.7 309.0h.8M275.4 309.5h.8M267.7 311.0h.8M278.3 303.5h.8M270.4 306.1h.8M271.9 308.5h.8M270.6 306.8h.8M276.9 301.4h.8M273.5 304.3h.8M269.0 301.3h.8M269.1 309.8h.8M268.8 306.8h.8M276.6 309.6h.8M267.7 306.6h.8M265.6 313.2h.8M271.0 304.1h.8M272.5 308.9h.8M277.6 302.3h.8M279.3 303.0h.8M271.9 308.8h.8M274.6 306.4h.8M277.4 308.5h.8M267.8 311.0h.8M271.8 314.0h.8M269.7 306.8h.8M272.4 305.5h.8M279.9 298.9h.8M275.5 306.6h.8M277.6 297.9h.8M271.7 301.8h.8M277.1 306.3h.8M269.9 307.0h.8M278.5 301.8h.8M275.3 301.6h.8M270.6 306.0h.8M276.9 296.7h.8M272.9 310.4h.8M270.5 303.7h.8M273.3 304.2h.8M272.9 306.9h.8M273.5 299.7h.8M276.0 307.6h.8M266.6 310.4h.8M268.7 311.2h.8M268.4 308.1h.8M271.6 307.9h.8M264.6 307.8h.8M275.7 307.4h.8M271.1 308.2h.8M273.9 304.7h.8M271.6 304.5h.8M273.5 308.7h.8M276.7 306.3h.8M269.6 308.5h.8M267.6 305.4h.8M276.0 301.6h.8M271.3 301.9h.8M271.3 306.2h.8M272.6 308.9h.8M274.8 304.0h.8M272.8 303.8h.8M269.0 307.7h.8M267.9 309.1h.8M274.0 308.1h.8M274.8 311.8h.8M270.5 307.7h.8M271.4 304.4h.8M269.4 302.4h.8M276.5 300.2h.8M269.4 302.2h.8M272.9 300.9h.8M276.7 298.4h.8M270.5 309.6h.8M274.8 296.9h.8M268.0 315.0h.8M271.9 300.9h.8M271.9 308.5h.8M273.4 309.9h.8M269.8 308.6h.8M280.1 304.0h.8M274.6 305.7h.8M271.0 306.7h.8M270.7 308.4h.8M274.5 300.4h.8M267.6 310.0h.8M281.6 298.4h.8M273.1 304.9h.8M264.1 310.5h.8M275.6 295.8h.8M278.3 296.4h.8M285.8 302.8h.8M278.8 299.6h.8M274.2 302.2h.8M271.0 307.6h.8M259.9 318.5h.8M269.4 304.6h.8M272.4 307.8h.8M269.8 309.1h.8M266.9 310.8h.8M268.9 311.4h.8M269.1 310.7h.8M264.2 313.4h.8M275.9 299.8h.8M271.3 303.7h.8M275.9 305.2h.8M279.8 303.7h.8M277.0 299.2h.8M274.0 306.1h.8M271.2 302.3h.8M285.6 302.8h.8M268.4 300.3h.8M280.1 298.3h.8M280.6 294.9h.8M276.2 305.1h.8M265.8 310.3h.8M275.8 304.9h.8M269.8 299.0h.8M262.9 315.3h.8M276.9 296.5h.8M275.8 305.8h.8M265.7 306.2h.8M273.0 303.7h.8M271.8 305.5h.8M272.6 306.6h.8M270.2 307.5h.8M268.6 306.0h.8M272.7 302.6h.8M274.8 303.5h.8M278.2 302.6h.8M263.8 313.1h.8M275.6 303.2h.8M274.6 307.5h.8M273.2 300.4h.8M274.7 307.1h.8M271.0 302.5h.8M276.9 303.7h.8M277.8 301.5h.8M274.5 306.8h.8M270.7 313.0h.8M274.7 304.4h.8M277.2 304.2h.8M264.6 315.7h.8M270.7 304.4h.8M278.0 303.9h.8M273.1 302.9h.8M271.4 303.3h.8M282.3 294.7h.8M279.1 305.4h.8M267.9 307.8h.8M262.4 313.6h.8M267.1 310.9h.8M271.6 306.4h.8M271.9 304.5h.8M272.9 305.0h.8M268.9 307.6h.8M267.9 305.2h.8M269.3 302.0h.8M274.8 303.5h.8M275.2 307.2h.8M275.9 301.1h.8M276.1 306.5h.8M272.5 306.9h.8M272.6 301.9h.8M273.1 303.7h.8M272.1 307.4h.8M273.8 301.3h.8M271.1 306.1h.8M269.1 309.9h.8M270.5 304.9h.8M276.5 301.8h.8M267.4 309.8h.8M272.2 306.8h.8M283.2 298.1h.8M278.5 299.7h.8M275.4 304.7h.8M272.5 306.4h.8M271.8 308.6h.8M271.5 312.3h.8M254.1 316.9h.8M272.6 306.7h.8M270.4 301.9h.8M272.9 302.2h.8M272.7 304.0h.8M268.8 303.6h.8M265.9 309.4h.8M268.4 310.1h.8M266.9 311.3h.8M273.7 302.0h.8M267.8 308.5h.8M278.3 305.3h.8M282.0 297.5h.8M275.5 303.6h.8M270.6 303.5h.8M272.9 309.0h.8M277.5 299.1h.8M268.8 315.3h.8M273.4 306.3h.8M268.7 302.7h.8M272.2 302.5h.8M270.2 305.4h.8M275.5 311.2h.8M275.7 296.0h.8M265.0 310.4h.8M271.0 309.6h.8M278.0 298.2h.8M274.6 303.0h.8M266.0 315.3h.8M278.7 297.3h.8M274.4 302.2h.8M271.3 305.0h.8M272.0 306.2h.8M270.4 308.4h.8M268.3 312.0h.8M265.2 305.6h.8M275.5 301.7h.8M271.8 309.3h.8M275.7 309.4h.8M271.9 301.2h.8M269.2 306.2h.8M274.1 309.9h.8M287.2 298.6h.8M275.4 304.9h.8M269.5 300.6h.8M281.9 304.1h.8M270.2 307.5h.8M269.1 307.8h.8M266.9 306.6h.8M274.4 297.2h.8M275.0 299.4h.8M268.0 302.6h.8M273.6 301.1h.8M281.7 294.3h.8M274.7 305.9h.8M266.9 307.6h.8M268.9 310.7h.8M275.5 306.4h.8M264.7 309.2h.8M271.3 305.1h.8M275.8 306.5h.8M271.7 303.5h.8M271.1 304.3h.8M272.9 311.6h.8M278.6 306.5h.8M271.5 306.2h.8M267.5 310.8h.8M276.9 304.1h.8M267.7 310.2h.8M275.7 301.1h.8M272.3 304.5h.8M268.5 307.3h.8M260.3 312.9h.8M270.2 307.4h.8M268.5 307.3h.8M274.1 304.7h.8M270.8 305.9h.8M276.5 303.1h.8M277.9 313.9h.8M268.2 302.4h.8M267.4 312.9h.8M259.5 310.3h.8M265.4 304.8h.8M276.7 305.7h.8M271.5 314.1h.8M263.5 308.4h.8M274.7 305.2h.8M271.5 313.2h.8M271.0 311.6h.8M274.1 311.6h.8M271.6 305.2h.8M276.8 301.4h.8M275.7 297.7h.8M264.6 302.0h.8M276.1 310.9h.8M269.2 312.2h.8M272.6 314.4h.8M272.7 308.7h.8M271.8 299.7h.8M273.9 306.4h.8M276.8 303.5h.8M273.0 306.2h.8M263.7 311.8h.8M265.7 305.8h.8M268.6 307.8h.8M278.8 300.4h.8M270.9 308.8h.8M269.5 301.1h.8M265.2 321.4h.8M263.5 309.9h.8M276.8 304.9h.8M267.8 314.8h.8M268.4 318.8h.8M269.3 311.4h.8M274.9 314.9h.8M264.9 312.9h.8M275.8 293.6h.8M268.3 312.0h.8M270.1 311.3h.8M273.1 300.6h.8M270.1 315.8h.8M273.2 292.5h.8M275.4 309.7h.8M264.4 309.3h.8M263.8 313.3h.8M266.0 316.1h.8M267.9 313.6h.8M264.3 318.5h.8M275.9 309.0h.8M277.3 314.8h.8M275.2 305.0h.8M277.4 301.0h.8M275.1 313.3h.8M267.7 311.0h.8M271.8 308.5h.8M271.5 313.1h.8M280.2 298.5h.8M261.4 313.9h.8M259.7 311.1h.8M267.5 316.7h.8M272.7 310.5h.8M272.1 312.6h.8M271.3 314.7h.8M275.2 305.9h.8M259.8 312.0h.8M268.8 304.7h.8M268.8 309.2h.8M275.4 301.0h.8M269.6 307.0h.8M267.4 313.6h.8M271.4 300.5h.8M283.5 309.3h.8M272.2 309.9h.8M263.7 312.3h.8M271.5 307.4h.8M274.9 300.4h.8M270.2 311.7h.8M269.1 308.6h.8M270.5 310.7h.8M266.9 325.2h.8M271.2 302.6h.8M262.6 309.5h.8M267.6 301.5h.8M281.3 296.8h.8M268.2 321.3h.8M271.3 310.5h.8M268.5 309.0h.8M275.6 294.2h.8M269.5 305.6h.8M268.2 310.3h.8M262.3 318.8h.8M272.6 309.8h.8M268.9 313.8h.8M269.7 313.3h.8M278.6 305.1h.8M262.9 315.4h.8M269.8 319.3h.8M267.9 304.3h.8M265.7 319.6h.8M266.0 314.6h.8M268.1 310.0h.8M267.9 310.9h.8M276.1 299.4h.8M274.0 308.2h.8M263.9 308.6h.8M267.0 314.6h.8M273.6 311.4h.8M272.3 307.8h.8M270.8 309.6h.8M272.1 310.8h.8M268.4 315.9h.8M278.2 301.7h.8M270.0 303.0h.8M267.0 304.2h.8M275.3 304.9h.8M278.5 307.7h.8M268.4 314.6h.8M283.7 309.0h.8M271.0 311.1h.8M268.5 313.7h.8M276.9 310.8h.8M269.5 309.8h.8M272.3 306.3h.8M275.1 293.4h.8M260.1 314.9h.8M273.7 306.1h.8M268.5 302.6h.8M274.6 308.1h.8M280.6 304.4h.8M265.1 309.4h.8M263.1 312.4h.8M272.8 313.2h.8M278.8 302.1h.8M272.8 305.9h.8M264.9 316.2h.8M262.3 307.3h.8M269.6 317.1h.8M267.7 318.1h.8M263.0 314.7h.8M271.7 305.6h.8M265.2 313.2h.8M280.4 303.7h.8M272.6 309.8h.8M279.6 307.8h.8M266.5 307.5h.8M265.3 313.4h.8M268.6 310.3h.8M273.3 319.1h.8M270.2 316.3h.8M263.8 310.3h.8M261.4 310.8h.8M259.7 313.6h.8M270.7 312.1h.8M262.1 318.0h.8M269.5 309.5h.8M260.3 319.8h.8M276.5 309.5h.8M271.8 314.0h.8M268.2 305.9h.8M275.3 309.7h.8M271.3 307.9h.8M270.6 312.1h.8M261.6 317.7h.8M262.2 313.0h.8M274.3 311.8h.8M267.8 306.3h.8M285.0 298.1h.8M256.0 320.4h.8M264.8 310.4h.8M281.0 310.8h.8M267.3 304.5h.8M274.9 305.5h.8M268.6 311.4h.8M264.7 314.6h.8M275.0 311.0h.8M278.9 298.4h.8M270.1 305.0h.8M273.7 311.9h.8M272.7 305.3h.8M281.7 303.8h.8M276.7 303.9h.8M276.7 302.7h.8M274.8 305.3h.8M266.2 304.4h.8M276.7 306.4h.8M267.1 311.9h.8M274.9 308.3h.8M263.2 322.5h.8M269.6 319.2h.8M276.4 304.4h.8M271.9 308.9h.8M271.9 315.3h.8M265.3 310.3h.8M264.9 305.3h.8M272.6 300.9h.8M280.4 305.2h.8M279.2 298.4h.8M267.5 309.0h.8M272.0 302.8h.8M262.6 303.5h.8M270.9 309.4h.8M278.4 297.8h.8M276.6 306.5h.8M272.0 301.8h.8M250.8 322.8h.8M275.6 305.3h.8M283.2 309.1h.8M265.5 310.8h.8M273.9 297.2h.8M257.7 320.8h.8M275.7 312.1h.8M273.9 305.6h.8M262.5 306.0h.8M271.4 304.8h.8M269.0 311.7h.8M259.3 317.7h.8M272.0 317.7h.8M272.4 312.9h.8M261.0 308.6h.8M273.9 304.0h.8M265.8 318.2h.8M268.4 301.5h.8M274.0 316.1h.8M267.3 304.4h.8M269.3 316.9h.8M279.8 304.4h.8M264.3 318.2h.8M264.5 311.1h.8M270.3 314.5h.8M274.3 308.5h.8M266.5 309.4h.8M274.3 302.3h.8M270.1 311.9h.8M271.8 312.8h.8M274.8 308.4h.8M281.0 297.0h.8M277.9 295.7h.8M259.6 304.9h.8M264.6 309.5h.8M277.2 309.7h.8M281.1 297.0h.8M275.3 303.6h.8M249.6 304.5h.8M263.3 304.6h.8M272.4 302.2h.8M271.9 304.0h.8M270.3 303.9h.8M277.0 312.8h.8M268.6 303.1h.8M266.4 312.9h.8M271.3 301.6h.8M261.1 308.1h.8M280.3 302.0h.8M270.8 306.2h.8M281.9 302.2h.8M272.8 313.2h.8M272.6 305.5h.8M268.2 310.6h.8M273.8 298.4h.8M263.1 318.5h.8M279.6 308.7h.8M269.3 301.8h.8M275.0 305.8h.8M260.6 308.5h.8M262.1 316.1h.8M264.2 315.8h.8M271.0 311.7h.8M272.4 302.2h.8M270.1 312.9h.8M269.4 315.0h.8M275.7 309.1h.8M269.0 314.1h.8M269.6 310.6h.8M272.1 304.4h.8M263.7 301.8h.8M268.1 314.0h.8M258.9 307.3h.8M261.8 314.4h.8M275.1 307.6h.8M263.7 316.6h.8M266.5 317.8h.8M270.6 305.2h.8M267.5 310.8h.8M270.1 315.2h.8M270.3 305.8h.8M268.9 302.7h.8M270.1 307.2h.8M267.0 311.3h.8M267.5 303.4h.8M279.8 316.5h.8M272.8 303.6h.8M276.4 312.5h.8M268.8 318.9h.8M273.2 316.4h.8M268.5 315.9h.8M270.4 315.4h.8M275.7 306.1h.8M268.5 315.9h.8M269.3 303.9h.8M272.6 306.0h.8M266.9 306.4h.8M273.5 310.7h.8M267.9 315.2h.8M260.9 317.3h.8M269.0 304.8h.8M267.5 304.2h.8M280.9 302.0h.8M273.4 301.3h.8M258.2 318.6h.8M276.7 302.6h.8M277.2 305.1h.8M274.6 310.8h.8M266.0 310.3h.8M277.0 305.6h.8M264.5 307.9h.8M269.3 292.4h.8M274.5 304.5h.8M264.5 315.9h.8M278.6 314.0h.8M265.0 299.8h.8M267.3 315.4h.8M267.5 310.9h.8M273.5 313.8h.8M271.4 307.1h.8M269.5 314.9h.8M267.7 313.3h.8M274.2 309.5h.8M274.9 306.4h.8M282.3 302.9h.8M263.9 309.4h.8M270.1 316.1h.8M268.6 318.6h.8M270.8 305.3h.8M264.8 312.9h.8M273.8 305.5h.8M274.2 306.4h.8M275.8 301.6h.8M266.5 306.0h.8M265.9 307.2h.8M261.8 314.8h.8M270.5 308.3h.8M259.4 313.4h.8M268.7 325.4h.8M268.5 320.9h.8M262.3 323.1h.8M261.7 320.6h.8M268.9 320.4h.8M273.4 308.7h.8M257.6 328.1h.8M263.4 319.1h.8M263.5 321.6h.8M265.7 324.2h.8M271.9 333.3h.8M254.6 321.3h.8M261.6 323.3h.8M260.9 322.4h.8M268.2 321.7h.8M268.0 326.0h.8M260.7 321.7h.8M272.6 327.7h.8M272.2 316.9h.8M262.9 328.0h.8M266.6 323.8h.8M264.6 327.6h.8M267.6 315.9h.8M268.7 319.9h.8M265.1 325.4h.8M267.5 318.5h.8M260.0 319.3h.8M265.9 314.7h.8M263.1 336.2h.8M263.0 322.4h.8M259.7 320.0h.8M268.0 323.0h.8M257.1 322.2h.8M261.1 328.6h.8M266.1 331.6h.8M268.7 314.9h.8M272.0 319.0h.8M266.0 322.6h.8M259.3 329.1h.8M267.5 315.7h.8M258.9 324.8h.8M273.5 324.5h.8M268.4 319.4h.8M272.8 325.3h.8M262.1 318.3h.8M254.4 329.0h.8M283.5 321.3h.8M269.1 326.6h.8M265.4 335.0h.8M260.9 316.9h.8M275.7 327.6h.8M270.9 321.4h.8M266.4 322.9h.8M269.0 318.3h.8M272.5 332.6h.8M263.6 316.2h.8M267.3 337.0h.8M261.2 330.2h.8M262.8 317.4h.8M272.7 321.0h.8M266.4 326.3h.8M273.0 323.5h.8M275.4 317.9h.8M263.7 326.2h.8M270.3 311.5h.8M264.9 326.2h.8M265.7 332.9h.8M257.7 323.3h.8M261.9 312.4h.8M265.3 321.7h.8M264.3 318.2h.8M271.5 315.7h.8M263.1 313.5h.8M273.2 313.1h.8M276.3 316.5h.8M266.3 331.9h.8M260.6 330.0h.8M259.3 319.2h.8M269.8 324.1h.8M268.5 324.0h.8M275.5 312.3h.8M262.7 327.4h.8M258.3 317.9h.8M280.4 330.2h.8M269.5 322.6h.8M265.7 316.7h.8M261.7 316.1h.8M259.4 322.9h.8M269.0 316.4h.8M267.4 314.0h.8M268.7 320.1h.8M266.2 323.3h.8M274.0 323.4h.8M262.9 323.0h.8M268.8 325.3h.8M272.6 317.1h.8M259.9 325.9h.8M260.2 324.8h.8M282.0 329.7h.8M258.3 317.1h.8M268.8 320.4h.8M270.6 323.6h.8M268.5 325.5h.8M257.8 329.0h.8M258.6 316.7h.8M252.9 322.1h.8M268.9 319.8h.8M259.8 308.9h.8M269.8 315.1h.8M264.5 323.6h.8M266.2 324.6h.8M276.0 326.4h.8M260.9 321.9h.8M265.3 316.9h.8M270.3 319.8h.8M268.0 326.0h.8M278.5 318.4h.8M270.7 335.2h.8M253.9 307.1h.8M237.4 306.8h.8M238.2 305.8h.8M246.3 305.8h.8M242.9 306.8h.8M240.8 307.1h.8M241.4 307.4h.8M236.9 306.7h.8M254.6 305.1h.8M236.9 308.3h.8M244.9 306.8h.8M244.0 305.8h.8M238.9 307.5h.8M243.9 307.7h.8M245.8 310.6h.8M243.3 309.1h.8M243.7 310.7h.8M249.6 305.2h.8M253.9 305.5h.8M249.9 305.2h.8M245.2 306.8h.8M252.8 302.6h.8M248.0 305.6h.8M243.3 303.4h.8M239.9 305.4h.8M249.0 307.0h.8M241.5 308.7h.8M238.0 308.0h.8M241.0 307.4h.8M240.5 309.1h.8M239.5 310.2h.8M248.3 305.1h.8M239.5 309.0h.8M253.2 304.4h.8M243.9 307.7h.8M259.7 307.8h.8M241.2 308.3h.8M243.2 305.0h.8M242.4 306.2h.8M241.1 306.7h.8M245.2 305.2h.8M247.5 303.7h.8M247.5 307.5h.8M245.7 303.9h.8M239.1 307.0h.8M246.0 308.0h.8M231.7 306.6h.8M250.4 304.5h.8M234.0 305.7h.8M240.7 306.1h.8M251.6 307.1h.8M243.4 308.2h.8M242.5 309.1h.8M243.7 305.7h.8M234.1 308.3h.8M241.7 303.4h.8M248.7 309.0h.8M247.4 309.7h.8M251.5 305.3h.8M246.0 308.0h.8M232.1 309.2h.8M246.2 308.1h.8M236.3 308.1h.8M242.3 306.1h.8M242.9 307.2h.8M231.8 306.6h.8M245.3 303.7h.8M254.9 311.3h.8M247.5 306.6h.8M235.2 304.6h.8M233.9 308.2h.8M236.4 307.0h.8M239.5 308.3h.8M251.8 308.3h.8M247.4 308.6h.8M254.9 305.0h.8M244.6 305.4h.8M243.0 306.2h.8M243.5 307.9h.8M233.3 301.9h.8M244.6 308.6h.8M239.8 309.3h.8M258.9 306.8h.8M241.1 307.6h.8M248.2 303.9h.8M246.3 302.9h.8M235.0 307.0h.8M244.9 304.5h.8M243.0 309.0h.8M251.8 304.2h.8M251.2 307.5h.8M240.4 306.7h.8M242.4 306.7h.8M241.2 305.3h.8M249.2 309.7h.8M241.3 309.2h.8M237.1 304.3h.8M247.2 307.1h.8M245.9 304.9h.8M239.8 308.5h.8M254.1 307.1h.8M245.4 301.9h.8M238.0 309.0h.8M256.4 305.1h.8M233.3 305.9h.8M238.3 306.0h.8M235.7 307.8h.8M244.8 304.3h.8M231.3 310.4h.8M246.7 307.0h.8M235.2 306.9h.8M245.0 305.3h.8M243.5 305.8h.8M238.1 305.7h.8M245.7 309.7h.8M240.9 310.6h.8M239.5 306.9h.8M241.0 303.6h.8M242.1 306.3h.8M236.6 308.0h.8M245.5 306.1h.8M236.3 307.2h.8M236.8 305.1h.8M239.0 308.4h.8M240.5 306.4h.8M240.2 307.7h.8M241.4 308.2h.8M241.4 308.2h.8M240.4 305.3h.8M245.5 306.3h.8M239.3 309.3h.8M239.0 305.2h.8M240.1 309.3h.8M232.9 308.8h.8M246.2 305.9h.8M240.1 305.3h.8M232.5 303.7h.8M239.3 307.7h.8M235.8 306.1h.8M236.9 306.3h.8M245.3 308.9h.8M246.7 307.3h.8M252.3 308.0h.8M245.9 307.7h.8M248.3 304.8h.8M236.1 306.8h.8M240.0 307.3h.8M247.3 309.1h.8M244.8 309.3h.8M237.9 307.4h.8M241.3 305.0h.8M244.1 308.4h.8M239.8 306.8h.8M250.1 306.3h.8M240.1 307.2h.8M245.5 307.4h.8M251.1 307.5h.8M233.7 303.7h.8M241.6 309.7h.8M242.6 305.9h.8M244.2 307.6h.8M251.2 304.3h.8M247.8 307.0h.8M248.1 308.7h.8M245.8 305.2h.8M241.4 308.6h.8M231.5 308.3h.8M247.9 309.9h.8M236.2 305.5h.8M249.4 306.2h.8M245.2 301.9h.8M259.3 303.3h.8M245.8 305.2h.8M243.9 305.0h.8M243.2 305.6h.8M234.9 308.0h.8M242.2 306.7h.8M233.4 305.4h.8M240.2 305.6h.8M244.7 306.7h.8M240.6 306.4h.8M245.1 308.5h.8M234.5 308.4h.8M248.6 308.1h.8M238.2 307.1h.8M257.2 304.2h.8M248.2 306.2h.8M254.1 306.9h.8M248.2 305.5h.8M238.6 309.6h.8M233.1 305.7h.8M240.4 304.4h.8M246.7 304.4h.8M242.5 306.2h.8M231.1 306.7h.8M248.0 307.2h.8M250.2 309.7h.8M247.4 306.3h.8M241.3 307.8h.8M233.3 304.8h.8M242.1 309.9h.8M234.2 307.1h.8M237.1 308.0h.8M244.7 306.6h.8M248.7 306.2h.8M241.4 307.2h.8M247.8 305.2h.8M238.8 305.3h.8M246.3 307.4h.8M243.6 304.3h.8M236.3 304.0h.8M232.4 305.3h.8M244.3 307.6h.8M244.7 309.6h.8M248.3 303.9h.8M245.7 307.1h.8M244.5 305.3h.8M252.4 306.8h.8M238.0 303.3h.8M240.3 304.1h.8M231.6 309.7h.8M241.7 308.5h.8M250.1 308.0h.8M239.1 304.5h.8M241.0 306.9h.8M241.1 306.1h.8M243.2 304.0h.8M249.7 304.5h.8M243.0 305.0h.8M251.9 305.6h.8M235.6 306.0h.8M248.5 304.4h.8M232.9 305.7h.8M247.6 301.2h.8M248.8 310.8h.8M240.9 308.4h.8M241.3 303.2h.8M239.1 307.8h.8M234.2 306.1h.8M237.4 307.4h.8M260.0 306.8h.8M232.9 309.7h.8M240.1 305.9h.8M245.8 308.1h.8M243.8 307.3h.8M243.5 304.4h.8M247.8 308.3h.8M236.5 303.4h.8M237.8 307.0h.8M252.3 307.1h.8M242.6 307.1h.8M231.2 306.0h.8M243.2 307.9h.8M248.1 309.7h.8M237.2 305.8h.8M238.9 307.6h.8M256.6 307.0h.8M243.4 304.9h.8M233.0 310.0h.8M241.6 309.3h.8M248.1 305.7h.8M244.0 305.0h.8M246.8 306.4h.8M247.9 309.0h.8M237.9 308.1h.8M245.3 305.7h.8M244.2 309.0h.8M243.4 308.5h.8M244.7 309.0h.8M241.3 306.0h.8M246.8 302.4h.8M238.5 309.5h.8M236.8 310.1h.8M253.9 305.7h.8M236.8 307.4h.8M248.8 309.9h.8M253.3 305.3h.8M248.5 305.7h.8M250.0 307.5h.8M252.7 306.5h.8M248.2 304.3h.8M235.2 307.6h.8M243.0 308.3h.8M259.0 305.5h.8M233.7 304.7h.8M237.8 308.8h.8M245.0 306.1h.8M247.2 306.3h.8M244.1 306.6h.8M232.4 308.2h.8M243.6 310.8h.8M243.0 305.5h.8M243.6 305.3h.8M242.0 305.9h.8M244.7 304.9h.8M241.5 305.9h.8M235.2 306.5h.8M247.4 308.0h.8M244.6 306.4h.8M249.3 306.1h.8M247.2 303.4h.8M233.6 305.3h.8M250.6 306.1h.8M245.7 304.6h.8M231.3 311.9h.8M254.4 309.9h.8M242.4 305.4h.8M244.2 306.2h.8M238.9 302.0h.8M244.0 302.5h.8M238.6 303.7h.8M257.0 304.2h.8M239.5 307.3h.8M240.0 307.1h.8M249.2 305.4h.8M246.2 306.4h.8M232.8 307.2h.8M234.5 308.6h.8M242.4 306.9h.8M249.7 305.1h.8M236.6 309.3h.8M247.7 307.4h.8M235.4 305.5h.8M239.2 307.3h.8M238.7 306.3h.8M243.0 309.1h.8M238.1 306.8h.8M262.7 306.5h.8M248.5 304.4h.8M234.6 305.8h.8M265.1 305.4h.8M252.8 305.7h.8M233.2 303.1h.8M243.6 308.6h.8M236.6 305.8h.8M234.2 305.2h.8M250.0 305.6h.8M234.7 307.7h.8M244.4 306.5h.8M257.8 307.2h.8M251.1 304.3h.8M242.0 309.0h.8M248.1 308.3h.8M231.5 306.1h.8M255.0 309.3h.8M252.7 308.1h.8M252.4 301.3h.8M243.2 308.1h.8M251.7 304.8h.8M250.4 308.1h.8M238.6 309.6h.8M252.1 308.3h.8M239.0 307.1h.8M242.3 309.7h.8M261.0 305.0h.8M257.6 307.4h.8M237.4 305.2h.8M255.4 312.7h.8M239.8 310.3h.8M241.8 310.6h.8M257.3 308.0h.8M242.3 296.9h.8M248.1 315.7h.8M259.1 308.3h.8M242.4 309.3h.8M235.7 311.2h.8M239.0 310.1h.8M245.6 314.8h.8M245.0 322.5h.8M246.9 313.7h.8M248.3 310.7h.8M251.4 311.9h.8M235.0 308.7h.8M255.1 303.6h.8M257.1 311.7h.8M246.4 317.1h.8M246.2 309.0h.8M236.2 314.5h.8M245.3 306.7h.8M253.0 315.4h.8M260.5 312.4h.8M235.8 311.7h.8M250.0 315.3h.8M235.1 313.4h.8M249.4 313.0h.8M233.0 309.0h.8M243.7 310.1h.8M251.1 309.3h.8M231.4 301.2h.8M248.0 307.4h.8M244.3 316.4h.8M240.8 311.0h.8M234.2 305.5h.8M248.8 316.6h.8M239.9 310.3h.8M247.0 309.1h.8M245.1 309.3h.8M248.9 308.7h.8M241.2 304.7h.8M239.1 304.1h.8M243.6 315.8h.8M235.4 307.1h.8M239.1 313.3h.8M242.4 309.6h.8M237.7 309.9h.8M242.1 307.3h.8M254.7 313.4h.8M243.5 312.6h.8M261.1 314.0h.8M240.8 311.0h.8M252.8 313.2h.8M242.6 311.6h.8M236.6 309.6h.8M241.7 310.0h.8M254.4 311.2h.8M253.0 311.1h.8M233.8 316.8h.8M240.7 310.5h.8M252.5 317.6h.8M245.8 317.0h.8M241.1 314.1h.8M238.1 315.6h.8M240.6 314.1h.8M236.0 317.8h.8M256.3 309.9h.8M245.1 306.6h.8M243.2 304.3h.8M249.8 310.7h.8M253.0 311.1h.8M243.0 307.2h.8M249.2 310.5h.8M236.0 304.1h.8M251.5 310.6h.8M244.1 308.5h.8M240.8 311.0h.8M246.0 305.5h.8M262.4 315.3h.8M252.7 308.0h.8M234.8 313.6h.8M240.2 311.0h.8M256.5 311.1h.8M254.2 307.4h.8M231.5 309.3h.8M241.8 314.2h.8M247.8 301.9h.8M236.6 309.0h.8M239.4 308.1h.8M242.2 311.8h.8M233.8 306.7h.8M238.1 316.6h.8M243.4 304.2h.8M248.1 315.3h.8M233.0 305.4h.8M247.8 311.3h.8M249.0 318.5h.8M249.4 315.6h.8M241.1 317.5h.8M239.6 312.6h.8M250.2 306.8h.8M241.2 301.0h.8M242.1 305.0h.8M245.0 308.8h.8M239.7 309.5h.8M241.6 311.0h.8M242.7 316.3h.8M252.2 299.4h.8M254.2 310.0h.8M247.2 306.8h.8M249.0 313.7h.8M240.6 305.8h.8M248.3 313.1h.8M238.1 301.1h.8M236.6 312.8h.8M253.7 306.5h.8M240.9 336.7h.8M246.1 340.3h.8M253.6 357.2h.8M243.0 345.0h.8M249.8 345.1h.8M242.0 351.3h.8M250.0 367.5h.8M242.2 335.0h.8M239.0 347.9h.8M247.7 317.8h.8M247.8 354.9h.8M245.3 331.8h.8M244.7 343.6h.8M238.9 357.3h.8M251.1 352.2h.8M247.4 362.1h.8M244.4 344.8h.8M252.5 342.3h.8M242.5 354.0h.8M241.9 338.2h.8M250.3 349.7h.8M240.3 342.9h.8M247.5 359.9h.8M245.3 364.0h.8M244.1 369.3h.8M249.3 335.9h.8M243.7 353.9h.8M244.1 337.9h.8M246.9 349.1h.8M236.0 334.3h.8M242.1 361.2h.8M244.0 352.1h.8M249.5 347.2h.8M244.3 349.0h.8M249.3 341.9h.8M246.4 341.1h.8M244.7 363.3h.8M239.9 355.7h.8M244.7 352.6h.8M247.2 350.8h.8M247.0 371.8h.8M240.5 336.8h.8M248.4 354.6h.8M255.2 342.3h.8M248.3 343.2h.8M241.6 342.6h.8M239.9 338.4h.8M242.5 347.9h.8M244.6 359.7h.8M239.4 348.8h.8M239.5 359.9h.8M239.3 345.6h.8M240.0 362.9h.8M237.7 336.0h.8M242.2 345.6h.8M239.3 363.5h.8M241.3 324.6h.8M243.2 333.9h.8M240.8 343.9h.8M239.4 344.8h.8M242.2 357.4h.8M258.0 341.5h.8M241.8 363.5h.8M253.5 359.3h.8M242.9 373.3h.8M244.8 364.3h.8M241.4 335.0h.8M251.6 339.2h.8M238.7 351.5h.8M239.3 358.0h.8M244.7 347.4h.8M241.3 367.5h.8M251.7 363.6h.8M237.2 369.9h.8M244.9 370.6h.8M247.2 341.7h.8M235.4 341.8h.8M250.8 344.4h.8M253.2 334.4h.8M247.8 348.5h.8M236.8 354.5h.8M242.1 346.4h.8M233.1 337.8h.8M240.7 348.1h.8M242.1 352.4h.8M242.5 365.3h.8M247.4 362.0h.8M236.0 351.8h.8M243.5 357.6h.8M240.7 351.6h.8M239.0 345.6h.8M246.2 343.8h.8M239.7 348.2h.8M246.0 354.9h.8M237.9 344.7h.8M238.0 337.7h.8M257.1 364.6h.8M248.0 346.4h.8M248.9 368.7h.8M250.9 358.7h.8M248.3 360.4h.8M246.1 354.5h.8M242.1 329.4h.8M246.8 358.1h.8M244.1 359.2h.8M243.4 348.9h.8M247.6 329.3h.8M251.8 345.3h.8M247.2 357.3h.8M252.8 370.4h.8M237.2 338.3h.8M245.1 330.1h.8M247.5 348.5h.8M240.0 360.2h.8M239.1 340.9h.8M244.1 360.4h.8M243.1 345.8h.8M245.2 345.5h.8M234.1 361.1h.8M246.7 363.3h.8M244.8 355.7h.8M235.1 333.4h.8M233.7 364.2h.8M240.3 366.1h.8M246.4 344.5h.8M243.6 340.3h.8M241.7 354.1h.8M247.7 344.0h.8M235.5 363.7h.8M238.1 358.7h.8M235.8 338.9h.8M233.3 357.9h.8M254.2 351.5h.8M232.9 347.2h.8M245.4 354.4h.8M244.8 337.7h.8M242.3 372.9h.8M241.0 345.2h.8M237.5 342.4h.8M250.5 354.4h.8M241.2 345.5h.8M248.4 343.0h.8M239.6 346.1h.8M239.6 359.1h.8M243.9 362.3h.8M246.9 347.4h.8M245.6 324.8h.8M237.8 325.1h.8M245.8 332.2h.8M235.5 354.5h.8M247.3 347.5h.8M251.8 352.9h.8M254.9 360.2h.8M255.1 317.9h.8M248.0 359.4h.8M252.0 357.2h.8M246.1 353.8h.8M245.0 356.8h.8M252.6 330.5h.8M241.5 332.3h.8M240.7 353.3h.8M244.9 354.6h.8M247.9 355.2h.8M239.1 369.2h.8M236.0 368.4h.8M240.0 370.4h.8M233.9 372.2h.8M240.1 365.7h.8M239.8 370.9h.8M240.8 368.5h.8M236.7 370.0h.8M241.1 370.2h.8M238.8 372.5h.8M232.9 369.5h.8M233.7 364.8h.8M241.1 371.5h.8M239.2 370.6h.8M239.7 372.3h.8M237.9 370.8h.8M241.8 365.7h.8M245.2 368.1h.8M235.7 367.9h.8M243.9 368.5h.8M243.6 367.2h.8M241.5 365.3h.8M239.2 372.6h.8M238.2 369.9h.8M232.9 373.5h.8M239.4 370.6h.8M238.8 367.0h.8M238.9 368.7h.8M236.1 369.1h.8M236.3 368.3h.8M241.6 370.0h.8M239.4 370.5h.8M247.4 370.3h.8M240.8 369.3h.8M241.7 371.0h.8M244.3 370.6h.8M237.8 369.2h.8M237.2 372.7h.8M237.5 365.6h.8M239.4 367.4h.8M241.1 369.8h.8M236.8 365.8h.8M238.9 366.4h.8M239.5 369.9h.8M238.7 369.9h.8M238.6 373.4h.8M233.0 366.9h.8M244.9 366.5h.8M242.8 369.0h.8M240.3 366.1h.8M238.6 369.1h.8M231.5 369.5h.8M238.4 364.1h.8M240.9 368.6h.8M234.0 372.2h.8M239.7 366.8h.8M236.6 370.2h.8M237.9 371.2h.8M235.1 370.1h.8M242.1 370.7h.8M236.9 367.2h.8M235.5 369.7h.8M239.1 372.3h.8M238.9 372.6h.8M239.1 371.9h.8M244.3 370.2h.8M235.0 370.5h.8M240.8 368.7h.8M239.2 371.1h.8M231.7 370.8h.8M246.7 367.9h.8M245.1 368.4h.8M238.9 368.6h.8M240.1 367.6h.8M237.7 368.9h.8M236.4 369.3h.8M244.3 367.5h.8M240.9 367.7h.8M235.5 369.4h.8M239.0 371.8h.8M243.0 369.7h.8M237.5 372.7h.8M234.8 367.6h.8M243.1 370.4h.8M242.6 368.9h.8M243.1 372.2h.8M232.3 370.7h.8M244.1 367.0h.8M236.3 370.3h.8M242.6 369.4h.8M233.5 369.9h.8M239.7 368.6h.8M244.3 364.4h.8M240.5 368.0h.8M242.5 368.7h.8M247.1 369.9h.8M238.0 365.6h.8M239.0 369.3h.8M246.5 370.3h.8M240.9 367.3h.8M241.0 367.2h.8M234.4 370.5h.8M238.3 366.3h.8M244.7 372.3h.8M241.9 365.6h.8M236.7 367.2h.8M243.8 369.2h.8M236.7 366.2h.8M237.2 369.8h.8M239.1 370.6h.8M242.3 366.8h.8M243.5 369.5h.8M246.6 369.1h.8M238.7 369.2h.8M245.1 370.6h.8M244.9 371.9h.8M239.8 368.9h.8M244.7 366.7h.8M241.5 371.8h.8M236.6 365.0h.8M234.4 372.1h.8M250.3 367.3h.8M234.9 366.5h.8M246.5 371.2h.8M242.9 367.7h.8M242.9 367.7h.8M242.5 367.6h.8M235.1 368.4h.8M241.9 370.2h.8M238.0 371.6h.8M233.7 364.8h.8M242.6 369.1h.8M240.1 368.3h.8M242.4 369.9h.8M245.8 367.2h.8M235.1 369.1h.8M239.2 368.7h.8M231.5 370.3h.8M247.1 370.3h.8M245.3 370.8h.8M241.3 370.3h.8M244.7 370.5h.8M242.9 369.3h.8M237.3 370.2h.8M238.6 370.8h.8M231.2 373.6h.8M245.6 373.0h.8M241.9 366.9h.8M238.7 366.7h.8M242.0 369.5h.8M241.0 365.1h.8M234.2 364.2h.8M246.1 370.6h.8M240.6 368.6h.8M233.0 368.5h.8M238.6 367.4h.8M244.4 364.6h.8M241.0 371.3h.8M243.7 365.9h.8M246.2 369.0h.8M239.3 370.2h.8M244.8 369.7h.8M239.0 369.9h.8M242.0 374.2h.8M240.5 367.2h.8M248.3 372.9h.8M246.5 367.2h.8M238.0 366.2h.8M239.9 372.5h.8M244.3 369.5h.8M241.4 370.6h.8M239.9 366.9h.8M237.6 373.3h.8M236.6 366.7h.8M242.8 368.6h.8M239.1 369.8h.8M239.9 365.5h.8M244.4 369.9h.8M247.6 371.4h.8M238.1 368.4h.8M237.6 364.2h.8M243.5 367.8h.8M244.6 369.8h.8M240.0 373.2h.8M236.6 373.6h.8M245.3 368.2h.8M247.8 370.4h.8M242.0 368.5h.8M240.3 368.5h.8M239.2 371.3h.8M243.9 372.4h.8M245.6 369.3h.8M243.7 368.8h.8M243.0 370.9h.8M242.2 367.6h.8M235.7 373.5h.8M237.3 368.0h.8M242.2 368.5h.8M242.4 372.7h.8M234.2 369.7h.8M243.1 366.1h.8M243.7 372.9h.8M240.8 370.6h.8M239.4 371.8h.8M238.5 369.5h.8M237.9 367.7h.8M245.4 369.3h.8M244.3 365.7h.8M235.7 367.3h.8M248.5 372.2h.8M249.9 368.4h.8M243.1 370.3h.8M239.6 370.9h.8M240.5 370.6h.8M233.3 367.0h.8M236.5 373.4h.8M244.3 367.2h.8M242.7 368.1h.8M236.0 367.3h.8M253.0 369.7h.8M240.3 372.4h.8M241.8 366.8h.8M243.9 367.5h.8M240.4 369.7h.8M240.7 368.1h.8M239.5 368.7h.8M245.5 370.0h.8M242.5 369.3h.8M233.4 370.8h.8M243.5 367.0h.8M236.0 368.1h.8M235.2 363.6h.8M239.0 368.1h.8M241.1 372.3h.8M236.9 365.8h.8M240.2 371.0h.8M246.6 371.7h.8M241.2 369.6h.8M233.5 371.1h.8M243.9 369.3h.8M239.4 370.4h.8M242.5 370.7h.8M242.4 365.9h.8M238.3 365.6h.8M237.4 369.1h.8M241.7 367.8h.8M247.7 369.9h.8M242.7 367.7h.8M316.4 337.3h.8M279.1 309.3h.8M310.6 339.2h.8M256.6 311.8h.8M257.4 313.3h.8M313.8 336.0h.8M286.4 351.1h.8M236.5 338.4h.8M300.2 290.9h.8M313.3 328.2h.8M232.5 372.0h.8M267.1 358.6h.8M317.6 286.6h.8M255.2 328.1h.8M257.4 348.2h.8M239.9 330.4h.8M241.1 355.6h.8M244.3 322.6h.8M252.4 327.1h.8M255.3 301.0h.8M233.3 348.8h.8M252.8 294.3h.8M239.4 351.5h.8M248.7 336.8h.8M247.8 363.6h.8M245.2 321.9h.8M236.1 318.2h.8M251.0 362.4h.8M239.9 309.8h.8M255.0 294.6h.8M240.5 324.4h.8M248.1 293.4h.8M247.7 293.2h.8M236.1 327.3h.8M249.8 306.3h.8M247.0 292.0h.8M234.8 315.9h.8M232.9 358.1h.8M245.1 359.9h.8M242.5 337.0h.8M231.7 368.8h.8M238.7 344.2h.8M251.8 324.4h.8M239.5 354.4h.8M250.7 366.8h.8M240.9 318.6h.8M243.4 340.2h.8M247.5 360.0h.8M246.4 311.3h.8M250.0 355.5h.8M251.5 298.4h.8M240.8 362.0h.8M240.6 303.5h.8M231.9 349.5h.8M231.7 319.2h.8M231.6 325.0h.8M231.2 350.4h.8M231.8 344.2h.8M231.4 339.8h.8M231.8 315.8h.8M231.3 368.3h.8M231.8 326.3h.8M231.1 294.0h.8M233.1 342.6h.8M232.0 283.9h.8M231.4 286.8h.8M231.6 308.8h.8M231.1 373.5h.8M231.0 320.5h.8M232.5 372.4h.8M231.1 285.6h.8M231.3 316.6h.8M231.4 318.1h.8M233.5 353.2h.8M231.5 309.3h.8M231.8 356.3h.8M231.8 305.3h.8M232.6 340.4h.8M231.4 335.0h.8M231.1 364.4h.8M231.2 327.8h.8M231.3 349.1h.8M231.9 354.8h.8M231.2 373.4h.8M232.0 289.3h.8M232.9 349.1h.8M232.5 330.7h.8M231.4 351.9h.8M231.1 314.4h.8M233.3 291.4h.8M232.2 326.1h.8M231.4 319.4h.8M232.2 350.7h.8M231.0 321.6h.8M232.6 371.3h.8M231.4 364.6h.8M231.6 323.9h.8M231.3 299.4h.8M231.5 286.8h.8M231.2 345.7h.8M232.0 365.8h.8M231.9 369.4h.8M233.4 362.4h.8M231.1 337.3h.8M231.3 316.9h.8M231.2 369.5h.8M231.0 309.2h.8M231.7 327.1h.8M232.5 353.7h.8M231.3 357.7h.8M231.4 373.1h.8M231.6 337.9h.8M232.2 292.4h.8M231.8 304.7h.8M231.3 368.1h.8M231.0 361.6h.8M231.7 332.1h.8M231.4 365.5h.8M231.4 321.6h.8M232.0 314.4h.8M231.9 315.8h.8M232.0 290.1h.8M231.8 365.7h.8M231.0 318.5h.8M231.9 326.9h.8M231.4 315.6h.8M231.2 332.7h.8M233.0 332.6h.8M231.2 344.2h.8M231.5 323.7h.8M231.8 302.6h.8M232.9 344.9h.8M232.7 294.2h.8M231.6 321.1h.8M231.9 355.3h.8M231.4 354.6h.8M232.5 344.3h.8M231.3 351.9h.8M231.4 338.8h.8M232.5 333.8h.8M232.8 373.3h.8M231.8 373.0h.8M232.7 298.9h.8M231.3 312.5h.8M232.1 336.9h.8M231.2 292.1h.8M231.2 293.5h.8M232.0 336.4h.8M232.5 298.4h.8M233.4 370.9h.8M232.6 295.9h.8M231.1 362.0h.8M231.4 313.0h.8M232.5 324.3h.8M232.6 312.4h.8M232.4 344.6h.8M231.5 345.3h.8M231.8 308.5h.8M231.5 297.7h.8M231.6 361.7h.8M231.5 362.3h.8M231.7 313.4h.8M231.6 365.5h.8M231.3 369.5h.8M231.4 308.3h.8M231.8 292.5h.8M231.2 312.6h.8M232.3 338.9h.8M232.5 331.6h.8M231.9 368.8h.8M231.3 319.3h.8M232.0 317.6h.8M231.8 312.3h.8M232.4 325.7h.8M231.5 367.5h.8M231.3 372.0h.8M231.6 293.7h.8M231.0 293.1h.8M231.8 369.6h.8M231.2 302.5h.8M231.9 348.6h.8M231.0 287.0h.8M231.8 315.6h.8M231.8 353.4h.8M231.2 326.3h.8M231.3 296.0h.8M232.2 347.9h.8M231.7 299.5h.8M231.1 336.1h.8M231.0 329.2h.8M231.5 300.4h.8M231.5 303.7h.8M232.1 366.0h.8M232.7 355.0h.8M231.5 306.8h.8M231.1 330.0h.8M231.8 350.5h.8M231.6 285.0h.8M231.5 356.2h.8M232.2 336.8h.8M231.6 322.6h.8M231.4 283.6h.8M231.9 304.7h.8M231.9 339.5h.8M231.1 297.3h.8M232.7 303.5h.8M232.5 373.3h.8M233.6 371.6h.8M231.0 366.6h.8M233.7 329.1h.8M231.1 357.5h.8M231.8 298.9h.8M232.7 361.6h.8M231.2 354.1h.8M232.5 313.2h.8M231.8 341.5h.8M233.1 345.6h.8M231.1 348.3h.8M232.0 336.9h.8M231.5 284.9h.8M231.2 327.2h.8M232.4 296.4h.8M233.8 372.5h.8M231.5 321.2h.8M233.7 356.3h.8M232.3 289.5h.8M231.6 295.7h.8M231.3 339.4h.8M231.2 369.9h.8M231.9 347.8h.8M232.0 355.2h.8M231.1 311.5h.8M231.5 340.7h.8M231.2 325.8h.8M231.9 314.6h.8M232.4 332.3h.8M232.9 356.3h.8M231.2 361.5h.8M233.1 293.6h.8M232.0 306.1h.8M231.1 284.2h.8M232.0 328.0h.8M232.6 341.4h.8M231.5 373.0h.8M231.0 368.8h.8M233.5 344.7h.8M231.9 321.6h.8M233.2 286.9h.8M233.0 321.5h.8M231.7 318.5h.8M232.4 288.5h.8M231.2 336.9h.8M231.2 368.4h.8M232.3 334.8h.8M233.2 334.0h.8M231.2 312.1h.8M231.1 326.0h.8M233.1 347.7h.8M231.5 314.2h.8M232.4 290.1h.8M231.1 330.8h.8M231.3 339.0h.8M232.0 359.9h.8M231.4 335.5h.8M233.4 293.6h.8M232.8 313.6h.8M232.0 372.0h.8M232.2 304.0h.8M231.6 336.9h.8M231.1 300.5h.8M232.2 367.6h.8M232.1 299.0h.8M231.6 333.4h.8M231.7 360.1h.8M233.2 294.6h.8M231.9 306.8h.8M232.1 294.6h.8M231.1 362.1h.8M231.2 296.0h.8M231.7 285.9h.8M231.4 354.8h.8M231.1 372.8h.8M232.2 367.4h.8M231.5 351.6h.8M231.3 284.1h.8M232.7 344.8h.8M231.5 294.8h.8M231.6 369.1h.8M232.6 322.7h.8M232.4 322.0h.8M232.5 344.6h.8M231.0 334.9h.8M231.7 356.9h.8M231.8 314.2h.8M231.1 325.4h.8M231.0 343.6h.8M231.1 350.9h.8M231.5 320.2h.8M231.3 294.6h.8M231.3 308.5h.8M231.3 288.4h.8M233.2 345.6h.8M231.0 294.6h.8M232.0 291.5h.8M232.1 337.4h.8M231.4 363.7h.8M231.1 319.9h.8M231.1 349.9h.8M231.3 333.9h.8M231.1 318.3h.8M231.4 312.5h.8M232.1 331.4h.8M231.1 328.9h.8M231.2 326.4h.8M232.1 299.8h.8M231.6 322.6h.8M231.4 342.9h.8M231.7 351.9h.8M231.1 295.8h.8M232.0 301.9h.8M232.8 299.8h.8M231.3 330.0h.8M231.1 328.1h.8M231.2 351.6h.8M231.6 290.6h.8M232.0 317.4h.8M231.1 327.4h.8M231.8 344.3h.8M232.3 283.8h.8M231.8 343.2h.8M231.4 359.0h.8M231.4 367.6h.8M233.1 333.3h.8M232.6 363.7h.8M231.2 366.4h.8M231.5 328.4h.8M231.2 297.5h.8M231.2 360.0h.8M231.6 371.3h.8M231.6 363.6h.8M232.2 366.5h.8M231.9 310.5h.8M231.5 300.9h.8M231.4 320.6h.8M231.8 361.7h.8M231.2 339.8h.8M231.2 292.3h.8M231.8 354.3h.8M231.0 335.1h.8M232.6 365.8h.8M231.5 321.4h.8M231.2 369.9h.8M231.5 290.6h.8M231.6 292.5h.8M231.8 295.2h.8M231.5 331.2h.8M231.3 373.8h.8M231.2 324.8h.8M233.0 300.1h.8M232.3 320.6h.8M231.3 345.2h.8M231.3 341.4h.8M231.8 366.1h.8M232.6 285.8h.8M231.5 329.8h.8M231.2 354.1h.8M231.2 323.2h.8M232.2 372.4h.8M231.7 317.2h.8M231.8 289.0h.8M231.9 372.1h.8M231.8 290.2h.8M231.8 317.3h.8M231.5 327.4h.8M231.0 310.6h.8M232.5 287.6h.8M231.2 369.1h.8M231.9 286.9h.8M231.9 370.3h.8M231.5 347.2h.8M231.5 327.2h.8M231.1 363.1h.8M231.4 357.1h.8M232.5 322.8h.8M231.3 366.8h.8M232.0 362.2h.8M231.5 332.5h.8M231.5 310.2h.8M232.7 370.5h.8M232.7 284.5h.8M231.3 294.0h.8M231.6 334.6h.8M231.1 321.4h.8M233.0 313.8h.8M231.9 289.4h.8M233.3 371.3h.8M232.6 366.0h.8M231.4 367.7h.8M231.1 370.2h.8M231.4 288.3h.8M231.5 320.2h.8M231.1 314.8h.8M231.9 356.3h.8M231.5 337.6h.8M231.3 327.6h.8M232.0 310.0h.8M231.5 306.7h.8M234.3 328.0h.8M233.4 364.6h.8M232.8 329.8h.8M231.9 311.3h.8M231.9 362.4h.8M233.0 368.0h.8M231.7 286.2h.8M231.3 345.7h.8M231.8 305.8h.8M231.5 349.7h.8M231.1 313.3h.8M231.6 313.0h.8M231.3 285.1h.8M232.7 314.0h.8M231.1 322.8h.8M231.4 371.8h.8M232.5 354.6h.8M231.2 340.0h.8M231.2 327.6h.8M231.1 283.8h.8M232.0 365.0h.8M231.7 319.6h.8M231.5 339.4h.8M231.0 366.1h.8M231.3 305.2h.8M231.0 325.9h.8M233.2 349.0h.8M231.4 337.5h.8M235.3 373.9h.8M247.8 373.5h.8M231.0 373.8h.8M241.0 373.9h.8M243.4 374.1h.8M236.0 373.3h.8M242.9 374.1h.8M245.3 374.3h.8M244.8 373.6h.8M249.6 373.3h.8M233.1 374.1h.8M246.5 373.7h.8M252.8 373.4h.8M231.4 373.2h.8M237.2 372.5h.8M248.9 373.9h.8M252.9 373.7h.8M254.0 374.2h.8M234.9 373.9h.8M233.7 374.1h.8M238.9 374.0h.8M234.9 373.1h.8M239.6 373.2h.8M251.0 374.1h.8M255.5 374.2h.8M251.2 374.2h.8M251.0 373.8h.8M248.0 372.9h.8M239.2 373.8h.8M243.5 372.9h.8M244.2 374.3h.8M232.6 374.1h.8M250.5 372.8h.8M252.2 374.3h.8M242.4 372.8h.8M244.3 373.2h.8M245.4 374.3h.8M253.9 373.8h.8M244.8 373.8h.8M245.0 373.9h.8M254.3 374.1h.8M248.1 373.9h.8M248.4 372.9h.8M244.0 374.3h.8M236.0 374.1h.8M240.0 373.7h.8M234.8 373.7h.8M235.7 373.9h.8M233.9 374.1h.8M241.9 374.3h.8M234.5 373.9h.8M237.0 374.3h.8M254.5 373.4h.8M251.1 374.1h.8M249.7 373.9h.8M244.8 373.8h.8M248.9 373.4h.8M234.4 373.8h.8M231.9 372.7h.8M237.2 373.6h.8M248.0 374.4h.8M235.7 374.3h.8M243.0 374.3h.8M247.0 374.0h.8M234.6 372.2h.8M231.8 372.4h.8M237.1 373.6h.8M250.2 373.8h.8M249.6 374.1h.8M244.3 373.7h.8M244.2 372.6h.8M250.7 373.5h.8M249.1 373.4h.8M234.4 373.8h.8M253.8 374.2h.8M243.6 374.0h.8M243.1 373.0h.8M244.7 373.9h.8M241.3 374.0h.8M243.9 374.0h.8M232.7 374.2h.8M244.9 373.8h.8M248.2 374.1h.8M243.3 374.2h.8M245.9 374.1h.8M254.1 373.6h.8M246.8 373.8h.8M237.5 373.3h.8M231.8 372.8h.8M254.6 374.3h.8M236.8 374.2h.8M234.9 372.9h.8M254.5 374.2h.8M236.9 374.2h.8M248.8 374.0h.8M231.8 374.1h.8M252.9 373.5h.8M249.2 374.0h.8M247.4 373.6h.8M242.8 374.4h.8M245.9 372.5h.8M250.1 373.6h.8M244.0 373.1h.8M249.2 372.3h.8M254.6 374.2h.8M242.2 373.4h.8M241.3 373.6h.8M249.0 373.7h.8M243.5 373.0h.8M238.4 373.4h.8M255.5 373.4h.8M247.7 373.1h.8M241.7 374.1h.8M239.8 374.1h.8M246.4 373.8h.8M248.2 373.8h.8M245.6 372.8h.8M231.2 373.2h.8M249.1 373.9h.8M232.6 372.3h.8M240.2 373.2h.8M232.2 374.1h.8M233.1 373.9h.8M231.2 374.1h.8M252.5 373.8h.8M251.8 373.5h.8M245.4 374.1h.8M231.9 374.1h.8M247.7 374.1h.8M249.2 373.3h.8M243.5 373.8h.8M240.4 372.3h.8M242.0 374.2h.8M244.3 374.4h.8M246.0 373.7h.8M242.0 373.2h.8M254.2 374.1h.8M253.5 374.1h.8M237.9 373.1h.8M239.5 374.1h.8M243.3 373.8h.8M234.3 372.6h.8M238.2 373.5h.8M237.8 373.8h.8M237.9 373.1h.8M236.0 372.4h.8M243.9 373.4h.8M239.1 373.9h.8M235.5 373.9h.8M243.1 372.5h.8M254.3 373.8h.8M253.6 374.3h.8M233.7 373.9h.8M234.3 374.1h.8M242.7 373.6h.8M231.4 373.6h.8M236.2 372.8h.8M243.8 374.3h.8M238.9 374.3h.8M236.6 374.2h.8M309.6 374.0h.8M316.7 374.0h.8M299.0 374.3h.8M263.2 374.1h.8M270.3 374.4h.8M310.1 374.3h.8M287.5 374.1h.8M284.5 374.1h.8M275.8 374.2h.8M275.1 374.2h.8M279.0 373.8h.8M307.1 374.3h.8M310.7 373.7h.8M259.2 374.3h.8M309.6 374.4h.8M309.5 374.3h.8M276.5 374.3h.8M296.9 374.3h.8M297.6 374.2h.8M306.3 374.2h.8M313.9 374.1h.8M289.1 374.4h.8M275.7 374.2h.8M309.7 374.1h.8M306.9 373.9h.8M318.0 374.0h.8M264.8 374.1h.8M261.7 373.7h.8M271.8 373.8h.8M268.2 374.4h.8M281.5 374.2h.8M305.0 374.4h.8M271.7 373.8h.8M297.6 374.1h.8M282.8 373.8h.8M315.9 374.3h.8M289.1 374.2h.8M267.1 374.2h.8M273.5 374.1h.8M305.2 374.0h.8" stroke="#000" stroke-width="0.8" fill="none" opacity="0.78"/>
<rect x="327.2" y="283.5" width="88.1" height="91.1" fill="#fff" stroke="#111" stroke-width="1.1"/>
<line x1="355.5" y1="283.5" x2="355.5" y2="374.6" stroke="#111" stroke-width="1.2"/>
<line x1="327.2" y1="335" x2="415.3" y2="335" stroke="#222" stroke-width="0.9"/>
<path d="M371.2 308.1h.8M368.4 304.8h.8M368.5 307.4h.8M368.6 307.8h.8M369.7 310.7h.8M366.9 306.6h.8M369.1 304.1h.8M366.2 306.6h.8M363.4 311.9h.8M367.1 307.0h.8M365.2 308.7h.8M366.7 304.7h.8M368.3 311.0h.8M364.6 307.4h.8M371.9 307.0h.8M366.2 311.2h.8M368.1 309.6h.8M370.9 309.0h.8M368.3 312.0h.8M364.6 304.9h.8M367.2 306.1h.8M367.3 303.1h.8M364.4 309.1h.8M367.2 308.5h.8M366.8 307.5h.8M364.6 311.6h.8M369.7 304.4h.8M366.7 308.3h.8M366.8 307.4h.8M368.0 303.2h.8M369.1 308.6h.8M365.7 307.1h.8M367.4 306.9h.8M367.7 304.0h.8M367.7 308.5h.8M368.4 308.5h.8M366.5 307.8h.8M369.5 307.7h.8M368.0 307.6h.8M368.7 304.5h.8M367.5 309.5h.8M365.8 308.8h.8M366.7 306.5h.8M365.4 305.4h.8M369.9 304.1h.8M367.9 304.3h.8M371.6 309.1h.8M366.0 304.9h.8M367.0 308.3h.8M370.9 310.9h.8M365.6 308.0h.8M369.4 305.8h.8M366.7 309.6h.8M364.8 307.6h.8M367.5 306.8h.8M367.6 303.7h.8M369.2 306.4h.8M371.5 312.1h.8M366.7 312.0h.8M370.4 305.6h.8M367.1 310.3h.8M366.1 306.7h.8M362.6 304.2h.8M365.3 305.8h.8M366.1 308.1h.8M368.1 306.6h.8M364.9 308.1h.8M368.8 307.4h.8M370.3 306.4h.8M369.3 308.1h.8M370.2 311.3h.8M365.3 303.3h.8M369.7 308.2h.8M368.3 306.5h.8M366.1 310.3h.8M368.5 306.3h.8M367.7 308.2h.8M365.0 306.0h.8M368.6 307.8h.8M364.9 308.2h.8M371.6 308.9h.8M365.0 306.4h.8M366.4 305.7h.8M366.0 306.2h.8M367.4 304.6h.8M369.4 308.3h.8M371.5 309.5h.8M369.5 308.7h.8M367.4 305.0h.8M368.9 307.7h.8M366.3 308.5h.8M368.3 306.0h.8M370.5 306.4h.8M367.9 310.0h.8M366.6 306.8h.8M368.5 306.8h.8M366.6 304.9h.8M368.1 306.6h.8M369.2 309.9h.8M367.6 309.3h.8M366.2 311.2h.8M366.5 307.2h.8M366.9 306.4h.8M369.2 307.5h.8M365.8 309.3h.8M367.7 308.9h.8M368.0 306.5h.8M364.0 306.8h.8M365.8 310.3h.8M367.2 310.9h.8M372.2 310.2h.8M372.3 305.4h.8M366.6 305.1h.8M364.9 304.6h.8M369.4 305.7h.8M367.0 308.9h.8M366.8 311.1h.8M370.0 309.2h.8M370.9 308.8h.8M368.0 310.1h.8M369.7 304.4h.8M369.8 309.9h.8M363.1 312.3h.8M367.9 310.8h.8M365.3 308.0h.8M366.2 305.6h.8M368.2 304.2h.8M367.6 309.1h.8M366.1 305.0h.8M368.7 309.7h.8M369.4 306.3h.8M366.8 310.7h.8M369.4 308.3h.8M368.1 307.2h.8M368.8 309.2h.8M367.7 308.2h.8M364.9 307.2h.8M370.8 308.1h.8M364.9 306.5h.8M367.8 310.9h.8M371.9 307.5h.8M367.3 307.9h.8M365.4 310.6h.8M365.2 309.2h.8M366.7 305.2h.8M368.3 311.4h.8M365.2 308.1h.8M366.2 310.0h.8M364.7 304.6h.8M366.9 304.6h.8M369.6 304.1h.8M367.7 306.4h.8M369.6 306.3h.8M367.2 311.5h.8M368.9 310.5h.8M370.4 308.7h.8M368.2 303.7h.8M364.2 306.6h.8M368.2 310.1h.8M366.1 306.8h.8M371.7 305.0h.8M367.2 307.3h.8M366.2 311.0h.8M364.5 306.9h.8M364.3 305.9h.8M370.7 303.0h.8M364.3 307.6h.8M368.3 305.9h.8M368.5 307.1h.8M366.8 307.8h.8M370.0 304.9h.8M369.3 308.2h.8M367.2 305.9h.8M368.3 309.4h.8M365.7 309.3h.8M367.7 309.5h.8M368.1 307.1h.8M368.0 309.1h.8M364.7 307.6h.8M362.8 308.0h.8M366.7 307.6h.8M369.6 309.7h.8M370.4 309.7h.8M367.2 305.7h.8M372.7 306.0h.8M366.9 308.5h.8M366.0 307.9h.8M368.0 306.3h.8M365.6 307.6h.8M368.5 305.3h.8M367.9 307.8h.8M365.8 308.5h.8M364.9 309.7h.8M366.2 309.9h.8M367.8 307.7h.8M365.0 309.3h.8M365.4 312.7h.8M368.5 308.0h.8M367.7 309.1h.8M368.5 308.5h.8M369.3 307.2h.8M370.8 304.1h.8M364.3 308.9h.8M367.6 304.1h.8M365.2 305.9h.8M370.1 309.1h.8M364.3 304.5h.8M367.9 304.7h.8M366.4 306.2h.8M367.7 308.9h.8M366.2 306.4h.8M368.1 311.3h.8M368.4 306.7h.8M369.5 307.3h.8M364.9 309.1h.8M370.9 305.0h.8M369.1 304.7h.8M367.4 307.3h.8M366.9 307.3h.8M369.0 306.4h.8M367.2 306.9h.8M368.1 306.1h.8M369.2 308.3h.8M366.4 304.6h.8M367.1 309.9h.8M368.9 307.6h.8M371.6 311.1h.8M368.6 310.8h.8M367.1 306.7h.8M368.1 303.2h.8M367.7 306.4h.8M370.3 308.9h.8M370.7 306.5h.8M370.5 307.9h.8M368.7 308.5h.8M365.1 309.7h.8M366.7 309.0h.8M367.5 305.3h.8M367.0 308.2h.8M367.0 311.5h.8M370.0 307.8h.8M366.9 310.9h.8M367.7 310.2h.8M364.9 303.0h.8M369.1 309.7h.8M367.3 307.2h.8M368.5 308.8h.8M367.5 307.6h.8M368.1 310.0h.8M369.0 301.6h.8M368.3 306.8h.8M369.8 309.2h.8M366.6 307.3h.8M363.0 307.3h.8M365.4 307.8h.8M366.2 310.4h.8M370.2 306.7h.8M365.9 310.5h.8M364.9 306.7h.8M366.9 308.1h.8M367.7 305.4h.8M369.4 308.4h.8M368.3 311.2h.8M371.3 308.1h.8M366.8 306.9h.8M367.4 305.1h.8M366.2 306.4h.8M368.7 309.3h.8M362.7 303.8h.8M366.4 305.1h.8M367.6 303.5h.8M367.2 308.0h.8M368.4 306.5h.8M368.4 309.3h.8M366.9 305.1h.8M366.6 308.2h.8M368.2 303.6h.8M364.6 303.8h.8M371.2 308.5h.8M368.0 304.8h.8M363.4 312.2h.8M368.8 301.8h.8M370.8 308.4h.8M367.5 308.1h.8M369.4 302.9h.8M368.2 304.6h.8M366.8 307.1h.8M366.8 305.8h.8M368.0 306.6h.8M368.1 309.3h.8M365.9 307.1h.8M365.9 309.4h.8M369.1 309.9h.8M369.7 307.8h.8M365.6 305.8h.8M370.0 307.8h.8M369.2 306.2h.8M367.2 312.0h.8M369.6 303.9h.8M366.2 307.9h.8M369.7 309.8h.8M369.3 310.4h.8M369.0 309.5h.8M365.9 304.7h.8M366.6 310.5h.8M370.3 305.0h.8M367.1 307.7h.8M368.8 308.3h.8M370.6 308.1h.8M367.2 307.0h.8M369.8 306.9h.8M368.7 306.6h.8M365.3 302.6h.8M367.0 305.7h.8M369.2 306.7h.8M365.8 309.2h.8M366.8 312.3h.8M366.7 307.7h.8M366.1 311.1h.8M368.2 307.0h.8M367.4 302.7h.8M370.1 307.5h.8M369.9 305.6h.8M370.5 306.0h.8M367.7 312.2h.8M366.6 307.6h.8M367.3 307.8h.8M367.9 307.2h.8M368.5 306.5h.8M370.2 309.1h.8M365.3 306.3h.8M367.0 309.7h.8M363.8 310.1h.8M363.7 306.1h.8M365.9 306.7h.8M369.2 309.7h.8M367.4 307.1h.8M365.7 310.2h.8M366.6 313.8h.8M364.5 306.0h.8M369.0 311.8h.8M367.0 308.5h.8M366.4 308.0h.8M363.4 309.0h.8M366.5 308.5h.8M367.3 305.3h.8M364.5 305.2h.8M367.5 309.2h.8M369.8 309.8h.8M371.7 309.8h.8M371.2 309.4h.8M368.2 303.6h.8M369.5 307.2h.8M366.8 304.5h.8M370.1 307.5h.8M366.8 305.7h.8M367.4 308.6h.8M368.8 307.8h.8M368.0 307.7h.8M366.8 310.2h.8M367.3 306.2h.8M371.0 305.4h.8M366.7 307.8h.8M367.3 307.3h.8M369.5 309.9h.8M364.9 311.9h.8M365.3 305.2h.8M369.0 305.2h.8M365.2 309.5h.8M368.6 308.4h.8M370.4 309.9h.8M366.7 306.4h.8M368.4 306.6h.8M368.1 309.6h.8M368.1 304.3h.8M370.9 307.4h.8M368.3 303.8h.8M367.5 304.6h.8M370.8 306.4h.8M364.9 307.2h.8M365.8 307.7h.8M365.7 303.6h.8M367.2 306.8h.8M366.0 309.1h.8M369.3 307.3h.8M367.4 308.4h.8M369.4 307.9h.8M365.4 309.0h.8M372.3 309.0h.8M368.2 306.2h.8M364.6 308.7h.8M368.7 308.6h.8M367.9 310.5h.8M367.4 303.2h.8M367.3 307.9h.8M369.1 308.8h.8M369.0 308.6h.8M368.2 304.8h.8M367.0 309.9h.8M370.9 301.4h.8M367.3 306.5h.8M369.3 303.0h.8M366.5 308.0h.8M366.0 303.5h.8M371.3 307.0h.8M367.7 308.9h.8M371.4 305.9h.8M367.3 306.8h.8M369.5 309.7h.8M370.7 306.5h.8M365.2 306.1h.8M363.8 308.3h.8M363.5 308.5h.8M365.5 308.5h.8M370.5 307.3h.8M367.3 307.6h.8M366.3 308.3h.8M367.1 307.9h.8M366.0 308.8h.8M368.3 305.5h.8M366.2 301.7h.8M358.8 303.2h.8M368.8 307.0h.8M366.3 310.5h.8M365.0 308.1h.8M363.5 320.5h.8M362.1 312.3h.8M365.2 318.6h.8M360.3 308.6h.8M368.7 306.5h.8M378.2 310.4h.8M368.8 300.2h.8M368.8 302.7h.8M369.6 311.0h.8M365.9 306.1h.8M362.1 305.7h.8M375.0 304.8h.8M364.9 311.2h.8M359.1 306.8h.8M372.8 310.4h.8M369.6 312.8h.8M366.4 296.6h.8M370.7 312.0h.8M353.5 307.9h.8M374.3 302.9h.8M371.7 316.7h.8M365.9 307.6h.8M361.0 312.4h.8M367.8 312.0h.8M366.2 309.3h.8M363.2 314.7h.8M365.7 315.6h.8M371.4 305.2h.8M360.4 314.5h.8M368.7 307.1h.8M372.2 298.4h.8M369.7 307.2h.8M370.5 306.0h.8M363.9 312.6h.8M368.6 301.5h.8M369.4 312.7h.8M357.5 304.0h.8M360.3 303.9h.8M362.7 319.0h.8M361.0 304.0h.8M365.1 316.0h.8M364.3 314.0h.8M372.2 306.9h.8M368.7 314.3h.8M367.8 317.6h.8M368.6 317.4h.8M361.0 310.3h.8M353.4 301.5h.8M363.5 306.9h.8M365.3 311.8h.8M358.6 300.0h.8M370.6 310.6h.8M371.7 313.4h.8M368.2 306.3h.8M369.2 304.1h.8M359.3 307.3h.8M378.7 304.0h.8M373.8 308.1h.8M375.9 306.4h.8M360.0 305.6h.8M365.4 312.0h.8M362.5 310.1h.8M379.4 309.2h.8M370.1 322.9h.8M362.3 309.0h.8M364.6 310.4h.8M362.1 307.4h.8M370.5 309.1h.8M355.9 315.0h.8M368.5 319.1h.8M361.9 310.9h.8M361.5 313.2h.8M363.4 315.8h.8M367.1 297.5h.8M360.3 312.5h.8M370.6 314.3h.8M369.2 306.6h.8M367.2 309.3h.8M366.5 314.3h.8M361.4 307.4h.8M373.7 308.3h.8M369.5 306.2h.8M366.8 315.8h.8M375.2 309.2h.8M363.0 316.9h.8M356.1 308.0h.8M370.4 321.5h.8M372.2 308.3h.8M366.1 308.7h.8M361.3 306.9h.8M368.2 300.1h.8M362.0 293.4h.8M371.6 309.6h.8M357.4 301.2h.8M362.6 317.7h.8M369.1 303.1h.8M363.7 300.4h.8M361.2 299.9h.8M376.3 312.7h.8M373.5 311.4h.8M362.3 314.2h.8M369.1 305.2h.8M357.4 308.8h.8M359.8 307.5h.8M355.2 299.3h.8M371.7 311.9h.8M367.2 307.6h.8M367.5 303.9h.8M370.7 317.4h.8M363.1 300.8h.8M366.5 299.9h.8M377.3 308.4h.8M368.7 309.9h.8M363.6 305.0h.8M360.5 319.5h.8M366.8 314.7h.8M374.7 307.4h.8M363.6 306.8h.8M368.5 303.7h.8M371.7 307.6h.8M362.2 312.7h.8M374.3 304.2h.8M365.4 308.0h.8M369.3 313.1h.8M365.8 304.0h.8M363.1 313.6h.8M376.6 309.9h.8M361.9 322.4h.8M372.8 305.1h.8M359.4 304.0h.8M382.8 315.6h.8M360.9 304.8h.8M364.4 302.0h.8M369.7 303.1h.8M365.1 312.0h.8M365.0 314.2h.8M363.5 315.2h.8M362.8 305.8h.8M358.3 310.7h.8M370.2 309.0h.8M374.4 312.4h.8M368.4 300.1h.8M365.4 310.8h.8M359.8 316.8h.8M368.2 317.0h.8M359.6 318.5h.8M374.0 309.7h.8M364.5 317.6h.8M361.0 307.8h.8M372.7 308.5h.8M361.9 302.7h.8M363.7 315.7h.8M381.6 303.7h.8M359.7 312.3h.8M365.5 306.6h.8M365.6 316.1h.8M370.7 304.8h.8M369.3 302.3h.8M372.7 298.0h.8M364.0 313.8h.8M376.0 311.7h.8M355.5 307.9h.8M371.6 312.4h.8M368.6 305.9h.8M355.7 306.3h.8M367.3 305.3h.8M361.7 311.0h.8M364.6 309.9h.8M372.4 305.1h.8M372.0 302.8h.8M371.3 311.1h.8M369.2 312.8h.8M367.6 299.5h.8M375.8 310.1h.8M367.6 309.2h.8M368.6 307.7h.8M359.0 302.5h.8M376.3 312.2h.8M360.5 317.6h.8M368.0 302.9h.8M362.1 305.3h.8M372.8 313.0h.8M365.0 307.6h.8M362.5 309.5h.8M360.7 313.7h.8M365.9 314.0h.8M375.2 310.6h.8M371.3 292.4h.8M361.3 310.3h.8M361.6 314.8h.8M364.6 307.9h.8M354.7 312.6h.8M363.6 316.0h.8M369.3 308.6h.8M371.3 307.5h.8M358.6 319.6h.8M360.7 326.3h.8M359.1 313.6h.8M366.3 325.2h.8M360.2 320.7h.8M355.8 329.7h.8M359.6 307.1h.8M361.1 322.9h.8M363.9 321.4h.8M362.4 318.9h.8M361.2 318.5h.8M370.4 320.3h.8M362.0 307.7h.8M361.4 323.3h.8M364.0 310.7h.8M361.3 329.3h.8M360.8 318.8h.8M363.6 319.4h.8M359.6 316.1h.8M355.4 321.0h.8M363.6 323.5h.8M358.8 322.4h.8M357.8 310.2h.8M363.8 312.4h.8M356.6 318.0h.8M360.3 329.1h.8M365.2 332.3h.8M362.2 310.2h.8M357.0 321.5h.8M356.7 322.5h.8M365.2 323.4h.8M355.5 326.6h.8M367.7 326.1h.8M369.9 315.1h.8M361.1 325.0h.8M365.1 328.8h.8M361.0 315.8h.8M360.8 315.7h.8M361.9 317.9h.8M364.3 315.8h.8M364.8 315.3h.8M365.9 327.2h.8M361.4 318.6h.8M362.8 322.6h.8M357.9 324.1h.8M327.8 307.4h.8M329.8 302.3h.8M340.6 305.8h.8M332.7 307.6h.8M336.5 308.1h.8M327.3 307.6h.8M339.9 308.5h.8M342.7 304.1h.8M341.3 304.1h.8M328.2 307.4h.8M347.6 309.4h.8M333.8 307.2h.8M340.6 304.5h.8M332.6 305.8h.8M341.2 308.1h.8M336.3 309.4h.8M333.1 305.2h.8M339.6 303.3h.8M336.1 306.9h.8M329.7 309.7h.8M338.8 308.8h.8M340.0 307.0h.8M340.7 308.2h.8M337.7 309.1h.8M345.6 303.6h.8M332.0 304.1h.8M327.6 308.4h.8M329.1 306.6h.8M331.4 308.9h.8M343.5 307.2h.8M330.7 305.8h.8M333.5 303.7h.8M327.8 307.4h.8M335.9 307.3h.8M336.5 305.5h.8M333.9 305.0h.8M335.9 303.0h.8M337.5 307.5h.8M332.3 307.3h.8M340.3 307.1h.8M345.3 309.4h.8M335.2 306.6h.8M328.0 304.9h.8M335.7 307.2h.8M336.6 310.3h.8M336.9 307.8h.8M333.3 304.8h.8M332.1 306.8h.8M338.6 308.4h.8M329.0 306.8h.8M338.8 304.2h.8M333.2 304.1h.8M330.8 309.3h.8M336.7 311.3h.8M328.9 308.8h.8M333.7 303.8h.8M335.7 307.4h.8M333.1 309.4h.8M332.9 308.5h.8M334.6 305.9h.8M336.7 309.1h.8M342.6 309.4h.8M333.2 309.4h.8M328.0 308.6h.8M340.4 306.5h.8M342.2 308.5h.8M333.8 309.9h.8M346.4 306.8h.8M336.1 307.7h.8M339.2 306.2h.8M333.4 309.4h.8M334.0 309.6h.8M336.2 310.4h.8M342.9 304.7h.8M338.5 306.5h.8M331.4 308.7h.8M340.6 308.1h.8M340.8 310.3h.8M336.7 308.2h.8M337.4 310.0h.8M329.9 306.9h.8M328.1 305.9h.8M336.7 306.3h.8M330.6 306.6h.8M340.9 311.2h.8M335.4 305.6h.8M335.8 305.8h.8M336.6 308.4h.8M345.4 305.5h.8M334.0 305.4h.8M340.7 305.1h.8M341.9 310.6h.8M347.4 307.3h.8M334.4 311.1h.8M333.6 306.8h.8M329.7 308.3h.8M342.1 305.5h.8M339.3 308.1h.8M343.4 306.9h.8M330.6 307.5h.8M337.3 306.5h.8M329.6 308.3h.8M334.1 304.4h.8M337.6 303.8h.8M333.7 307.9h.8M342.2 305.4h.8M336.3 309.4h.8M330.3 307.8h.8M341.0 309.3h.8M334.4 307.8h.8M330.8 308.1h.8M337.1 306.0h.8M348.0 308.3h.8M330.2 307.1h.8M337.5 305.0h.8M329.8 308.5h.8M334.4 306.9h.8M340.5 306.5h.8M333.9 306.7h.8M332.7 305.3h.8M337.1 307.6h.8M338.2 312.9h.8M328.3 305.8h.8M335.7 302.3h.8M338.6 306.9h.8M352.3 306.9h.8M334.2 307.1h.8M333.5 305.7h.8M340.8 307.7h.8M336.6 306.5h.8M336.7 306.5h.8M335.2 310.2h.8M337.8 309.0h.8M333.0 306.4h.8M327.0 310.0h.8M341.0 306.9h.8M337.3 307.5h.8M342.3 308.1h.8M334.2 304.9h.8M333.4 309.4h.8M330.8 306.6h.8M338.2 310.3h.8M332.0 308.7h.8M332.5 303.6h.8M332.4 304.9h.8M327.1 311.0h.8M341.4 307.0h.8M334.5 309.7h.8M330.1 304.0h.8M332.5 304.8h.8M335.8 308.3h.8M334.3 306.9h.8M327.8 304.2h.8M336.3 309.8h.8M339.1 311.9h.8M329.1 302.8h.8M334.4 307.5h.8M329.9 303.2h.8M342.2 303.2h.8M337.5 308.7h.8M342.0 306.9h.8M339.8 306.5h.8M338.7 309.7h.8M334.5 303.5h.8M337.0 301.0h.8M342.4 305.8h.8M331.6 309.0h.8M339.5 308.0h.8M331.4 308.5h.8M335.4 306.3h.8M330.2 308.0h.8M330.4 309.6h.8M335.7 303.6h.8M345.0 304.2h.8M331.2 306.2h.8M335.6 309.8h.8M332.2 306.0h.8M341.8 307.0h.8M339.0 307.1h.8M331.7 305.8h.8M329.1 305.4h.8M335.6 306.9h.8M339.0 307.2h.8M336.9 305.3h.8M344.6 306.4h.8M339.5 305.2h.8M329.5 307.8h.8M339.4 308.2h.8M340.8 307.2h.8M333.8 307.2h.8M329.7 306.3h.8M339.0 305.9h.8M339.0 306.9h.8M334.1 308.2h.8M341.1 306.4h.8M336.0 311.0h.8M338.0 305.9h.8M329.9 306.1h.8M341.1 302.9h.8M338.1 306.1h.8M338.2 307.4h.8M330.3 308.8h.8M329.1 306.0h.8M333.3 307.2h.8M347.4 303.5h.8M334.0 305.1h.8M333.1 306.2h.8M337.4 308.5h.8M335.0 309.4h.8M332.8 304.4h.8M332.6 308.0h.8M338.6 305.2h.8M341.9 308.5h.8M343.8 308.4h.8M328.2 308.2h.8M335.3 304.1h.8M339.5 306.5h.8M336.9 310.3h.8M341.9 306.2h.8M338.7 309.1h.8M335.5 309.2h.8M337.9 306.1h.8M342.5 306.5h.8M331.9 306.2h.8M327.8 303.3h.8M336.5 302.6h.8M333.0 308.5h.8M336.5 307.8h.8M333.0 305.1h.8M336.2 308.6h.8M334.3 309.0h.8M335.5 304.4h.8M331.5 306.8h.8M330.0 306.5h.8M340.0 307.0h.8M340.5 307.9h.8M331.7 307.2h.8M339.8 305.9h.8M330.9 309.5h.8M339.3 308.3h.8M331.6 306.6h.8M336.8 307.8h.8M339.5 304.8h.8M339.6 305.0h.8M329.2 306.0h.8M331.6 309.1h.8M341.4 311.3h.8M330.8 307.3h.8M342.0 303.5h.8M339.1 310.8h.8M340.1 305.5h.8M334.1 307.3h.8M330.8 304.9h.8M341.1 305.3h.8M340.6 304.8h.8M330.2 302.4h.8M331.0 306.2h.8M339.4 304.1h.8M334.6 309.3h.8M339.1 310.0h.8M333.9 304.0h.8M334.7 308.1h.8M328.8 306.4h.8M334.5 311.4h.8M330.9 305.4h.8M333.5 305.7h.8M334.9 306.0h.8M327.7 305.6h.8M342.3 306.8h.8M335.8 308.4h.8M336.4 305.2h.8M329.7 308.6h.8M333.2 307.9h.8M332.4 308.8h.8M333.8 307.5h.8M337.8 302.9h.8M339.7 309.7h.8M331.9 303.7h.8M336.8 305.2h.8M329.1 310.1h.8M334.0 304.8h.8M327.4 307.8h.8M336.5 307.8h.8M328.3 305.6h.8M334.5 306.2h.8M335.0 306.3h.8M334.3 307.4h.8M338.2 309.6h.8M334.4 302.9h.8M342.6 303.9h.8M336.0 309.4h.8M338.1 309.7h.8M334.7 311.5h.8M337.6 303.7h.8M338.7 306.4h.8M340.7 305.6h.8M339.4 304.4h.8M333.1 306.8h.8M341.0 305.4h.8M336.5 309.3h.8M334.1 307.4h.8M345.5 306.9h.8M338.7 309.5h.8M342.8 309.5h.8M331.2 307.8h.8M332.9 306.4h.8M331.5 305.5h.8M344.1 304.3h.8M337.6 304.5h.8M336.4 305.3h.8M341.2 309.5h.8M333.1 306.6h.8M336.5 303.9h.8M338.2 313.0h.8M332.1 303.6h.8M331.4 307.0h.8M332.9 310.5h.8M338.1 305.8h.8M335.9 306.1h.8M330.2 310.1h.8M333.6 305.8h.8M342.6 306.4h.8M340.2 301.6h.8M338.5 304.7h.8M332.5 308.8h.8M344.4 302.3h.8M342.1 306.4h.8M332.0 309.1h.8M333.9 305.8h.8M333.4 306.5h.8M331.8 309.2h.8M343.9 305.2h.8M330.9 306.7h.8M330.3 307.2h.8M335.5 307.0h.8M330.5 307.6h.8M327.5 306.2h.8M333.8 307.1h.8M339.3 306.6h.8M329.0 307.8h.8M333.8 308.6h.8M343.8 310.1h.8M334.5 305.0h.8M335.9 306.6h.8M330.4 303.9h.8M341.0 305.0h.8M340.3 309.2h.8M329.4 307.8h.8M334.1 304.0h.8M331.1 307.3h.8M339.9 305.5h.8M333.4 309.1h.8M332.3 305.6h.8M330.7 305.0h.8M332.0 305.5h.8M350.8 305.8h.8M338.8 304.4h.8M339.3 307.7h.8M332.5 311.5h.8M329.3 304.8h.8M330.6 306.8h.8M338.9 306.8h.8M330.3 305.0h.8M343.6 306.1h.8M344.2 306.8h.8M332.5 306.2h.8M337.3 308.6h.8M332.5 308.0h.8M327.4 303.6h.8M330.8 308.4h.8M332.6 306.1h.8M332.9 304.0h.8M327.6 310.9h.8M337.8 304.0h.8M327.8 307.7h.8M331.9 305.8h.8M338.9 304.8h.8M327.4 307.9h.8M329.2 307.3h.8M344.6 304.1h.8M334.2 306.7h.8M335.3 306.7h.8M338.6 305.6h.8M329.3 307.4h.8M335.8 303.3h.8M338.7 306.2h.8M339.9 307.0h.8M327.6 306.2h.8M338.4 309.1h.8M333.6 308.3h.8M341.9 307.6h.8M342.5 308.3h.8M329.3 304.4h.8M330.0 310.5h.8M341.1 305.1h.8M334.4 311.2h.8M330.0 307.0h.8M332.6 308.7h.8M335.6 309.3h.8M336.9 307.8h.8M329.3 307.6h.8M331.7 310.7h.8M336.4 307.1h.8M335.4 307.1h.8M332.4 308.3h.8M334.5 305.2h.8M339.5 308.5h.8M340.9 306.2h.8M339.8 310.1h.8M338.2 307.8h.8M334.4 303.8h.8M329.0 306.9h.8M348.0 313.4h.8M335.3 312.0h.8M338.7 307.7h.8M339.3 314.9h.8M330.5 309.1h.8M339.3 306.4h.8M332.2 313.1h.8M356.9 311.4h.8M335.5 318.3h.8M340.8 302.4h.8M335.2 302.2h.8M337.1 317.7h.8M355.9 326.1h.8M347.6 309.5h.8M334.5 309.2h.8M331.0 306.8h.8M342.5 311.7h.8M341.2 310.3h.8M327.8 313.6h.8M339.8 314.8h.8M340.9 306.5h.8M347.2 314.7h.8M337.6 314.3h.8M343.2 308.9h.8M341.5 307.6h.8M350.4 309.0h.8M347.3 319.3h.8M340.2 314.2h.8M351.4 302.5h.8M356.8 313.9h.8M330.0 311.8h.8M356.9 311.6h.8M350.7 316.0h.8M334.6 312.8h.8M353.6 307.5h.8M340.5 308.6h.8M335.4 310.2h.8M335.1 315.8h.8M330.9 315.1h.8M336.4 307.6h.8M339.0 314.7h.8M334.8 301.7h.8M344.1 317.2h.8M339.9 311.7h.8M343.6 312.3h.8M360.3 310.7h.8M343.8 315.2h.8M344.0 303.4h.8M342.9 309.6h.8M331.7 315.4h.8M334.4 313.0h.8M334.1 313.9h.8M350.4 307.3h.8M333.4 315.4h.8M332.5 316.0h.8M342.8 307.0h.8M335.2 317.2h.8M346.5 311.9h.8M341.5 316.1h.8M334.8 312.8h.8M343.4 317.2h.8M336.8 310.3h.8M341.8 310.2h.8M337.7 313.7h.8M335.8 309.9h.8M341.8 311.7h.8M336.8 310.8h.8M330.1 307.8h.8M334.0 306.2h.8M351.8 320.8h.8M337.8 310.8h.8M338.6 309.6h.8M335.2 315.3h.8M343.9 305.3h.8M341.4 307.4h.8M344.7 307.7h.8M342.1 307.8h.8M338.2 312.8h.8M345.2 304.9h.8M335.3 307.5h.8M337.9 309.8h.8M333.2 319.3h.8M332.6 299.3h.8M336.8 312.5h.8M331.1 310.6h.8M340.1 306.9h.8M330.9 306.4h.8M335.4 315.9h.8M340.4 308.3h.8M335.7 314.7h.8M334.3 307.1h.8M345.8 311.1h.8M350.1 310.1h.8M337.2 313.1h.8M341.2 311.3h.8M332.1 308.1h.8M333.6 308.9h.8M349.8 307.0h.8M343.3 313.1h.8M327.3 315.7h.8M341.4 312.8h.8M341.2 315.6h.8M342.7 308.2h.8M334.6 307.2h.8M333.4 307.3h.8M341.4 315.5h.8M338.0 315.8h.8M348.6 314.2h.8M348.2 313.4h.8M328.4 307.8h.8M341.4 311.0h.8M329.4 310.9h.8M327.9 310.0h.8M344.5 312.3h.8M335.0 314.0h.8M355.0 309.8h.8M340.6 304.6h.8M345.9 303.8h.8M337.9 315.2h.8M344.3 296.3h.8M333.2 300.1h.8M337.2 304.5h.8M357.5 316.5h.8M331.7 309.7h.8M340.1 315.5h.8M350.7 314.1h.8M329.5 296.8h.8M327.3 305.8h.8M345.7 305.0h.8M349.8 314.7h.8M340.2 314.8h.8M333.9 315.8h.8M340.4 308.4h.8M333.3 301.6h.8M337.0 313.5h.8M336.4 309.0h.8M353.3 324.1h.8M328.8 316.7h.8M339.4 311.0h.8M333.0 309.9h.8M342.0 313.0h.8M335.0 308.6h.8M344.8 317.9h.8M336.2 313.4h.8M345.5 312.7h.8M332.2 311.2h.8M340.3 306.0h.8M340.0 311.0h.8M334.0 318.6h.8M342.1 307.2h.8M349.2 309.7h.8M331.6 305.6h.8M348.2 305.7h.8M342.3 313.2h.8M335.1 314.4h.8M347.9 310.7h.8M339.6 314.1h.8M340.2 317.1h.8M345.7 311.5h.8M341.5 309.3h.8M345.0 307.7h.8M339.4 305.3h.8M358.7 312.4h.8M340.1 313.2h.8M339.1 368.1h.8M339.2 362.7h.8M344.5 363.5h.8M348.8 360.3h.8M350.4 356.5h.8M347.2 356.5h.8M343.3 351.4h.8M347.7 369.9h.8M342.6 355.3h.8M343.2 361.2h.8M337.7 359.7h.8M343.0 352.0h.8M347.2 359.9h.8M347.4 366.6h.8M340.2 365.9h.8M351.9 362.0h.8M338.0 360.3h.8M352.6 364.0h.8M345.8 350.4h.8M346.4 348.9h.8M342.8 355.9h.8M347.9 354.4h.8M345.9 358.4h.8M347.3 362.6h.8M348.1 356.7h.8M346.8 354.4h.8M341.0 354.7h.8M346.1 345.2h.8M349.4 360.9h.8M339.5 351.7h.8M342.4 343.4h.8M338.8 361.3h.8M337.7 373.1h.8M352.0 368.9h.8M348.2 366.3h.8M351.7 352.1h.8M352.8 353.3h.8M344.6 341.1h.8M344.7 347.2h.8M355.7 361.0h.8M349.9 355.3h.8M350.1 362.2h.8M344.5 362.2h.8M344.4 350.0h.8M337.5 347.7h.8M348.6 371.6h.8M344.1 354.5h.8M351.7 357.5h.8M347.6 358.7h.8M335.8 349.5h.8M347.5 359.2h.8M344.9 349.6h.8M346.7 356.6h.8M341.9 357.0h.8M347.2 372.9h.8M350.8 352.4h.8M349.5 348.0h.8M336.1 353.2h.8M354.3 363.5h.8M343.1 361.2h.8M337.2 357.2h.8M341.9 350.1h.8M344.4 353.1h.8M347.5 350.0h.8M347.8 361.5h.8M349.6 362.8h.8M349.1 365.6h.8M351.5 365.7h.8M351.2 349.7h.8M345.0 368.4h.8M343.5 363.5h.8M350.7 367.6h.8M343.5 360.2h.8M345.6 362.9h.8M337.9 358.0h.8M351.2 358.4h.8M350.5 368.1h.8M346.8 355.7h.8M343.7 350.4h.8M344.3 357.3h.8M350.3 353.9h.8M343.2 358.1h.8M345.2 367.1h.8M346.2 368.1h.8M346.5 340.9h.8M345.4 351.0h.8M346.2 352.3h.8M350.0 356.6h.8M344.6 372.6h.8M344.7 355.4h.8M344.7 363.5h.8M347.2 358.8h.8M351.2 354.5h.8M349.3 364.1h.8M347.5 355.2h.8M345.5 366.1h.8M334.5 368.7h.8M342.1 364.9h.8M348.4 361.4h.8M348.4 355.3h.8M353.1 358.9h.8M349.7 357.2h.8M344.8 365.9h.8M342.0 358.3h.8M342.6 347.7h.8M350.4 358.7h.8M338.3 358.1h.8M356.2 365.7h.8M345.2 361.0h.8M345.0 360.1h.8M345.6 359.8h.8M344.2 364.3h.8M341.1 346.9h.8M338.9 354.0h.8M346.6 362.4h.8M349.5 348.2h.8M339.4 362.8h.8M353.8 362.8h.8M345.6 365.5h.8M353.2 365.3h.8M347.1 356.5h.8M343.8 355.6h.8M341.0 360.9h.8M350.6 356.6h.8M349.5 363.1h.8M345.6 358.2h.8M352.6 353.5h.8M343.2 355.8h.8M342.9 362.4h.8M348.7 356.7h.8M348.9 346.5h.8M350.3 351.6h.8M349.9 354.2h.8M348.8 363.2h.8M340.1 371.0h.8M340.2 355.6h.8M349.1 362.7h.8M347.1 356.4h.8M349.6 361.1h.8M344.8 366.2h.8M352.9 354.6h.8M344.5 351.5h.8M341.0 359.8h.8M350.3 348.9h.8M345.2 360.8h.8M343.7 364.5h.8M348.8 358.2h.8M351.2 361.0h.8M350.9 362.8h.8M345.1 368.9h.8M343.3 361.2h.8M344.8 353.1h.8M340.7 366.5h.8M352.0 366.1h.8M337.8 363.1h.8M346.7 362.8h.8M347.4 362.7h.8M348.2 366.0h.8M346.9 355.1h.8M336.8 360.7h.8M337.2 354.7h.8M346.1 357.8h.8M343.0 370.5h.8M340.1 366.8h.8M345.0 357.8h.8M346.5 361.8h.8M338.8 362.1h.8M345.5 358.5h.8M344.9 343.8h.8M351.4 334.3h.8M340.1 351.6h.8M343.6 356.8h.8M327.3 342.2h.8M345.2 367.4h.8M351.0 333.7h.8M351.3 334.8h.8M346.7 340.7h.8M336.3 355.4h.8M348.2 341.3h.8M339.6 335.7h.8M343.9 359.1h.8M342.0 344.5h.8M342.3 329.9h.8M342.4 337.4h.8M352.0 347.4h.8M352.5 344.3h.8M345.7 362.6h.8M347.5 346.2h.8M347.7 349.5h.8M351.7 337.7h.8M341.9 334.2h.8M352.1 353.3h.8M342.9 352.3h.8M356.4 355.1h.8M344.2 333.5h.8M351.9 341.5h.8M335.3 357.3h.8M339.6 340.3h.8M357.9 340.2h.8M355.1 316.1h.8M349.6 342.2h.8M345.8 337.7h.8M346.6 353.3h.8M342.9 355.1h.8M349.3 330.8h.8M355.7 347.2h.8M350.0 363.0h.8M339.3 332.2h.8M342.6 368.1h.8M354.5 355.5h.8M338.9 340.5h.8M343.5 346.5h.8M337.8 345.7h.8M341.8 350.8h.8M338.9 338.5h.8M345.5 353.4h.8M345.2 347.3h.8M343.8 337.6h.8M342.1 334.4h.8M347.9 350.1h.8M343.7 334.5h.8M342.3 343.1h.8M350.9 340.9h.8M346.0 337.0h.8M348.7 341.8h.8M387.2 365.2h.8M382.5 293.4h.8M403.4 354.9h.8M386.7 340.1h.8M331.6 310.9h.8M356.1 304.7h.8M397.5 295.1h.8M349.8 299.4h.8M342.0 363.2h.8M330.1 287.7h.8M394.7 310.8h.8M352.5 298.5h.8M380.2 293.6h.8M364.5 341.5h.8M326.9 323.5h.8M338.6 286.9h.8M396.7 285.7h.8M343.1 370.6h.8M330.9 323.5h.8M389.0 335.2h.8M327.5 364.0h.8M326.9 307.3h.8M328.5 322.2h.8M328.3 338.3h.8M327.6 367.1h.8M328.0 285.6h.8M327.9 316.9h.8M328.0 304.4h.8M326.8 335.0h.8M328.1 318.4h.8M327.0 306.2h.8M327.3 328.3h.8M327.6 337.9h.8M327.1 351.8h.8M327.9 298.9h.8M327.1 359.2h.8M326.9 338.5h.8M327.4 293.1h.8M327.3 348.8h.8M328.0 313.6h.8M327.0 304.1h.8M327.2 340.9h.8M326.9 353.6h.8M327.7 364.0h.8M326.8 349.7h.8M327.4 370.0h.8M327.0 332.0h.8M327.0 326.6h.8M327.4 361.3h.8M326.9 326.5h.8M328.0 326.6h.8M327.4 332.3h.8M327.2 296.8h.8M327.7 332.4h.8M327.9 348.0h.8M326.9 367.6h.8M327.8 296.9h.8M327.6 324.0h.8M327.0 283.6h.8M327.5 337.1h.8M326.9 299.0h.8M326.9 304.4h.8M326.9 351.5h.8M327.5 338.7h.8M327.4 325.3h.8M327.2 314.9h.8M327.3 351.5h.8M327.3 334.0h.8M327.7 354.7h.8M327.2 326.7h.8M327.1 345.0h.8M327.3 304.4h.8M327.1 346.7h.8M328.4 341.8h.8M327.1 310.6h.8M327.7 303.4h.8M327.0 286.2h.8M327.1 343.8h.8M327.2 341.1h.8M327.3 363.5h.8M327.0 352.9h.8M327.1 333.2h.8M327.1 315.7h.8M326.9 291.0h.8M327.0 324.2h.8M327.5 315.1h.8M326.9 336.0h.8M328.4 325.4h.8M327.1 339.4h.8M327.7 306.6h.8M327.8 294.9h.8M327.2 337.1h.8M327.5 347.1h.8M327.3 368.0h.8M328.4 359.3h.8M327.3 298.0h.8M327.0 331.5h.8M327.9 324.5h.8M327.3 320.4h.8M327.3 301.9h.8M327.1 371.9h.8M327.7 330.2h.8M328.5 292.5h.8M327.2 331.8h.8M327.9 321.7h.8M327.9 353.0h.8M326.8 320.4h.8M327.5 337.9h.8M326.8 285.9h.8M327.2 298.8h.8M327.7 311.6h.8M327.8 324.8h.8M327.5 305.3h.8M327.3 287.2h.8M328.5 359.1h.8M327.4 339.5h.8M327.3 328.5h.8M327.3 373.4h.8M327.6 326.5h.8M327.6 351.3h.8M327.7 369.8h.8M328.6 344.8h.8M328.0 284.4h.8M327.5 305.6h.8M327.8 308.8h.8M327.7 346.9h.8M327.8 330.1h.8M327.5 356.3h.8M327.3 305.0h.8M327.3 314.5h.8M328.0 284.2h.8M328.1 340.3h.8M327.0 317.6h.8M327.2 322.4h.8M326.8 346.1h.8M327.3 288.0h.8M327.2 296.6h.8M327.3 331.4h.8M327.1 308.8h.8M327.3 354.2h.8M327.6 347.3h.8M327.5 357.9h.8M327.3 330.2h.8M327.7 314.1h.8M327.1 292.9h.8M326.9 292.9h.8M328.0 368.8h.8M327.7 345.8h.8M327.3 333.7h.8M327.0 314.2h.8M328.2 298.2h.8M327.3 330.3h.8M327.1 315.0h.8M327.0 329.4h.8M328.1 284.6h.8M327.0 353.7h.8M327.0 357.5h.8M327.4 286.4h.8M327.2 351.3h.8M326.9 350.2h.8M327.1 297.4h.8M328.0 297.4h.8M327.2 368.5h.8M327.4 309.0h.8M327.6 361.1h.8M327.1 302.3h.8M327.0 369.2h.8M327.1 351.4h.8M327.5 336.9h.8M326.8 316.3h.8M327.5 289.4h.8M327.6 292.7h.8M327.9 297.9h.8M329.1 322.2h.8M327.5 346.1h.8M327.2 350.0h.8M327.1 372.0h.8M327.2 342.4h.8M327.0 334.9h.8M327.4 285.1h.8M327.2 343.1h.8M327.3 334.4h.8M327.3 348.3h.8M327.1 302.3h.8M327.4 366.8h.8M327.3 286.6h.8M327.0 329.3h.8M326.9 291.6h.8M327.2 292.9h.8M326.9 340.6h.8M327.7 288.8h.8M327.4 332.5h.8M327.2 367.7h.8M327.0 360.2h.8M327.0 315.5h.8M327.7 293.9h.8M327.0 364.8h.8M327.0 350.7h.8M328.0 331.9h.8M327.5 345.9h.8M328.2 374.2h.8M337.2 374.4h.8M337.7 373.7h.8M334.4 374.4h.8M343.4 374.2h.8M349.8 374.5h.8M330.4 374.2h.8M348.6 374.4h.8M334.2 374.2h.8M343.9 374.1h.8M342.2 373.7h.8M349.6 374.3h.8M327.9 374.0h.8M348.3 374.3h.8M347.7 374.5h.8M341.7 374.1h.8M342.7 373.9h.8M327.6 374.1h.8M341.5 373.9h.8M350.8 374.4h.8M347.0 374.0h.8M346.0 374.2h.8M345.2 374.6h.8M331.5 374.0h.8M353.3 373.9h.8M351.8 374.3h.8M339.0 374.4h.8M340.1 374.5h.8M337.1 373.7h.8M342.1 374.3h.8M334.3 373.9h.8M332.6 373.9h.8M351.4 374.4h.8M343.1 374.5h.8M342.3 373.9h.8M335.7 374.1h.8M352.4 374.5h.8M348.0 374.5h.8M330.5 374.3h.8M336.6 374.4h.8M336.6 374.3h.8M344.9 374.6h.8M344.4 374.5h.8M339.9 372.8h.8M327.7 374.0h.8M343.0 374.4h.8M348.6 374.2h.8M352.8 373.8h.8M353.2 373.8h.8M335.9 374.5h.8M336.5 374.0h.8M344.7 373.8h.8M328.8 374.5h.8M348.1 374.0h.8M343.6 374.3h.8M345.9 373.2h.8M348.2 374.4h.8M351.4 373.7h.8M346.3 374.3h.8M337.7 373.3h.8M343.3 374.1h.8M350.6 374.1h.8M343.7 373.7h.8M328.9 373.9h.8M352.4 374.2h.8M349.5 374.5h.8M346.0 374.4h.8M351.9 374.3h.8M337.2 374.5h.8M332.2 374.6h.8M353.6 374.2h.8M332.5 373.2h.8M347.3 373.8h.8M327.0 374.3h.8M344.0 374.1h.8M345.1 374.5h.8M331.2 374.6h.8M345.2 374.4h.8M330.0 373.3h.8M333.1 373.6h.8M352.6 373.7h.8M348.2 374.5h.8M349.3 374.3h.8M350.0 374.3h.8M348.5 374.3h.8M335.7 374.1h.8M347.0 373.7h.8M340.8 374.0h.8M339.3 374.1h.8M336.9 374.4h.8M340.2 374.2h.8M342.4 374.3h.8M339.6 373.9h.8M339.8 374.4h.8M336.1 374.0h.8M351.8 374.4h.8M332.9 374.2h.8M339.2 374.5h.8M343.2 373.6h.8M345.6 374.2h.8M407.8 374.0h.8M368.1 374.5h.8M366.3 374.5h.8M406.0 373.9h.8M400.7 374.6h.8M390.5 374.3h.8M395.5 374.2h.8M367.2 374.3h.8M383.3 374.5h.8M366.0 374.6h.8M393.8 374.3h.8M411.0 374.5h.8M407.9 374.2h.8M402.5 374.5h.8M413.6 374.3h.8M360.4 374.4h.8M400.1 374.4h.8M366.7 374.5h.8M406.7 374.3h.8M355.8 374.3h.8M369.4 374.5h.8M377.9 374.5h.8M371.8 374.5h.8M400.1 374.5h.8M382.9 374.5h.8M382.2 374.1h.8M393.8 374.6h.8M373.6 374.6h.8M357.7 374.4h.8M362.0 374.4h.8M401.1 374.6h.8M392.1 374.1h.8M403.6 374.2h.8M367.4 374.3h.8M411.4 374.6h.8M370.4 374.6h.8M409.9 374.3h.8M392.6 374.5h.8M360.5 374.3h.8" stroke="#000" stroke-width="0.8" fill="none" opacity="0.78"/>
<rect x="423.4" y="283.5" width="88.8" height="90.8" fill="#fff" stroke="#333" stroke-width="0.8"/>
<line x1="457.7" y1="283.5" x2="457.7" y2="374.3" stroke="#555" stroke-width="0.7"/>
<line x1="423.4" y1="325.6" x2="512.2" y2="325.6" stroke="#222" stroke-width="0.9"/>
<path d="M433.5 307.6h.8M425.6 309.0h.8M430.7 311.5h.8M427.2 306.9h.8M424.0 307.1h.8M426.2 307.6h.8M426.0 308.8h.8M428.2 305.5h.8M430.6 309.0h.8M427.7 307.0h.8M431.4 309.0h.8M428.0 313.2h.8M426.9 303.8h.8M426.4 308.1h.8M431.7 304.7h.8M429.9 303.8h.8M428.5 306.8h.8M433.8 302.2h.8M426.9 302.1h.8M426.9 306.6h.8M428.6 310.5h.8M425.5 305.9h.8M433.5 307.6h.8M425.3 307.6h.8M424.9 305.0h.8M426.8 303.1h.8M434.7 306.4h.8M429.3 306.8h.8M428.2 305.2h.8M430.0 306.2h.8M425.7 310.2h.8M433.7 308.8h.8M430.3 306.6h.8M429.0 309.6h.8M428.7 311.3h.8M433.4 308.2h.8M429.3 305.1h.8M427.1 305.6h.8M427.4 304.9h.8M429.9 308.4h.8M428.1 312.2h.8M429.4 307.3h.8M429.2 305.8h.8M444.0 305.4h.8M439.3 313.7h.8M441.2 305.0h.8M433.1 311.3h.8M428.7 312.8h.8M447.2 306.7h.8M441.1 306.7h.8M434.1 309.3h.8M435.6 309.7h.8M441.5 306.2h.8M440.0 308.1h.8M438.6 307.4h.8M471.8 298.9h.8M469.6 305.8h.8M468.7 301.6h.8M462.4 305.5h.8M458.7 306.9h.8M469.3 306.9h.8M471.7 304.7h.8M469.9 303.1h.8M460.1 305.8h.8M466.5 303.8h.8M460.2 302.6h.8M468.0 302.4h.8M467.3 302.9h.8M465.0 301.2h.8M471.8 302.5h.8M469.8 307.9h.8M465.7 307.3h.8M467.4 303.7h.8M471.2 301.5h.8M465.8 300.6h.8M469.3 303.9h.8M464.2 301.6h.8M471.9 301.6h.8M472.4 300.7h.8M476.8 294.6h.8M470.8 302.2h.8M468.3 302.4h.8M471.1 304.4h.8M431.0 366.1h.8M435.3 371.8h.8M424.9 369.7h.8M437.9 370.8h.8M428.2 369.8h.8M432.3 365.9h.8M429.2 368.1h.8M429.0 372.8h.8M427.1 372.6h.8M430.2 368.3h.8M429.5 373.4h.8M439.9 369.7h.8M425.9 368.2h.8M429.6 372.2h.8M427.8 366.9h.8M435.7 362.9h.8M425.5 368.8h.8M438.5 369.8h.8M423.6 366.7h.8M433.0 369.1h.8M426.7 368.8h.8M429.0 370.6h.8M432.0 371.2h.8M427.3 373.2h.8M437.1 370.5h.8M425.4 366.0h.8M429.6 368.7h.8M426.3 368.7h.8M423.1 368.5h.8M424.1 369.8h.8M428.5 364.9h.8M428.4 368.4h.8M436.8 370.9h.8M428.6 371.3h.8M430.2 371.3h.8M428.5 369.8h.8M429.0 371.7h.8M439.0 373.5h.8M437.3 368.6h.8M438.2 368.2h.8M430.4 366.5h.8M435.1 364.5h.8M430.1 371.0h.8M425.1 370.4h.8M425.3 368.1h.8M432.2 373.0h.8M440.6 366.2h.8M431.6 368.7h.8M424.3 366.6h.8M431.6 369.1h.8M440.3 365.7h.8M424.6 372.1h.8M428.0 369.3h.8M436.4 367.4h.8M429.3 369.1h.8M430.7 373.8h.8M437.4 367.2h.8M436.7 364.7h.8M427.2 367.0h.8M427.5 369.4h.8M431.8 366.5h.8M432.4 367.1h.8M433.1 369.8h.8M425.1 366.4h.8M435.2 368.8h.8M431.9 368.0h.8M438.0 370.3h.8M427.1 369.6h.8M425.3 367.8h.8M428.8 366.1h.8M426.4 372.0h.8M426.2 368.3h.8M424.6 372.5h.8M425.9 371.1h.8M433.6 370.5h.8M428.1 362.8h.8M426.2 368.3h.8M423.5 365.7h.8M432.1 369.0h.8M435.5 370.2h.8M436.7 369.7h.8M429.8 369.5h.8M451.7 358.3h.8M451.1 338.2h.8M447.0 358.9h.8M452.1 330.7h.8M449.6 331.1h.8M448.7 339.0h.8M449.4 338.5h.8M450.5 322.8h.8M451.4 334.2h.8M452.5 347.6h.8M449.2 351.8h.8M454.3 365.5h.8M447.6 365.4h.8M449.2 347.4h.8M448.7 340.0h.8M451.0 347.7h.8M451.4 337.8h.8M447.5 339.1h.8M448.9 350.1h.8M424.0 355.2h.8M446.7 368.7h.8M429.4 360.7h.8M496.9 359.8h.8M468.4 288.9h.8M489.6 357.2h.8M443.0 353.6h.8M425.7 338.2h.8M423.2 325.4h.8M423.0 364.9h.8M423.4 288.0h.8M423.5 368.7h.8M423.2 330.2h.8M423.5 315.6h.8M423.6 303.2h.8M423.4 366.2h.8M423.3 331.2h.8M423.2 361.8h.8M423.1 336.9h.8M423.0 297.9h.8M423.1 332.7h.8M423.2 309.9h.8M423.6 350.7h.8M423.9 315.8h.8M423.6 306.1h.8M423.1 329.2h.8M423.2 347.0h.8M423.0 299.6h.8M423.5 336.5h.8M423.7 363.6h.8M423.4 327.0h.8M423.2 357.4h.8M423.1 336.8h.8M423.5 310.3h.8M423.2 295.9h.8M423.4 311.1h.8M423.5 301.0h.8M423.3 295.6h.8M423.4 367.2h.8M423.1 324.8h.8M423.4 302.4h.8M423.0 361.7h.8M423.1 335.6h.8M423.4 360.7h.8M423.1 284.3h.8M423.2 287.8h.8M423.2 335.2h.8M423.9 299.8h.8M423.5 353.7h.8M423.2 351.3h.8M423.1 304.9h.8M423.3 296.3h.8M423.0 321.4h.8M423.4 299.4h.8M423.4 332.9h.8M423.6 322.7h.8M423.2 297.8h.8M423.7 302.8h.8M423.3 331.9h.8M423.6 301.3h.8M423.7 370.4h.8M423.3 365.7h.8M423.1 359.0h.8M423.5 303.4h.8M423.5 332.0h.8M423.2 353.4h.8M423.3 361.8h.8M423.0 345.2h.8M423.1 335.1h.8M423.2 318.7h.8M423.3 360.0h.8M423.4 335.2h.8M423.4 318.3h.8M423.6 292.2h.8M423.2 284.1h.8M423.3 364.6h.8M423.1 350.8h.8M423.1 354.2h.8M424.7 374.0h.8M440.1 373.7h.8M439.6 374.2h.8M424.5 374.1h.8M455.8 373.9h.8M439.2 373.9h.8M426.9 374.1h.8M450.2 374.0h.8M443.1 373.9h.8M452.3 374.1h.8M439.6 373.5h.8M433.7 374.2h.8M449.8 373.8h.8M435.6 373.6h.8M438.3 374.3h.8M427.3 373.5h.8M448.8 374.3h.8M442.3 374.2h.8M430.4 373.4h.8M454.8 373.7h.8M449.3 373.3h.8M433.0 374.3h.8M442.2 374.2h.8M445.2 373.3h.8M453.7 373.8h.8M425.0 374.0h.8M456.0 374.2h.8M425.7 374.0h.8M441.1 374.2h.8M428.9 374.1h.8M449.2 374.0h.8M429.4 374.0h.8M435.3 374.0h.8M447.0 374.2h.8M440.3 374.1h.8M451.4 373.7h.8M424.9 373.7h.8M438.0 373.6h.8M431.3 373.5h.8M454.9 373.8h.8M448.3 374.1h.8M456.1 374.3h.8M449.3 374.0h.8M453.5 374.2h.8M433.9 374.1h.8M425.1 374.1h.8M435.0 373.5h.8M437.1 374.0h.8M435.6 374.1h.8M435.0 374.0h.8M449.2 373.6h.8M432.2 373.9h.8M439.5 373.8h.8M431.8 374.1h.8M450.1 373.8h.8M434.6 373.9h.8M427.3 373.6h.8M444.8 373.5h.8M438.9 374.1h.8M428.8 374.0h.8M450.3 374.1h.8M445.0 374.0h.8M443.2 373.5h.8M446.2 374.3h.8M425.8 374.2h.8M435.9 373.2h.8M445.4 373.7h.8M423.4 374.2h.8M451.7 373.6h.8M443.2 374.0h.8M434.6 374.3h.8M433.4 374.3h.8M424.9 373.8h.8M431.5 374.2h.8M443.0 374.3h.8M423.6 374.3h.8M442.7 374.2h.8M442.5 373.6h.8M424.1 374.0h.8M445.5 374.3h.8M437.8 374.3h.8M446.9 373.6h.8M439.2 374.1h.8M445.4 374.1h.8M430.9 373.7h.8M452.3 374.3h.8M430.2 373.6h.8M456.7 374.0h.8M445.1 373.2h.8M427.7 373.9h.8M442.6 374.0h.8M455.2 374.1h.8M442.3 373.5h.8M427.3 374.3h.8M441.9 374.1h.8M428.3 373.8h.8M453.7 374.0h.8M435.3 373.4h.8M437.6 374.1h.8M431.7 373.9h.8M506.1 374.2h.8M506.4 374.2h.8M494.0 374.0h.8M458.0 374.2h.8M461.1 374.1h.8M495.8 373.8h.8M485.9 373.9h.8M470.8 373.6h.8M500.1 374.3h.8M482.3 374.3h.8M486.5 374.0h.8M459.4 374.1h.8M507.0 373.8h.8M500.0 374.0h.8M497.3 374.1h.8M479.5 374.2h.8M461.3 374.2h.8M471.6 374.1h.8M485.6 374.1h.8M506.6 373.9h.8M496.1 373.7h.8M492.6 374.0h.8M509.9 374.2h.8M484.1 374.3h.8M506.6 374.2h.8M487.7 374.0h.8M461.3 374.1h.8M479.0 374.2h.8M472.3 374.2h.8M486.1 374.3h.8" stroke="#000" stroke-width="0.8" fill="none" opacity="0.78"/>
<text x="1.5" y="445.5" class="pl">C</text>
<path d="M55 458.4V661.3" stroke="#000" stroke-width="1.8" fill="none"/>
<path d="M51 657.3H232.5" stroke="#000" stroke-width="2" fill="none"/>
<line x1="51" x2="55" y1="617.6" y2="617.6" stroke="#000" stroke-width="1.6"/>
<line x1="51" x2="55" y1="577.9" y2="577.9" stroke="#000" stroke-width="1.6"/>
<line x1="51" x2="55" y1="538.3" y2="538.3" stroke="#000" stroke-width="1.6"/>
<line x1="51" x2="55" y1="498.6" y2="498.6" stroke="#000" stroke-width="1.6"/>
<line x1="51" x2="55" y1="458.9" y2="458.9" stroke="#000" stroke-width="1.6"/>
<line x1="115" x2="115" y1="657.3" y2="661.3" stroke="#000" stroke-width="1.6"/>
<line x1="173.3" x2="173.3" y1="657.3" y2="661.3" stroke="#000" stroke-width="1.6"/>
<line x1="231.7" x2="231.7" y1="657.3" y2="661.3" stroke="#000" stroke-width="1.6"/>
<text class="ax" text-anchor="end" transform="translate(48.2 661.0) scale(1.1 1)">0</text>
<text class="ax" text-anchor="end" transform="translate(48.2 621.4) scale(1.1 1)">20</text>
<text class="ax" text-anchor="end" transform="translate(48.2 581.7) scale(1.1 1)">40</text>
<text class="ax" text-anchor="end" transform="translate(48.2 542.0) scale(1.1 1)">60</text>
<text class="ax" text-anchor="end" transform="translate(48.2 502.3) scale(1.1 1)">80</text>
<text class="ax" text-anchor="end" transform="translate(48.2 462.6) scale(1.1 1)">100</text>
<text x="11.4" y="559.6" class="b" font-size="10.9px" text-anchor="middle" transform="rotate(-90 11.4 559.6)">Percentage (%)</text>
<text x="30" y="694.5" class="b" font-size="10.95px">Thymocyte subsets within a CD3- population</text>
<text x="85.6" y="678" class="b" font-size="11px" text-anchor="middle">TN</text>
<text x="143.2" y="678" class="b" font-size="11px" letter-spacing="-1.3px" text-anchor="middle">ISP</text>
<text x="201.8" y="678" class="b" font-size="11px" letter-spacing="-1.3px" text-anchor="middle">DP</text>
<defs><pattern id="q1" width="11.7" height="11" patternUnits="userSpaceOnUse" patternTransform="translate(62.30 654.30)"><rect width="11.7" height="11" fill="#fff"/><rect x="0.4" y="0.5" width="1.4" height="1.4" fill="#000"/><rect x="6.2" y="6" width="1.4" height="1.4" fill="#000"/></pattern></defs>
<defs><pattern id="q2" width="4.3" height="4.6" patternUnits="userSpaceOnUse" patternTransform="translate(71.15 657.30)"><rect width="4.3" height="4.6" fill="#fff"/><rect x="1.5" y="0.3" width="1.25" height="1.25" fill="#000"/><rect x="3.65" y="2.6" width="1.25" height="1.25" fill="#000"/><rect x="-0.65" y="2.6" width="1.25" height="1.25" fill="#000"/></pattern></defs>
<defs><pattern id="q3" width="4.86" height="5.4" patternUnits="userSpaceOnUse" patternTransform="translate(80.30 657.30)"><rect width="4.86" height="5.4" fill="#fff"/><path d="M-4.86 8.10L4.86 -2.70M0.00 8.10L9.72 -2.70" stroke="#000" stroke-width="1.7" fill="none"/></pattern></defs>
<defs><pattern id="q4" width="9.15" height="5.4" patternUnits="userSpaceOnUse" patternTransform="translate(89.45 657.30)"><rect width="9.15" height="5.4" fill="#000"/><rect x="1.3" y="0.6" width="3" height="1.6" fill="#fff"/><rect x="5.7" y="3.3" width="3" height="1.6" fill="#fff"/></pattern></defs>
<rect x="62.0" y="649.4" width="9.2" height="7.9" fill="url(#q1)" stroke="#000" stroke-width="1.05"/>
<rect x="71.2" y="651.3" width="9.2" height="6.0" fill="url(#q2)" stroke="#000" stroke-width="1.05"/>
<rect x="80.3" y="645.0" width="9.2" height="12.3" fill="url(#q3)" stroke="#000" stroke-width="1.05"/>
<rect x="89.5" y="617.2" width="9.2" height="40.1" fill="url(#q4)" stroke="#000" stroke-width="1.05"/>
<rect x="98.6" y="597.2" width="9.2" height="60.1" fill="#000" stroke="#000" stroke-width="1.05"/>
<path d="M66.6 648.4V650.4M64.3 648.4H68.8M64.3 650.4H68.8" stroke="#000" stroke-width="1.1" fill="none"/>
<path d="M75.7 650.6V652.1M73.5 650.6H78.0M73.5 652.1H78.0" stroke="#000" stroke-width="1.1" fill="none"/>
<path d="M84.9 641.4V645.0M81.6 641.4H88.1" stroke="#000" stroke-width="1.1" fill="none"/>
<path d="M94.0 598.0V617.2M90.8 598.0H97.3" stroke="#000" stroke-width="1.1" fill="none"/>
<path d="M103.2 585.3V597.2M99.9 585.3H106.4" stroke="#000" stroke-width="1.1" fill="none"/>
<defs><pattern id="q5" width="11.7" height="11" patternUnits="userSpaceOnUse" patternTransform="translate(120.90 654.30)"><rect width="11.7" height="11" fill="#fff"/><rect x="0.4" y="0.5" width="1.4" height="1.4" fill="#000"/><rect x="6.2" y="6" width="1.4" height="1.4" fill="#000"/></pattern></defs>
<defs><pattern id="q6" width="4.3" height="4.6" patternUnits="userSpaceOnUse" patternTransform="translate(129.75 657.30)"><rect width="4.3" height="4.6" fill="#fff"/><rect x="1.5" y="0.3" width="1.25" height="1.25" fill="#000"/><rect x="3.65" y="2.6" width="1.25" height="1.25" fill="#000"/><rect x="-0.65" y="2.6" width="1.25" height="1.25" fill="#000"/></pattern></defs>
<defs><pattern id="q7" width="4.86" height="5.4" patternUnits="userSpaceOnUse" patternTransform="translate(138.90 657.30)"><rect width="4.86" height="5.4" fill="#fff"/><path d="M-4.86 8.10L4.86 -2.70M0.00 8.10L9.72 -2.70" stroke="#000" stroke-width="1.7" fill="none"/></pattern></defs>
<defs><pattern id="q8" width="9.15" height="5.4" patternUnits="userSpaceOnUse" patternTransform="translate(148.05 657.30)"><rect width="9.15" height="5.4" fill="#000"/><rect x="1.3" y="0.6" width="3" height="1.6" fill="#fff"/><rect x="5.7" y="3.3" width="3" height="1.6" fill="#fff"/></pattern></defs>
<rect x="120.6" y="646.4" width="9.2" height="10.9" fill="url(#q5)" stroke="#000" stroke-width="1.05"/>
<rect x="129.8" y="646.4" width="9.2" height="10.9" fill="url(#q6)" stroke="#000" stroke-width="1.05"/>
<rect x="138.9" y="647.0" width="9.2" height="10.3" fill="url(#q7)" stroke="#000" stroke-width="1.05"/>
<rect x="148.1" y="596.8" width="9.2" height="60.5" fill="url(#q8)" stroke="#000" stroke-width="1.05"/>
<rect x="157.2" y="595.4" width="9.2" height="61.9" fill="#000" stroke="#000" stroke-width="1.05"/>
<path d="M125.2 645.2V647.6M122.9 645.2H127.4M122.9 647.6H127.4" stroke="#000" stroke-width="1.1" fill="none"/>
<path d="M134.3 645.6V647.2M132.1 645.6H136.6M132.1 647.2H136.6" stroke="#000" stroke-width="1.1" fill="none"/>
<path d="M143.5 646.4V647.6M141.2 646.4H145.7M141.2 647.6H145.7" stroke="#000" stroke-width="1.1" fill="none"/>
<path d="M152.6 575.4V596.8M149.4 575.4H155.9" stroke="#000" stroke-width="1.1" fill="none"/>
<path d="M161.8 583.1V595.4M158.5 583.1H165.0" stroke="#000" stroke-width="1.1" fill="none"/>
<defs><pattern id="q9" width="11.7" height="11" patternUnits="userSpaceOnUse" patternTransform="translate(179.80 654.30)"><rect width="11.7" height="11" fill="#fff"/><rect x="0.4" y="0.5" width="1.4" height="1.4" fill="#000"/><rect x="6.2" y="6" width="1.4" height="1.4" fill="#000"/></pattern></defs>
<defs><pattern id="q10" width="4.3" height="4.6" patternUnits="userSpaceOnUse" patternTransform="translate(188.65 657.30)"><rect width="4.3" height="4.6" fill="#fff"/><rect x="1.5" y="0.3" width="1.25" height="1.25" fill="#000"/><rect x="3.65" y="2.6" width="1.25" height="1.25" fill="#000"/><rect x="-0.65" y="2.6" width="1.25" height="1.25" fill="#000"/></pattern></defs>
<defs><pattern id="q11" width="4.86" height="5.4" patternUnits="userSpaceOnUse" patternTransform="translate(197.80 657.30)"><rect width="4.86" height="5.4" fill="#fff"/><path d="M-4.86 8.10L4.86 -2.70M0.00 8.10L9.72 -2.70" stroke="#000" stroke-width="1.7" fill="none"/></pattern></defs>
<defs><pattern id="q12" width="9.15" height="5.4" patternUnits="userSpaceOnUse" patternTransform="translate(206.95 657.30)"><rect width="9.15" height="5.4" fill="#000"/><rect x="1.3" y="0.6" width="3" height="1.6" fill="#fff"/><rect x="5.7" y="3.3" width="3" height="1.6" fill="#fff"/></pattern></defs>
<rect x="179.5" y="477.7" width="9.2" height="179.6" fill="url(#q9)" stroke="#000" stroke-width="1.05"/>
<rect x="188.7" y="476.4" width="9.2" height="180.9" fill="url(#q10)" stroke="#000" stroke-width="1.05"/>
<rect x="197.8" y="481.3" width="9.2" height="176.0" fill="url(#q11)" stroke="#000" stroke-width="1.05"/>
<rect x="206.9" y="559.5" width="9.2" height="97.8" fill="url(#q12)" stroke="#000" stroke-width="1.05"/>
<rect x="216.1" y="580.3" width="9.2" height="77.0" fill="#000" stroke="#000" stroke-width="1.05"/>
<path d="M184.1 475.8V479.7M181.8 475.8H186.3M181.8 479.7H186.3" stroke="#000" stroke-width="1.1" fill="none"/>
<path d="M193.2 475.8V477.0M191.0 475.8H195.5M191.0 477.0H195.5" stroke="#000" stroke-width="1.1" fill="none"/>
<path d="M202.4 477.7V484.9M199.1 477.7H205.6M199.1 484.9H205.6" stroke="#000" stroke-width="1.1" fill="none"/>
<path d="M211.5 528.5V559.5M208.3 528.5H214.8" stroke="#000" stroke-width="1.1" fill="none"/>
<path d="M220.7 563.9V580.3M217.4 563.9H223.9" stroke="#000" stroke-width="1.1" fill="none"/>
<text x="94.0" y="594.1" class="b" font-size="11.8px" text-anchor="middle" stroke="#000" stroke-width="0.35">*</text>
<text x="103.5" y="580.1" class="b" font-size="11.8px" text-anchor="middle" stroke="#000" stroke-width="0.35">*</text>
<text x="153.2" y="571.6" class="b" font-size="11.8px" text-anchor="middle" stroke="#000" stroke-width="0.35">*</text>
<text x="163.2" y="579.1" class="b" font-size="11.8px" text-anchor="middle" stroke="#000" stroke-width="0.35">*</text>
<text x="210.89999999999998" y="524.6" class="b" font-size="11.8px" text-anchor="middle" stroke="#000" stroke-width="0.35">*</text>
<text x="221.39999999999998" y="556.9" class="b" font-size="11.8px" text-anchor="middle" stroke="#000" stroke-width="0.35">*</text>
<defs><pattern id="q13" width="4.3" height="4.6" patternUnits="userSpaceOnUse" patternTransform="translate(64.90 496.20)"><rect width="4.3" height="4.6" fill="#fff"/><rect x="1.5" y="0.3" width="1.25" height="1.25" fill="#000"/><rect x="3.65" y="2.6" width="1.25" height="1.25" fill="#000"/><rect x="-0.65" y="2.6" width="1.25" height="1.25" fill="#000"/></pattern></defs>
<defs><pattern id="q14" width="4.86" height="5.4" patternUnits="userSpaceOnUse" patternTransform="translate(65.30 509.00)"><rect width="4.86" height="5.4" fill="#fff"/><path d="M-4.86 8.10L4.86 -2.70M0.00 8.10L9.72 -2.70" stroke="#000" stroke-width="1.7" fill="none"/></pattern></defs>
<defs><pattern id="q15" width="9.15" height="5.4" patternUnits="userSpaceOnUse" patternTransform="translate(62.80 521.60)"><rect width="9.15" height="5.4" fill="#000"/><rect x="1.3" y="0.6" width="3" height="1.6" fill="#fff"/><rect x="5.7" y="3.3" width="3" height="1.6" fill="#fff"/></pattern></defs>
<rect x="65.3" y="483.5" width="5.1" height="5.1" fill="#fff" stroke="#000" stroke-width="1.1"/>
<text x="72.9" y="489" class="lg">Control</text>
<rect x="65.3" y="496.5" width="5.1" height="5.1" fill="url(#q13)" stroke="#000" stroke-width="1.1"/>
<text x="72.9" y="502" class="lg">VEGF 7 days</text>
<rect x="65.3" y="509.1" width="5.1" height="5.1" fill="url(#q14)" stroke="#000" stroke-width="1.1"/>
<text x="72.9" y="514.6" class="lg">VEGF 14 days</text>
<rect x="65.3" y="521.8" width="5.1" height="5.1" fill="url(#q15)" stroke="#000" stroke-width="1.1"/>
<text x="72.9" y="527.3" class="lg">VEGF 21 days</text>
<rect x="65.3" y="534.7" width="5.1" height="5.1" fill="#000" stroke="#000" stroke-width="1.1"/>
<text x="72.9" y="540.2" class="lg">VEGF 28 days</text>
<text x="275.5" y="445.1" class="pl">D</text>
<path d="M332.8 473.2V658.1" stroke="#000" stroke-width="1.8" fill="none"/>
<path d="M328.7 654.6H520" stroke="#000" stroke-width="2" fill="none"/>
<line x1="328.7" x2="332.8" y1="624.5" y2="624.5" stroke="#000" stroke-width="1.6"/>
<line x1="328.7" x2="332.8" y1="594.3" y2="594.3" stroke="#000" stroke-width="1.6"/>
<line x1="328.7" x2="332.8" y1="564.2" y2="564.2" stroke="#000" stroke-width="1.6"/>
<line x1="328.7" x2="332.8" y1="534.0" y2="534.0" stroke="#000" stroke-width="1.6"/>
<line x1="328.7" x2="332.8" y1="503.9" y2="503.9" stroke="#000" stroke-width="1.6"/>
<line x1="328.7" x2="332.8" y1="473.7" y2="473.7" stroke="#000" stroke-width="1.6"/>
<line x1="364.1" x2="364.1" y1="654.6" y2="658.1" stroke="#000" stroke-width="1.6"/>
<line x1="395.0" x2="395.0" y1="654.6" y2="658.1" stroke="#000" stroke-width="1.6"/>
<line x1="425.9" x2="425.9" y1="654.6" y2="658.1" stroke="#000" stroke-width="1.6"/>
<line x1="456.8" x2="456.8" y1="654.6" y2="658.1" stroke="#000" stroke-width="1.6"/>
<line x1="487.7" x2="487.7" y1="654.6" y2="658.1" stroke="#000" stroke-width="1.6"/>
<line x1="518.6" x2="518.6" y1="654.6" y2="658.1" stroke="#000" stroke-width="1.6"/>
<text class="b" font-size="10.2px" letter-spacing="1.6px" text-anchor="end" transform="translate(325 658.3) scale(1.1 1)">0.0</text>
<text class="b" font-size="10.2px" letter-spacing="1.6px" text-anchor="end" transform="translate(325 628.2) scale(1.1 1)">0.5</text>
<text class="b" font-size="10.2px" letter-spacing="1.6px" text-anchor="end" transform="translate(325 598.0) scale(1.1 1)">1.0</text>
<text class="b" font-size="10.2px" letter-spacing="1.6px" text-anchor="end" transform="translate(325 567.9) scale(1.1 1)">1.5</text>
<text class="b" font-size="10.2px" letter-spacing="1.6px" text-anchor="end" transform="translate(325 537.7) scale(1.1 1)">2.0</text>
<text class="b" font-size="10.2px" letter-spacing="1.6px" text-anchor="end" transform="translate(325 507.6) scale(1.1 1)">2.5</text>
<text class="b" font-size="10.2px" letter-spacing="1.6px" text-anchor="end" transform="translate(325 477.4) scale(1.1 1)">3.0</text>
<text x="286" y="560.1" class="b" font-size="10.87px" text-anchor="middle" transform="rotate(-90 286 560.1)">Absolute number (in millions)</text>
<text x="398.3" y="693.8" class="b" font-size="10.95px">Triple negative subsets</text>
<text x="348.3" y="672.5" class="b" font-size="9.3px" letter-spacing="0.5px" text-anchor="middle">TN</text>
<text x="410.2" y="672.5" class="b" font-size="9.3px" letter-spacing="0.5px" text-anchor="middle">TN1</text>
<text x="440.7" y="672.5" class="b" font-size="9.3px" letter-spacing="0.5px" text-anchor="middle">TN2</text>
<text x="471.7" y="672.5" class="b" font-size="9.3px" letter-spacing="0.5px" text-anchor="middle">TN3</text>
<text x="503" y="672.5" class="b" font-size="9.3px" letter-spacing="0.5px" text-anchor="middle">TN4</text>
<defs><pattern id="q16" width="7.7" height="6" patternUnits="userSpaceOnUse" patternTransform="translate(339.20 654.60)"><rect width="7.7" height="6" fill="#fff"/><rect x="0.2" y="1" width="1.5" height="1.5" fill="#000"/><rect x="3.9" y="4" width="1.5" height="1.5" fill="#000"/></pattern></defs>
<rect x="339.0" y="512.3" width="9.2" height="142.3" fill="url(#q16)" stroke="#000" stroke-width="1.05"/>
<rect x="348.2" y="631.1" width="9.2" height="23.5" fill="#000" stroke="#000" stroke-width="1.05"/>
<path d="M343.6 502.0V522.5M340.4 502.0H346.9M340.4 522.5H346.9" stroke="#000" stroke-width="1.1" fill="none"/>
<path d="M352.8 620.2V631.1M349.6 620.2H356.1" stroke="#000" stroke-width="1.1" fill="none"/>
<defs><pattern id="q17" width="7.7" height="6" patternUnits="userSpaceOnUse" patternTransform="translate(401.20 654.60)"><rect width="7.7" height="6" fill="#fff"/><rect x="0.2" y="1" width="1.5" height="1.5" fill="#000"/><rect x="3.9" y="4" width="1.5" height="1.5" fill="#000"/></pattern></defs>
<rect x="401.0" y="619.6" width="9.2" height="35.0" fill="url(#q17)" stroke="#000" stroke-width="1.05"/>
<rect x="410.2" y="641.9" width="9.2" height="12.7" fill="#000" stroke="#000" stroke-width="1.05"/>
<path d="M405.6 615.4V623.8M402.4 615.4H408.9M402.4 623.8H408.9" stroke="#000" stroke-width="1.1" fill="none"/>
<path d="M414.8 636.5V641.9M411.6 636.5H418.1" stroke="#000" stroke-width="1.1" fill="none"/>
<defs><pattern id="q18" width="7.7" height="6" patternUnits="userSpaceOnUse" patternTransform="translate(432.20 654.60)"><rect width="7.7" height="6" fill="#fff"/><rect x="0.2" y="1" width="1.5" height="1.5" fill="#000"/><rect x="3.9" y="4" width="1.5" height="1.5" fill="#000"/></pattern></defs>
<rect x="432.0" y="633.5" width="9.2" height="21.1" fill="url(#q18)" stroke="#000" stroke-width="1.05"/>
<rect x="441.2" y="652.8" width="9.2" height="1.8" fill="#000" stroke="#000" stroke-width="1.05"/>
<path d="M436.6 630.5V636.5M433.4 630.5H439.9M433.4 636.5H439.9" stroke="#000" stroke-width="1.1" fill="none"/>
<defs><pattern id="q19" width="7.7" height="6" patternUnits="userSpaceOnUse" patternTransform="translate(463.20 654.60)"><rect width="7.7" height="6" fill="#fff"/><rect x="0.2" y="1" width="1.5" height="1.5" fill="#000"/><rect x="3.9" y="4" width="1.5" height="1.5" fill="#000"/></pattern></defs>
<rect x="463.0" y="607.9" width="9.2" height="46.7" fill="url(#q19)" stroke="#000" stroke-width="1.05"/>
<rect x="472.2" y="653.4" width="9.2" height="1.2" fill="#000" stroke="#000" stroke-width="1.05"/>
<path d="M467.6 600.3V615.4M464.4 600.3H470.9M464.4 615.4H470.9" stroke="#000" stroke-width="1.1" fill="none"/>
<defs><pattern id="q20" width="7.7" height="6" patternUnits="userSpaceOnUse" patternTransform="translate(494.50 654.60)"><rect width="7.7" height="6" fill="#fff"/><rect x="0.2" y="1" width="1.5" height="1.5" fill="#000"/><rect x="3.9" y="4" width="1.5" height="1.5" fill="#000"/></pattern></defs>
<rect x="494.3" y="616.0" width="9.2" height="38.6" fill="url(#q20)" stroke="#000" stroke-width="1.05"/>
<rect x="503.5" y="646.8" width="9.2" height="7.8" fill="#000" stroke="#000" stroke-width="1.05"/>
<path d="M498.9 610.6V621.4M495.7 610.6H502.2M495.7 621.4H502.2" stroke="#000" stroke-width="1.1" fill="none"/>
<path d="M508.1 641.3V646.8M504.9 641.3H511.4" stroke="#000" stroke-width="1.1" fill="none"/>
<text x="352.59999999999997" y="617.9" class="b" font-size="11.8px" text-anchor="middle" stroke="#000" stroke-width="0.35">*</text>
<text x="415.2" y="634.1" class="b" font-size="11.8px" text-anchor="middle" stroke="#000" stroke-width="0.35">*</text>
<text x="446.2" y="647.6" class="b" font-size="11.8px" text-anchor="middle" stroke="#000" stroke-width="0.35">*</text>
<text x="478.5" y="648.1" class="b" font-size="11.8px" text-anchor="middle" stroke="#000" stroke-width="0.35">*</text>
<text x="509.4" y="637.3000000000001" class="b" font-size="11.8px" text-anchor="middle" stroke="#000" stroke-width="0.35">*</text>
<rect x="426.8" y="501" width="6.5" height="6.5" fill="#fff" stroke="#000" stroke-width="0.9"/><rect x="428.5" y="502.5" width="1.1" height="1.1"/>
<rect x="426.5" y="516.6" width="7" height="7" fill="#000"/>
<text x="435.8" y="507.8" class="b" font-size="9.6px">Control</text>
<text x="435.8" y="523.5" class="b" font-size="9.6px">VEGF 28 days</text>
</svg></body></html>
